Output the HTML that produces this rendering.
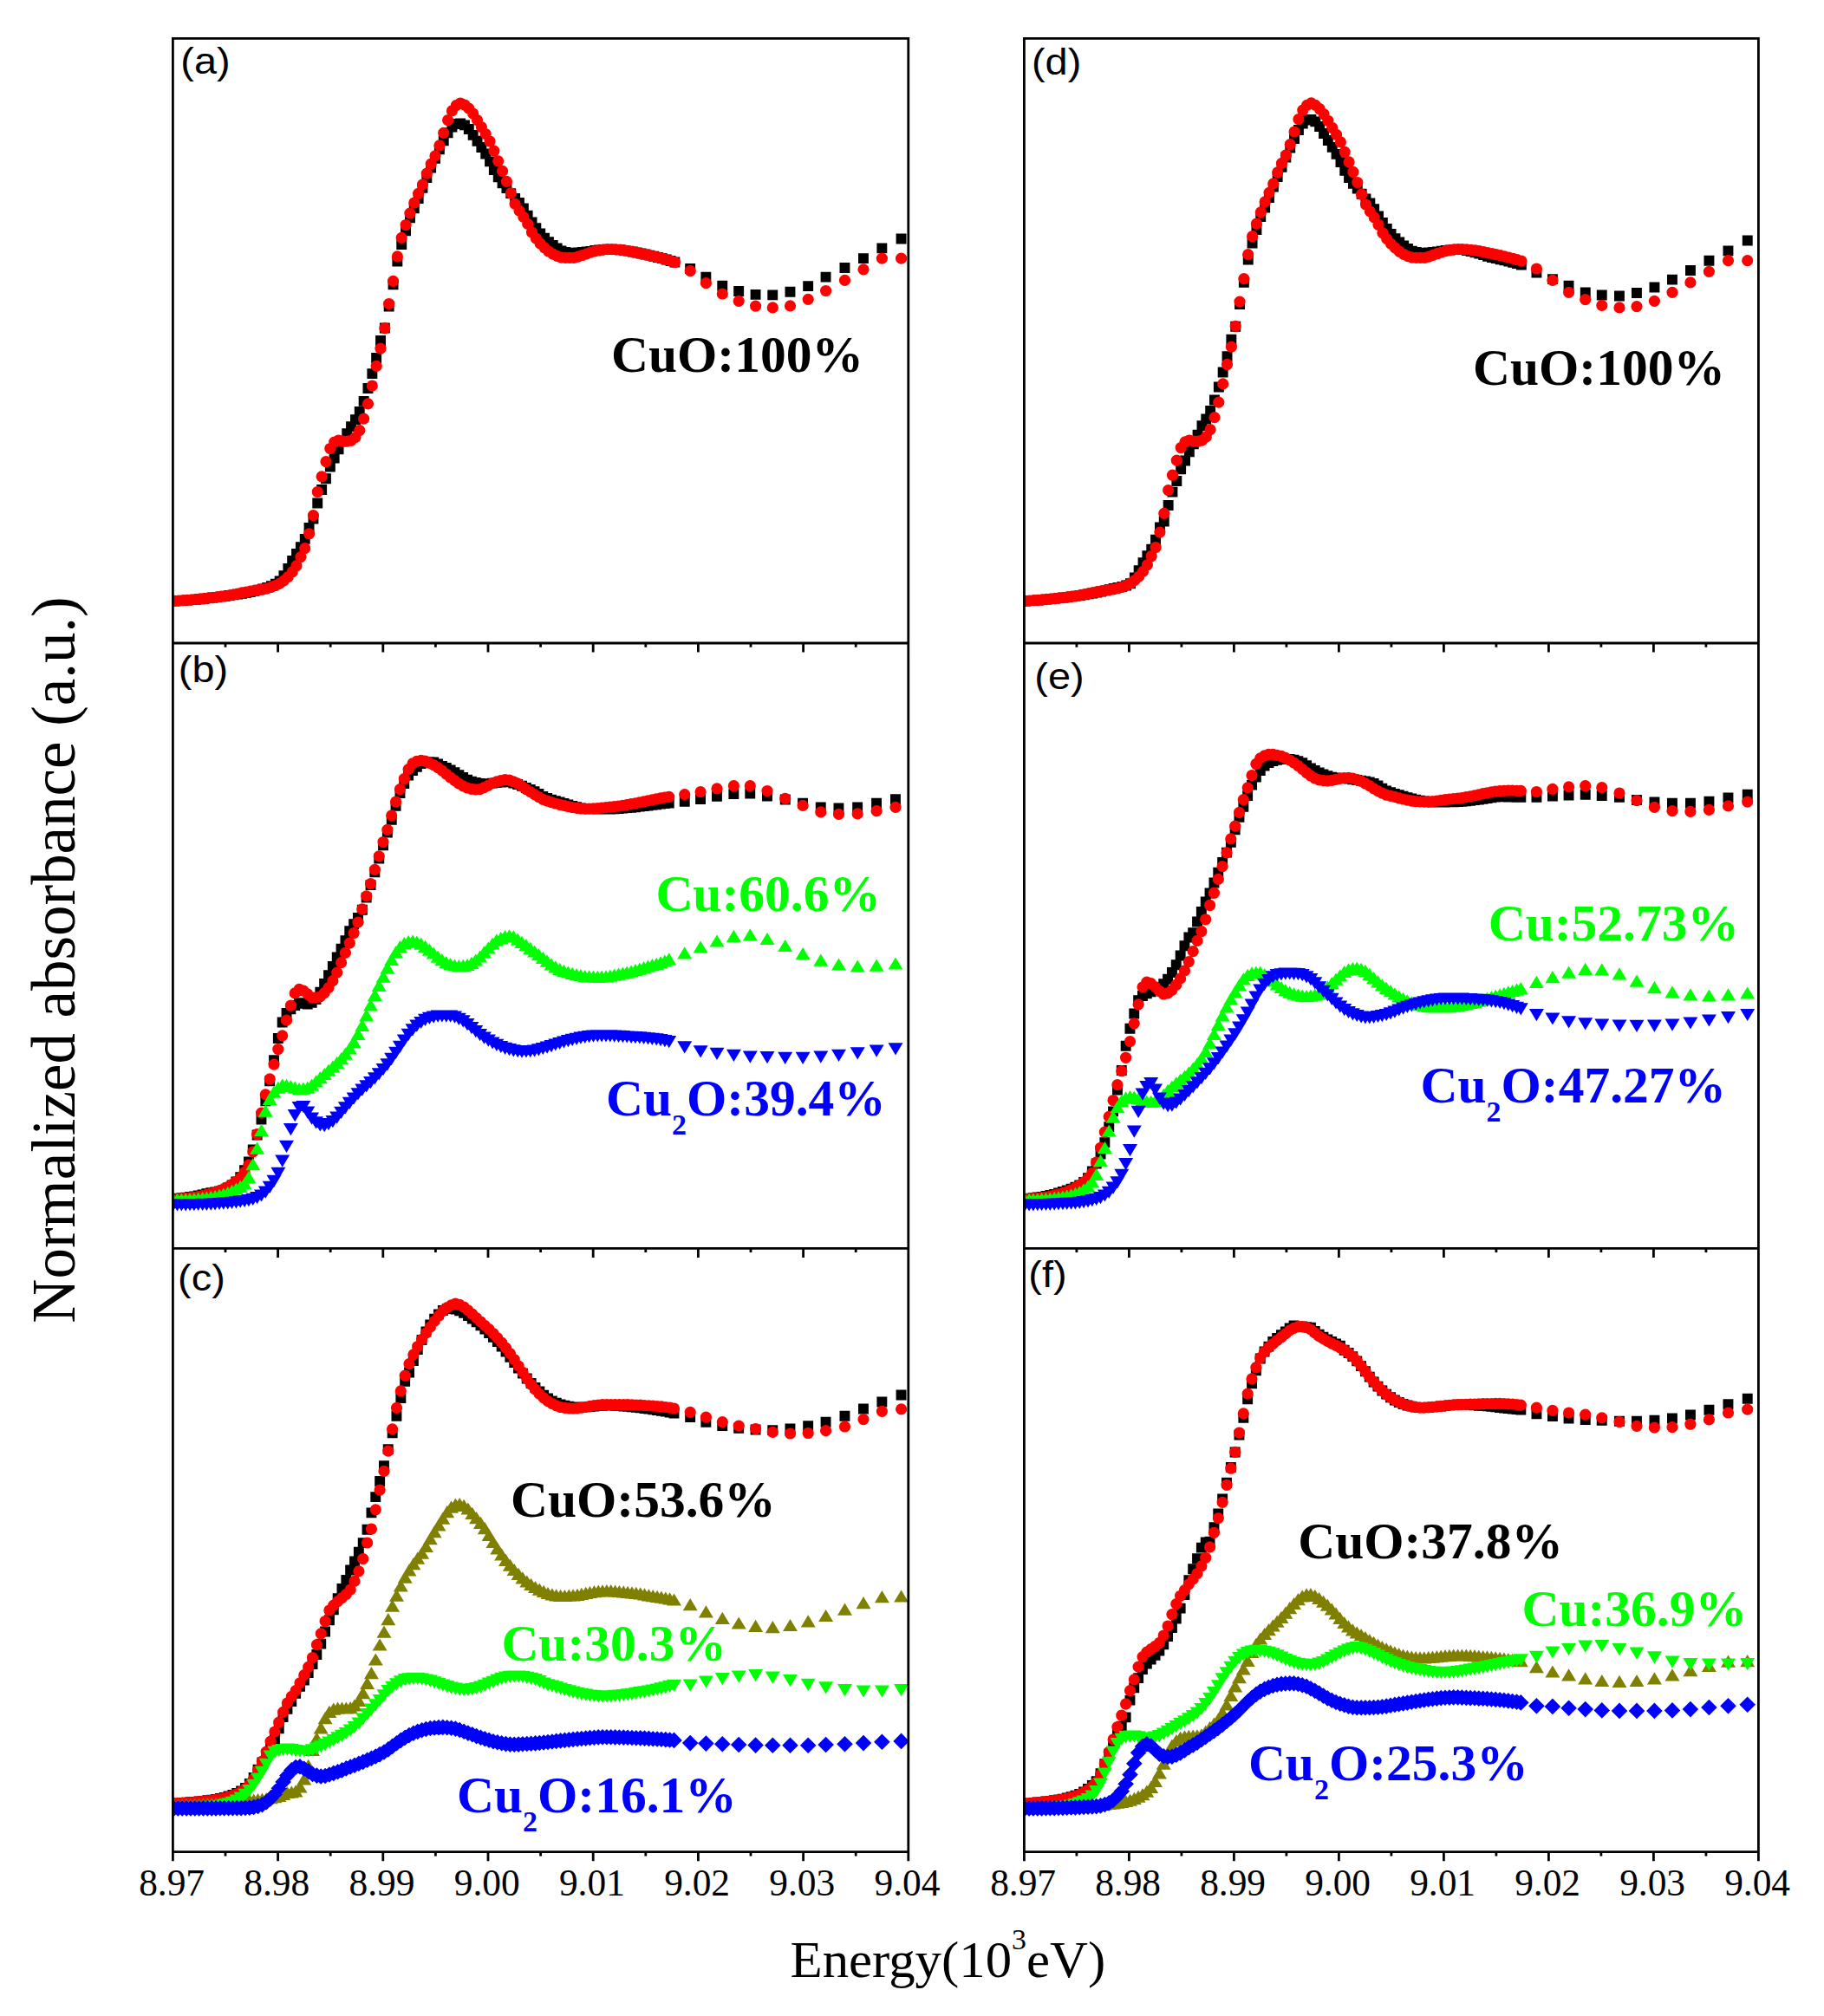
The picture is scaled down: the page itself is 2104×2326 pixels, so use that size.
<!DOCTYPE html>
<html><head><meta charset="utf-8"><title>XANES linear combination fitting</title>
<style>html,body{margin:0;padding:0;background:#fff}svg{display:block}</style></head>
<body>
<svg width="2104" height="2326" viewBox="0 0 2104 2326">
<defs><clipPath id="cl"><rect x="199.4" y="44.3" width="860.4" height="2092.4"/></clipPath><clipPath id="cr"><rect x="1181.4" y="44.3" width="859" height="2092.4"/></clipPath></defs>
<rect width="2104" height="2326" fill="#fff"/>
<g clip-path="url(#cl)">
<path fill="#000" d="M195.5 687.5h11.9v11.9h-11.9zM200.3 687.2h11.9v11.9h-11.9zM205.2 687h11.9v11.9h-11.9zM210 686.6h11.9v11.9h-11.9zM214.9 686.2h11.9v11.9h-11.9zM219.7 685.8h11.9v11.9h-11.9zM224.6 685.3h11.9v11.9h-11.9zM229.4 684.8h11.9v11.9h-11.9zM234.3 684.2h11.9v11.9h-11.9zM239.1 683.6h11.9v11.9h-11.9zM244 683h11.9v11.9h-11.9zM248.8 682.4h11.9v11.9h-11.9zM253.7 681.8h11.9v11.9h-11.9zM258.5 681.1h11.9v11.9h-11.9zM263.4 680.4h11.9v11.9h-11.9zM268.2 679.7h11.9v11.9h-11.9zM273.1 678.9h11.9v11.9h-11.9zM277.9 678h11.9v11.9h-11.9zM282.8 677h11.9v11.9h-11.9zM287.6 675.9h11.9v11.9h-11.9zM292.5 674.7h11.9v11.9h-11.9zM297.3 673.4h11.9v11.9h-11.9zM302.2 672h11.9v11.9h-11.9zM307 670.2h11.9v11.9h-11.9zM311.9 667.8h11.9v11.9h-11.9zM316.7 664.5h11.9v11.9h-11.9zM321.5 658.2h11.9v11.9h-11.9zM326.4 650h11.9v11.9h-11.9zM331.2 641h11.9v11.9h-11.9zM336.1 633h11.9v11.9h-11.9zM340.9 625.3h11.9v11.9h-11.9zM345.8 615.9h11.9v11.9h-11.9zM350.6 603h11.9v11.9h-11.9zM355.5 592.6h11.9v11.9h-11.9zM360.3 574.5h11.9v11.9h-11.9zM365.2 559h11.9v11.9h-11.9zM370 546.3h11.9v11.9h-11.9zM374.9 532.5h11.9v11.9h-11.9zM379.7 522.5h11.9v11.9h-11.9zM384.6 512.3h11.9v11.9h-11.9zM389.4 502.9h11.9v11.9h-11.9zM394.3 494.2h11.9v11.9h-11.9zM399.1 486.2h11.9v11.9h-11.9zM404 478.3h11.9v11.9h-11.9zM408.8 468.9h11.9v11.9h-11.9zM413.7 456.9h11.9v11.9h-11.9zM418.5 442.1h11.9v11.9h-11.9zM423.4 425.2h11.9v11.9h-11.9zM428.2 407.1h11.9v11.9h-11.9zM433.1 387.1h11.9v11.9h-11.9zM437.9 372.6h11.9v11.9h-11.9zM442.7 347.5h11.9v11.9h-11.9zM447.6 322.3h11.9v11.9h-11.9zM452.4 295.6h11.9v11.9h-11.9zM457.3 276.2h11.9v11.9h-11.9zM462.1 260.4h11.9v11.9h-11.9zM467 245.3h11.9v11.9h-11.9zM471.8 234.4h11.9v11.9h-11.9zM476.7 223.2h11.9v11.9h-11.9zM481.5 210.8h11.9v11.9h-11.9zM486.4 199h11.9v11.9h-11.9zM491.2 187.7h11.9v11.9h-11.9zM496.1 176.8h11.9v11.9h-11.9zM500.9 166.3h11.9v11.9h-11.9zM505.8 156.4h11.9v11.9h-11.9zM510.6 147.3h11.9v11.9h-11.9zM515.5 140.5h11.9v11.9h-11.9zM520.3 137h11.9v11.9h-11.9zM525.2 136.6h11.9v11.9h-11.9zM530 138.4h11.9v11.9h-11.9zM534.9 143.1h11.9v11.9h-11.9zM539.7 149.9h11.9v11.9h-11.9zM544.6 156.8h11.9v11.9h-11.9zM549.4 164h11.9v11.9h-11.9zM554.3 171.6h11.9v11.9h-11.9zM559.1 180.4h11.9v11.9h-11.9zM563.9 190.1h11.9v11.9h-11.9zM568.8 198.4h11.9v11.9h-11.9zM573.6 205.3h11.9v11.9h-11.9zM578.5 211.1h11.9v11.9h-11.9zM583.3 217.2h11.9v11.9h-11.9zM588.2 223.1h11.9v11.9h-11.9zM593 227.9h11.9v11.9h-11.9zM597.9 234.5h11.9v11.9h-11.9zM602.7 242.8h11.9v11.9h-11.9zM607.6 250.4h11.9v11.9h-11.9zM612.4 257.3h11.9v11.9h-11.9zM617.3 263.5h11.9v11.9h-11.9zM622.1 268.7h11.9v11.9h-11.9zM627 273.2h11.9v11.9h-11.9zM631.8 277h11.9v11.9h-11.9zM636.7 280.6h11.9v11.9h-11.9zM641.5 283.6h11.9v11.9h-11.9zM646.4 285h11.9v11.9h-11.9zM651.2 285.8h11.9v11.9h-11.9zM656.1 285.9h11.9v11.9h-11.9zM660.9 285.6h11.9v11.9h-11.9zM665.8 285.1h11.9v11.9h-11.9zM670.6 284.6h11.9v11.9h-11.9zM675.5 283.9h11.9v11.9h-11.9zM680.3 283.1h11.9v11.9h-11.9zM685.1 282.5h11.9v11.9h-11.9zM690 281.9h11.9v11.9h-11.9zM694.8 281.7h11.9v11.9h-11.9zM699.7 281.7h11.9v11.9h-11.9zM704.5 282h11.9v11.9h-11.9zM709.4 282.3h11.9v11.9h-11.9zM714.2 282.9h11.9v11.9h-11.9zM719.1 283.7h11.9v11.9h-11.9zM723.9 284.5h11.9v11.9h-11.9zM728.8 285.6h11.9v11.9h-11.9zM733.6 286.6h11.9v11.9h-11.9zM738.5 287.6h11.9v11.9h-11.9zM743.3 288.7h11.9v11.9h-11.9zM748.2 289.8h11.9v11.9h-11.9zM753 291h11.9v11.9h-11.9zM757.9 292.2h11.9v11.9h-11.9zM762.7 293.6h11.9v11.9h-11.9zM767.6 295h11.9v11.9h-11.9zM772.4 296.6h11.9v11.9h-11.9zM790.2 304.1h11.9v11.9h-11.9zM808.4 313.7h11.9v11.9h-11.9zM827.3 323.8h11.9v11.9h-11.9zM846.2 330.1h11.9v11.9h-11.9zM865.6 333.9h11.9v11.9h-11.9zM885.3 334.4h11.9v11.9h-11.9zM905.5 330.8h11.9v11.9h-11.9zM926.2 324.2h11.9v11.9h-11.9zM946.6 313.7h11.9v11.9h-11.9zM968.5 303.1h11.9v11.9h-11.9zM990 292.2h11.9v11.9h-11.9zM1011.4 280.4h11.9v11.9h-11.9zM1033.6 269.6h11.9v11.9h-11.9z"/>
<path fill="#f00" d="M194.9 693.4a6.6 6.6 0 1 0 13.2 0a6.6 6.6 0 1 0 -13.2 0zM199.7 693.1a6.6 6.6 0 1 0 13.2 0a6.6 6.6 0 1 0 -13.2 0zM204.5 692.7a6.6 6.6 0 1 0 13.2 0a6.6 6.6 0 1 0 -13.2 0zM209.4 692.4a6.6 6.6 0 1 0 13.2 0a6.6 6.6 0 1 0 -13.2 0zM214.2 692a6.6 6.6 0 1 0 13.2 0a6.6 6.6 0 1 0 -13.2 0zM219.1 691.6a6.6 6.6 0 1 0 13.2 0a6.6 6.6 0 1 0 -13.2 0zM223.9 691.1a6.6 6.6 0 1 0 13.2 0a6.6 6.6 0 1 0 -13.2 0zM228.8 690.7a6.6 6.6 0 1 0 13.2 0a6.6 6.6 0 1 0 -13.2 0zM233.6 690.2a6.6 6.6 0 1 0 13.2 0a6.6 6.6 0 1 0 -13.2 0zM238.5 689.6a6.6 6.6 0 1 0 13.2 0a6.6 6.6 0 1 0 -13.2 0zM243.3 689.1a6.6 6.6 0 1 0 13.2 0a6.6 6.6 0 1 0 -13.2 0zM248.2 688.4a6.6 6.6 0 1 0 13.2 0a6.6 6.6 0 1 0 -13.2 0zM253 687.8a6.6 6.6 0 1 0 13.2 0a6.6 6.6 0 1 0 -13.2 0zM257.9 687a6.6 6.6 0 1 0 13.2 0a6.6 6.6 0 1 0 -13.2 0zM262.7 686a6.6 6.6 0 1 0 13.2 0a6.6 6.6 0 1 0 -13.2 0zM267.6 685a6.6 6.6 0 1 0 13.2 0a6.6 6.6 0 1 0 -13.2 0zM272.4 683.9a6.6 6.6 0 1 0 13.2 0a6.6 6.6 0 1 0 -13.2 0zM277.3 683a6.6 6.6 0 1 0 13.2 0a6.6 6.6 0 1 0 -13.2 0zM282.1 682.2a6.6 6.6 0 1 0 13.2 0a6.6 6.6 0 1 0 -13.2 0zM287 681.4a6.6 6.6 0 1 0 13.2 0a6.6 6.6 0 1 0 -13.2 0zM291.8 680.7a6.6 6.6 0 1 0 13.2 0a6.6 6.6 0 1 0 -13.2 0zM296.7 679.9a6.6 6.6 0 1 0 13.2 0a6.6 6.6 0 1 0 -13.2 0zM301.5 678.8a6.6 6.6 0 1 0 13.2 0a6.6 6.6 0 1 0 -13.2 0zM306.4 677.4a6.6 6.6 0 1 0 13.2 0a6.6 6.6 0 1 0 -13.2 0zM311.2 675.5a6.6 6.6 0 1 0 13.2 0a6.6 6.6 0 1 0 -13.2 0zM316.1 673.1a6.6 6.6 0 1 0 13.2 0a6.6 6.6 0 1 0 -13.2 0zM320.9 669.8a6.6 6.6 0 1 0 13.2 0a6.6 6.6 0 1 0 -13.2 0zM325.7 665.5a6.6 6.6 0 1 0 13.2 0a6.6 6.6 0 1 0 -13.2 0zM330.6 659.9a6.6 6.6 0 1 0 13.2 0a6.6 6.6 0 1 0 -13.2 0zM335.4 652.7a6.6 6.6 0 1 0 13.2 0a6.6 6.6 0 1 0 -13.2 0zM340.3 642.6a6.6 6.6 0 1 0 13.2 0a6.6 6.6 0 1 0 -13.2 0zM345.1 632.7a6.6 6.6 0 1 0 13.2 0a6.6 6.6 0 1 0 -13.2 0zM350 615.8a6.6 6.6 0 1 0 13.2 0a6.6 6.6 0 1 0 -13.2 0zM354.8 594.6a6.6 6.6 0 1 0 13.2 0a6.6 6.6 0 1 0 -13.2 0zM359.7 567.5a6.6 6.6 0 1 0 13.2 0a6.6 6.6 0 1 0 -13.2 0zM364.5 549.8a6.6 6.6 0 1 0 13.2 0a6.6 6.6 0 1 0 -13.2 0zM369.4 532.6a6.6 6.6 0 1 0 13.2 0a6.6 6.6 0 1 0 -13.2 0zM374.2 517.5a6.6 6.6 0 1 0 13.2 0a6.6 6.6 0 1 0 -13.2 0zM379.1 510.1a6.6 6.6 0 1 0 13.2 0a6.6 6.6 0 1 0 -13.2 0zM383.9 508a6.6 6.6 0 1 0 13.2 0a6.6 6.6 0 1 0 -13.2 0zM388.8 509.1a6.6 6.6 0 1 0 13.2 0a6.6 6.6 0 1 0 -13.2 0zM393.6 509.2a6.6 6.6 0 1 0 13.2 0a6.6 6.6 0 1 0 -13.2 0zM398.5 508.3a6.6 6.6 0 1 0 13.2 0a6.6 6.6 0 1 0 -13.2 0zM403.3 504.7a6.6 6.6 0 1 0 13.2 0a6.6 6.6 0 1 0 -13.2 0zM408.2 496.7a6.6 6.6 0 1 0 13.2 0a6.6 6.6 0 1 0 -13.2 0zM413 483.2a6.6 6.6 0 1 0 13.2 0a6.6 6.6 0 1 0 -13.2 0zM417.9 465.8a6.6 6.6 0 1 0 13.2 0a6.6 6.6 0 1 0 -13.2 0zM422.7 445a6.6 6.6 0 1 0 13.2 0a6.6 6.6 0 1 0 -13.2 0zM427.6 422.4a6.6 6.6 0 1 0 13.2 0a6.6 6.6 0 1 0 -13.2 0zM432.4 402.1a6.6 6.6 0 1 0 13.2 0a6.6 6.6 0 1 0 -13.2 0zM437.2 378.7a6.6 6.6 0 1 0 13.2 0a6.6 6.6 0 1 0 -13.2 0zM442.1 350.5a6.6 6.6 0 1 0 13.2 0a6.6 6.6 0 1 0 -13.2 0zM446.9 324.3a6.6 6.6 0 1 0 13.2 0a6.6 6.6 0 1 0 -13.2 0zM451.8 295.9a6.6 6.6 0 1 0 13.2 0a6.6 6.6 0 1 0 -13.2 0zM456.6 274.3a6.6 6.6 0 1 0 13.2 0a6.6 6.6 0 1 0 -13.2 0zM461.5 259.5a6.6 6.6 0 1 0 13.2 0a6.6 6.6 0 1 0 -13.2 0zM466.3 246.1a6.6 6.6 0 1 0 13.2 0a6.6 6.6 0 1 0 -13.2 0zM471.2 234a6.6 6.6 0 1 0 13.2 0a6.6 6.6 0 1 0 -13.2 0zM476 223.3a6.6 6.6 0 1 0 13.2 0a6.6 6.6 0 1 0 -13.2 0zM480.9 212.9a6.6 6.6 0 1 0 13.2 0a6.6 6.6 0 1 0 -13.2 0zM485.7 200.2a6.6 6.6 0 1 0 13.2 0a6.6 6.6 0 1 0 -13.2 0zM490.6 189.2a6.6 6.6 0 1 0 13.2 0a6.6 6.6 0 1 0 -13.2 0zM495.4 179.8a6.6 6.6 0 1 0 13.2 0a6.6 6.6 0 1 0 -13.2 0zM500.3 167.8a6.6 6.6 0 1 0 13.2 0a6.6 6.6 0 1 0 -13.2 0zM505.1 153.3a6.6 6.6 0 1 0 13.2 0a6.6 6.6 0 1 0 -13.2 0zM510 138.7a6.6 6.6 0 1 0 13.2 0a6.6 6.6 0 1 0 -13.2 0zM514.8 127.9a6.6 6.6 0 1 0 13.2 0a6.6 6.6 0 1 0 -13.2 0zM519.7 121.7a6.6 6.6 0 1 0 13.2 0a6.6 6.6 0 1 0 -13.2 0zM524.5 119a6.6 6.6 0 1 0 13.2 0a6.6 6.6 0 1 0 -13.2 0zM529.4 121a6.6 6.6 0 1 0 13.2 0a6.6 6.6 0 1 0 -13.2 0zM534.2 125.2a6.6 6.6 0 1 0 13.2 0a6.6 6.6 0 1 0 -13.2 0zM539.1 131a6.6 6.6 0 1 0 13.2 0a6.6 6.6 0 1 0 -13.2 0zM543.9 138.6a6.6 6.6 0 1 0 13.2 0a6.6 6.6 0 1 0 -13.2 0zM548.8 146.7a6.6 6.6 0 1 0 13.2 0a6.6 6.6 0 1 0 -13.2 0zM553.6 154.7a6.6 6.6 0 1 0 13.2 0a6.6 6.6 0 1 0 -13.2 0zM558.4 163a6.6 6.6 0 1 0 13.2 0a6.6 6.6 0 1 0 -13.2 0zM563.3 174.1a6.6 6.6 0 1 0 13.2 0a6.6 6.6 0 1 0 -13.2 0zM568.1 185.8a6.6 6.6 0 1 0 13.2 0a6.6 6.6 0 1 0 -13.2 0zM573 197.4a6.6 6.6 0 1 0 13.2 0a6.6 6.6 0 1 0 -13.2 0zM577.8 209.3a6.6 6.6 0 1 0 13.2 0a6.6 6.6 0 1 0 -13.2 0zM582.7 222.8a6.6 6.6 0 1 0 13.2 0a6.6 6.6 0 1 0 -13.2 0zM587.5 235.3a6.6 6.6 0 1 0 13.2 0a6.6 6.6 0 1 0 -13.2 0zM592.4 243.1a6.6 6.6 0 1 0 13.2 0a6.6 6.6 0 1 0 -13.2 0zM597.2 250.3a6.6 6.6 0 1 0 13.2 0a6.6 6.6 0 1 0 -13.2 0zM602.1 258.3a6.6 6.6 0 1 0 13.2 0a6.6 6.6 0 1 0 -13.2 0zM606.9 268.1a6.6 6.6 0 1 0 13.2 0a6.6 6.6 0 1 0 -13.2 0zM611.8 275.2a6.6 6.6 0 1 0 13.2 0a6.6 6.6 0 1 0 -13.2 0zM616.6 281a6.6 6.6 0 1 0 13.2 0a6.6 6.6 0 1 0 -13.2 0zM621.5 285.8a6.6 6.6 0 1 0 13.2 0a6.6 6.6 0 1 0 -13.2 0zM626.3 290a6.6 6.6 0 1 0 13.2 0a6.6 6.6 0 1 0 -13.2 0zM631.2 293.1a6.6 6.6 0 1 0 13.2 0a6.6 6.6 0 1 0 -13.2 0zM636 295.4a6.6 6.6 0 1 0 13.2 0a6.6 6.6 0 1 0 -13.2 0zM640.9 297.1a6.6 6.6 0 1 0 13.2 0a6.6 6.6 0 1 0 -13.2 0zM645.7 297.4a6.6 6.6 0 1 0 13.2 0a6.6 6.6 0 1 0 -13.2 0zM650.6 297.4a6.6 6.6 0 1 0 13.2 0a6.6 6.6 0 1 0 -13.2 0zM655.4 297.3a6.6 6.6 0 1 0 13.2 0a6.6 6.6 0 1 0 -13.2 0zM660.3 296.2a6.6 6.6 0 1 0 13.2 0a6.6 6.6 0 1 0 -13.2 0zM665.1 294.5a6.6 6.6 0 1 0 13.2 0a6.6 6.6 0 1 0 -13.2 0zM670 292.8a6.6 6.6 0 1 0 13.2 0a6.6 6.6 0 1 0 -13.2 0zM674.8 291.2a6.6 6.6 0 1 0 13.2 0a6.6 6.6 0 1 0 -13.2 0zM679.6 289.8a6.6 6.6 0 1 0 13.2 0a6.6 6.6 0 1 0 -13.2 0zM684.5 288.8a6.6 6.6 0 1 0 13.2 0a6.6 6.6 0 1 0 -13.2 0zM689.3 288a6.6 6.6 0 1 0 13.2 0a6.6 6.6 0 1 0 -13.2 0zM694.2 287.6a6.6 6.6 0 1 0 13.2 0a6.6 6.6 0 1 0 -13.2 0zM699 287.7a6.6 6.6 0 1 0 13.2 0a6.6 6.6 0 1 0 -13.2 0zM703.9 287.9a6.6 6.6 0 1 0 13.2 0a6.6 6.6 0 1 0 -13.2 0zM708.7 288.2a6.6 6.6 0 1 0 13.2 0a6.6 6.6 0 1 0 -13.2 0zM713.6 288.8a6.6 6.6 0 1 0 13.2 0a6.6 6.6 0 1 0 -13.2 0zM718.4 289.6a6.6 6.6 0 1 0 13.2 0a6.6 6.6 0 1 0 -13.2 0zM723.3 290.5a6.6 6.6 0 1 0 13.2 0a6.6 6.6 0 1 0 -13.2 0zM728.1 291.5a6.6 6.6 0 1 0 13.2 0a6.6 6.6 0 1 0 -13.2 0zM733 292.6a6.6 6.6 0 1 0 13.2 0a6.6 6.6 0 1 0 -13.2 0zM737.8 293.6a6.6 6.6 0 1 0 13.2 0a6.6 6.6 0 1 0 -13.2 0zM742.7 294.6a6.6 6.6 0 1 0 13.2 0a6.6 6.6 0 1 0 -13.2 0zM747.5 295.8a6.6 6.6 0 1 0 13.2 0a6.6 6.6 0 1 0 -13.2 0zM752.4 296.9a6.6 6.6 0 1 0 13.2 0a6.6 6.6 0 1 0 -13.2 0zM757.2 298.2a6.6 6.6 0 1 0 13.2 0a6.6 6.6 0 1 0 -13.2 0zM762.1 299.5a6.6 6.6 0 1 0 13.2 0a6.6 6.6 0 1 0 -13.2 0zM766.9 300.9a6.6 6.6 0 1 0 13.2 0a6.6 6.6 0 1 0 -13.2 0zM771.8 302.5a6.6 6.6 0 1 0 13.2 0a6.6 6.6 0 1 0 -13.2 0zM789.6 312.5a6.6 6.6 0 1 0 13.2 0a6.6 6.6 0 1 0 -13.2 0zM807.8 326.7a6.6 6.6 0 1 0 13.2 0a6.6 6.6 0 1 0 -13.2 0zM826.7 339a6.6 6.6 0 1 0 13.2 0a6.6 6.6 0 1 0 -13.2 0zM845.6 347.3a6.6 6.6 0 1 0 13.2 0a6.6 6.6 0 1 0 -13.2 0zM865 353.1a6.6 6.6 0 1 0 13.2 0a6.6 6.6 0 1 0 -13.2 0zM884.7 354.9a6.6 6.6 0 1 0 13.2 0a6.6 6.6 0 1 0 -13.2 0zM904.9 352.9a6.6 6.6 0 1 0 13.2 0a6.6 6.6 0 1 0 -13.2 0zM925.6 345.3a6.6 6.6 0 1 0 13.2 0a6.6 6.6 0 1 0 -13.2 0zM946 335.5a6.6 6.6 0 1 0 13.2 0a6.6 6.6 0 1 0 -13.2 0zM967.9 323.4a6.6 6.6 0 1 0 13.2 0a6.6 6.6 0 1 0 -13.2 0zM989.4 310.8a6.6 6.6 0 1 0 13.2 0a6.6 6.6 0 1 0 -13.2 0zM1010.8 298.2a6.6 6.6 0 1 0 13.2 0a6.6 6.6 0 1 0 -13.2 0zM1033 298.2a6.6 6.6 0 1 0 13.2 0a6.6 6.6 0 1 0 -13.2 0z"/>
<path fill="#000" d="M193.7 1377h11.9v11.9h-11.9zM198.5 1376.7h11.9v11.9h-11.9zM203.4 1376.3h11.9v11.9h-11.9zM208.2 1375.7h11.9v11.9h-11.9zM213.1 1375.1h11.9v11.9h-11.9zM217.9 1374.4h11.9v11.9h-11.9zM222.8 1373.5h11.9v11.9h-11.9zM227.6 1372.4h11.9v11.9h-11.9zM232.5 1371.2h11.9v11.9h-11.9zM237.3 1370.3h11.9v11.9h-11.9zM242.2 1369.4h11.9v11.9h-11.9zM247 1368.5h11.9v11.9h-11.9zM251.9 1367.1h11.9v11.9h-11.9zM256.7 1364.5h11.9v11.9h-11.9zM261.6 1361.4h11.9v11.9h-11.9zM266.4 1357.4h11.9v11.9h-11.9zM271.3 1352.2h11.9v11.9h-11.9zM276.1 1344.3h11.9v11.9h-11.9zM281 1334.6h11.9v11.9h-11.9zM285.8 1320.4h11.9v11.9h-11.9zM290.7 1303.6h11.9v11.9h-11.9zM295.5 1285.7h11.9v11.9h-11.9zM300.4 1264.4h11.9v11.9h-11.9zM305.2 1241.4h11.9v11.9h-11.9zM310.1 1217.3h11.9v11.9h-11.9zM314.9 1192h11.9v11.9h-11.9zM319.7 1173.6h11.9v11.9h-11.9zM324.6 1162.9h11.9v11.9h-11.9zM329.4 1158.4h11.9v11.9h-11.9zM334.3 1154h11.9v11.9h-11.9zM339.1 1151.2h11.9v11.9h-11.9zM344 1151.8h11.9v11.9h-11.9zM348.8 1152.5h11.9v11.9h-11.9zM353.7 1150.9h11.9v11.9h-11.9zM358.5 1147.1h11.9v11.9h-11.9zM363.4 1138.7h11.9v11.9h-11.9zM368.2 1128.9h11.9v11.9h-11.9zM373.1 1119.2h11.9v11.9h-11.9zM377.9 1109.1h11.9v11.9h-11.9zM382.8 1098.5h11.9v11.9h-11.9zM387.6 1088.7h11.9v11.9h-11.9zM392.5 1079.2h11.9v11.9h-11.9zM397.3 1068.3h11.9v11.9h-11.9zM402.2 1060.3h11.9v11.9h-11.9zM407 1052.9h11.9v11.9h-11.9zM411.9 1043.8h11.9v11.9h-11.9zM416.7 1029.7h11.9v11.9h-11.9zM421.6 1015.2h11.9v11.9h-11.9zM426.4 1000.3h11.9v11.9h-11.9zM431.3 984.7h11.9v11.9h-11.9zM436.1 969.3h11.9v11.9h-11.9zM440.9 954.6h11.9v11.9h-11.9zM445.8 939.9h11.9v11.9h-11.9zM450.6 923.8h11.9v11.9h-11.9zM455.5 909.2h11.9v11.9h-11.9zM460.3 898.1h11.9v11.9h-11.9zM465.2 888.7h11.9v11.9h-11.9zM470 883h11.9v11.9h-11.9zM474.9 878.9h11.9v11.9h-11.9zM479.7 875.2h11.9v11.9h-11.9zM484.6 873.6h11.9v11.9h-11.9zM489.4 873.3h11.9v11.9h-11.9zM494.3 873.4h11.9v11.9h-11.9zM499.1 875.6h11.9v11.9h-11.9zM504 878h11.9v11.9h-11.9zM508.8 880.1h11.9v11.9h-11.9zM513.7 882.5h11.9v11.9h-11.9zM518.5 885.3h11.9v11.9h-11.9zM523.4 888.3h11.9v11.9h-11.9zM528.2 891.1h11.9v11.9h-11.9zM533.1 893.8h11.9v11.9h-11.9zM537.9 895.7h11.9v11.9h-11.9zM542.8 897.1h11.9v11.9h-11.9zM547.6 898.1h11.9v11.9h-11.9zM552.5 898.4h11.9v11.9h-11.9zM557.3 898.2h11.9v11.9h-11.9zM562.1 897.7h11.9v11.9h-11.9zM567 897.1h11.9v11.9h-11.9zM571.8 896.5h11.9v11.9h-11.9zM576.7 896.1h11.9v11.9h-11.9zM581.5 896.4h11.9v11.9h-11.9zM586.4 897.6h11.9v11.9h-11.9zM591.2 899h11.9v11.9h-11.9zM596.1 900.8h11.9v11.9h-11.9zM600.9 903h11.9v11.9h-11.9zM605.8 905h11.9v11.9h-11.9zM610.6 907.3h11.9v11.9h-11.9zM615.5 910h11.9v11.9h-11.9zM620.3 913.1h11.9v11.9h-11.9zM625.2 915.1h11.9v11.9h-11.9zM630 916.7h11.9v11.9h-11.9zM634.9 918.2h11.9v11.9h-11.9zM639.7 919.5h11.9v11.9h-11.9zM644.6 920.9h11.9v11.9h-11.9zM649.4 922.4h11.9v11.9h-11.9zM654.3 923.9h11.9v11.9h-11.9zM659.1 925.3h11.9v11.9h-11.9zM664 926.5h11.9v11.9h-11.9zM668.8 927.1h11.9v11.9h-11.9zM673.7 927.3h11.9v11.9h-11.9zM678.5 927.4h11.9v11.9h-11.9zM683.3 927.5h11.9v11.9h-11.9zM688.2 927.6h11.9v11.9h-11.9zM693 927.6h11.9v11.9h-11.9zM697.9 927.6h11.9v11.9h-11.9zM702.7 927.4h11.9v11.9h-11.9zM707.6 927.1h11.9v11.9h-11.9zM712.4 926.6h11.9v11.9h-11.9zM717.3 926.2h11.9v11.9h-11.9zM722.1 925.8h11.9v11.9h-11.9zM727 925.3h11.9v11.9h-11.9zM731.8 924.7h11.9v11.9h-11.9zM736.7 924.1h11.9v11.9h-11.9zM741.5 923.5h11.9v11.9h-11.9zM746.4 922.9h11.9v11.9h-11.9zM751.2 922.3h11.9v11.9h-11.9zM756.1 921.7h11.9v11.9h-11.9zM760.9 921.1h11.9v11.9h-11.9zM765.8 920.5h11.9v11.9h-11.9zM783.8 918.8h11.9v11.9h-11.9zM802.1 916.1h11.9v11.9h-11.9zM821 912.8h11.9v11.9h-11.9zM840.4 910.2h11.9v11.9h-11.9zM859.3 909.5h11.9v11.9h-11.9zM879 912.5h11.9v11.9h-11.9zM899.8 916.5h11.9v11.9h-11.9zM920.1 920.8h11.9v11.9h-11.9zM940.8 925.4h11.9v11.9h-11.9zM961.5 926.6h11.9v11.9h-11.9zM983.2 925.4h11.9v11.9h-11.9zM1005.1 920.8h11.9v11.9h-11.9zM1027 916.3h11.9v11.9h-11.9z"/>
<path fill="#f00" d="M193.1 1383.5a6.6 6.6 0 1 0 13.2 0a6.6 6.6 0 1 0 -13.2 0zM197.9 1383.3a6.6 6.6 0 1 0 13.2 0a6.6 6.6 0 1 0 -13.2 0zM202.7 1382.9a6.6 6.6 0 1 0 13.2 0a6.6 6.6 0 1 0 -13.2 0zM207.6 1382.4a6.6 6.6 0 1 0 13.2 0a6.6 6.6 0 1 0 -13.2 0zM212.4 1381.9a6.6 6.6 0 1 0 13.2 0a6.6 6.6 0 1 0 -13.2 0zM217.3 1381.3a6.6 6.6 0 1 0 13.2 0a6.6 6.6 0 1 0 -13.2 0zM222.1 1380.5a6.6 6.6 0 1 0 13.2 0a6.6 6.6 0 1 0 -13.2 0zM227 1379.5a6.6 6.6 0 1 0 13.2 0a6.6 6.6 0 1 0 -13.2 0zM231.8 1378.3a6.6 6.6 0 1 0 13.2 0a6.6 6.6 0 1 0 -13.2 0zM236.7 1377a6.6 6.6 0 1 0 13.2 0a6.6 6.6 0 1 0 -13.2 0zM241.5 1375.6a6.6 6.6 0 1 0 13.2 0a6.6 6.6 0 1 0 -13.2 0zM246.4 1373.9a6.6 6.6 0 1 0 13.2 0a6.6 6.6 0 1 0 -13.2 0zM251.2 1371.9a6.6 6.6 0 1 0 13.2 0a6.6 6.6 0 1 0 -13.2 0zM256.1 1369.5a6.6 6.6 0 1 0 13.2 0a6.6 6.6 0 1 0 -13.2 0zM260.9 1366.5a6.6 6.6 0 1 0 13.2 0a6.6 6.6 0 1 0 -13.2 0zM265.8 1363a6.6 6.6 0 1 0 13.2 0a6.6 6.6 0 1 0 -13.2 0zM270.6 1359.1a6.6 6.6 0 1 0 13.2 0a6.6 6.6 0 1 0 -13.2 0zM275.5 1352.4a6.6 6.6 0 1 0 13.2 0a6.6 6.6 0 1 0 -13.2 0zM280.3 1344.1a6.6 6.6 0 1 0 13.2 0a6.6 6.6 0 1 0 -13.2 0zM285.2 1328.8a6.6 6.6 0 1 0 13.2 0a6.6 6.6 0 1 0 -13.2 0zM290 1308.7a6.6 6.6 0 1 0 13.2 0a6.6 6.6 0 1 0 -13.2 0zM294.9 1284.1a6.6 6.6 0 1 0 13.2 0a6.6 6.6 0 1 0 -13.2 0zM299.7 1262.8a6.6 6.6 0 1 0 13.2 0a6.6 6.6 0 1 0 -13.2 0zM304.6 1244.8a6.6 6.6 0 1 0 13.2 0a6.6 6.6 0 1 0 -13.2 0zM309.4 1228.1a6.6 6.6 0 1 0 13.2 0a6.6 6.6 0 1 0 -13.2 0zM314.2 1210.5a6.6 6.6 0 1 0 13.2 0a6.6 6.6 0 1 0 -13.2 0zM319.1 1194.8a6.6 6.6 0 1 0 13.2 0a6.6 6.6 0 1 0 -13.2 0zM323.9 1177.2a6.6 6.6 0 1 0 13.2 0a6.6 6.6 0 1 0 -13.2 0zM328.8 1160.2a6.6 6.6 0 1 0 13.2 0a6.6 6.6 0 1 0 -13.2 0zM333.6 1145.9a6.6 6.6 0 1 0 13.2 0a6.6 6.6 0 1 0 -13.2 0zM338.5 1141.4a6.6 6.6 0 1 0 13.2 0a6.6 6.6 0 1 0 -13.2 0zM343.3 1143a6.6 6.6 0 1 0 13.2 0a6.6 6.6 0 1 0 -13.2 0zM348.2 1146.8a6.6 6.6 0 1 0 13.2 0a6.6 6.6 0 1 0 -13.2 0zM353 1150.8a6.6 6.6 0 1 0 13.2 0a6.6 6.6 0 1 0 -13.2 0zM357.9 1150.8a6.6 6.6 0 1 0 13.2 0a6.6 6.6 0 1 0 -13.2 0zM362.7 1149.9a6.6 6.6 0 1 0 13.2 0a6.6 6.6 0 1 0 -13.2 0zM367.6 1145.7a6.6 6.6 0 1 0 13.2 0a6.6 6.6 0 1 0 -13.2 0zM372.4 1139.6a6.6 6.6 0 1 0 13.2 0a6.6 6.6 0 1 0 -13.2 0zM377.3 1131.7a6.6 6.6 0 1 0 13.2 0a6.6 6.6 0 1 0 -13.2 0zM382.1 1122.1a6.6 6.6 0 1 0 13.2 0a6.6 6.6 0 1 0 -13.2 0zM387 1110.7a6.6 6.6 0 1 0 13.2 0a6.6 6.6 0 1 0 -13.2 0zM391.8 1099.4a6.6 6.6 0 1 0 13.2 0a6.6 6.6 0 1 0 -13.2 0zM396.7 1088.1a6.6 6.6 0 1 0 13.2 0a6.6 6.6 0 1 0 -13.2 0zM401.5 1076.5a6.6 6.6 0 1 0 13.2 0a6.6 6.6 0 1 0 -13.2 0zM406.4 1064.2a6.6 6.6 0 1 0 13.2 0a6.6 6.6 0 1 0 -13.2 0zM411.2 1048.9a6.6 6.6 0 1 0 13.2 0a6.6 6.6 0 1 0 -13.2 0zM416.1 1033.8a6.6 6.6 0 1 0 13.2 0a6.6 6.6 0 1 0 -13.2 0zM420.9 1019.6a6.6 6.6 0 1 0 13.2 0a6.6 6.6 0 1 0 -13.2 0zM425.8 1003.3a6.6 6.6 0 1 0 13.2 0a6.6 6.6 0 1 0 -13.2 0zM430.6 987.8a6.6 6.6 0 1 0 13.2 0a6.6 6.6 0 1 0 -13.2 0zM435.4 971.5a6.6 6.6 0 1 0 13.2 0a6.6 6.6 0 1 0 -13.2 0zM440.3 957.3a6.6 6.6 0 1 0 13.2 0a6.6 6.6 0 1 0 -13.2 0zM445.1 940.8a6.6 6.6 0 1 0 13.2 0a6.6 6.6 0 1 0 -13.2 0zM450 925a6.6 6.6 0 1 0 13.2 0a6.6 6.6 0 1 0 -13.2 0zM454.8 910.6a6.6 6.6 0 1 0 13.2 0a6.6 6.6 0 1 0 -13.2 0zM459.7 898.5a6.6 6.6 0 1 0 13.2 0a6.6 6.6 0 1 0 -13.2 0zM464.5 887.6a6.6 6.6 0 1 0 13.2 0a6.6 6.6 0 1 0 -13.2 0zM469.4 880.9a6.6 6.6 0 1 0 13.2 0a6.6 6.6 0 1 0 -13.2 0zM474.2 878.3a6.6 6.6 0 1 0 13.2 0a6.6 6.6 0 1 0 -13.2 0zM479.1 877.3a6.6 6.6 0 1 0 13.2 0a6.6 6.6 0 1 0 -13.2 0zM483.9 878.2a6.6 6.6 0 1 0 13.2 0a6.6 6.6 0 1 0 -13.2 0zM488.8 880.3a6.6 6.6 0 1 0 13.2 0a6.6 6.6 0 1 0 -13.2 0zM493.6 882.7a6.6 6.6 0 1 0 13.2 0a6.6 6.6 0 1 0 -13.2 0zM498.5 885.7a6.6 6.6 0 1 0 13.2 0a6.6 6.6 0 1 0 -13.2 0zM503.3 889.1a6.6 6.6 0 1 0 13.2 0a6.6 6.6 0 1 0 -13.2 0zM508.2 893a6.6 6.6 0 1 0 13.2 0a6.6 6.6 0 1 0 -13.2 0zM513 897a6.6 6.6 0 1 0 13.2 0a6.6 6.6 0 1 0 -13.2 0zM517.9 900.7a6.6 6.6 0 1 0 13.2 0a6.6 6.6 0 1 0 -13.2 0zM522.7 904.2a6.6 6.6 0 1 0 13.2 0a6.6 6.6 0 1 0 -13.2 0zM527.6 906.8a6.6 6.6 0 1 0 13.2 0a6.6 6.6 0 1 0 -13.2 0zM532.4 909a6.6 6.6 0 1 0 13.2 0a6.6 6.6 0 1 0 -13.2 0zM537.3 910.3a6.6 6.6 0 1 0 13.2 0a6.6 6.6 0 1 0 -13.2 0zM542.1 910.9a6.6 6.6 0 1 0 13.2 0a6.6 6.6 0 1 0 -13.2 0zM547 910.6a6.6 6.6 0 1 0 13.2 0a6.6 6.6 0 1 0 -13.2 0zM551.8 908.6a6.6 6.6 0 1 0 13.2 0a6.6 6.6 0 1 0 -13.2 0zM556.6 906.4a6.6 6.6 0 1 0 13.2 0a6.6 6.6 0 1 0 -13.2 0zM561.5 903.7a6.6 6.6 0 1 0 13.2 0a6.6 6.6 0 1 0 -13.2 0zM566.3 901.8a6.6 6.6 0 1 0 13.2 0a6.6 6.6 0 1 0 -13.2 0zM571.2 900.5a6.6 6.6 0 1 0 13.2 0a6.6 6.6 0 1 0 -13.2 0zM576 899.7a6.6 6.6 0 1 0 13.2 0a6.6 6.6 0 1 0 -13.2 0zM580.9 900.2a6.6 6.6 0 1 0 13.2 0a6.6 6.6 0 1 0 -13.2 0zM585.7 901.9a6.6 6.6 0 1 0 13.2 0a6.6 6.6 0 1 0 -13.2 0zM590.6 904a6.6 6.6 0 1 0 13.2 0a6.6 6.6 0 1 0 -13.2 0zM595.4 907.2a6.6 6.6 0 1 0 13.2 0a6.6 6.6 0 1 0 -13.2 0zM600.3 910.7a6.6 6.6 0 1 0 13.2 0a6.6 6.6 0 1 0 -13.2 0zM605.1 913.7a6.6 6.6 0 1 0 13.2 0a6.6 6.6 0 1 0 -13.2 0zM610 916.6a6.6 6.6 0 1 0 13.2 0a6.6 6.6 0 1 0 -13.2 0zM614.8 919.5a6.6 6.6 0 1 0 13.2 0a6.6 6.6 0 1 0 -13.2 0zM619.7 922.3a6.6 6.6 0 1 0 13.2 0a6.6 6.6 0 1 0 -13.2 0zM624.5 924.1a6.6 6.6 0 1 0 13.2 0a6.6 6.6 0 1 0 -13.2 0zM629.4 925.6a6.6 6.6 0 1 0 13.2 0a6.6 6.6 0 1 0 -13.2 0zM634.2 927a6.6 6.6 0 1 0 13.2 0a6.6 6.6 0 1 0 -13.2 0zM639.1 928.3a6.6 6.6 0 1 0 13.2 0a6.6 6.6 0 1 0 -13.2 0zM643.9 929.4a6.6 6.6 0 1 0 13.2 0a6.6 6.6 0 1 0 -13.2 0zM648.8 930.5a6.6 6.6 0 1 0 13.2 0a6.6 6.6 0 1 0 -13.2 0zM653.6 931.5a6.6 6.6 0 1 0 13.2 0a6.6 6.6 0 1 0 -13.2 0zM658.5 932.2a6.6 6.6 0 1 0 13.2 0a6.6 6.6 0 1 0 -13.2 0zM663.3 932.8a6.6 6.6 0 1 0 13.2 0a6.6 6.6 0 1 0 -13.2 0zM668.2 933.1a6.6 6.6 0 1 0 13.2 0a6.6 6.6 0 1 0 -13.2 0zM673 933a6.6 6.6 0 1 0 13.2 0a6.6 6.6 0 1 0 -13.2 0zM677.9 932.8a6.6 6.6 0 1 0 13.2 0a6.6 6.6 0 1 0 -13.2 0zM682.7 932.5a6.6 6.6 0 1 0 13.2 0a6.6 6.6 0 1 0 -13.2 0zM687.5 932.1a6.6 6.6 0 1 0 13.2 0a6.6 6.6 0 1 0 -13.2 0zM692.4 931.6a6.6 6.6 0 1 0 13.2 0a6.6 6.6 0 1 0 -13.2 0zM697.2 931.1a6.6 6.6 0 1 0 13.2 0a6.6 6.6 0 1 0 -13.2 0zM702.1 930.6a6.6 6.6 0 1 0 13.2 0a6.6 6.6 0 1 0 -13.2 0zM706.9 930.1a6.6 6.6 0 1 0 13.2 0a6.6 6.6 0 1 0 -13.2 0zM711.8 929.4a6.6 6.6 0 1 0 13.2 0a6.6 6.6 0 1 0 -13.2 0zM716.6 928.6a6.6 6.6 0 1 0 13.2 0a6.6 6.6 0 1 0 -13.2 0zM721.5 927.7a6.6 6.6 0 1 0 13.2 0a6.6 6.6 0 1 0 -13.2 0zM726.3 926.8a6.6 6.6 0 1 0 13.2 0a6.6 6.6 0 1 0 -13.2 0zM731.2 925.8a6.6 6.6 0 1 0 13.2 0a6.6 6.6 0 1 0 -13.2 0zM736 924.8a6.6 6.6 0 1 0 13.2 0a6.6 6.6 0 1 0 -13.2 0zM740.9 923.9a6.6 6.6 0 1 0 13.2 0a6.6 6.6 0 1 0 -13.2 0zM745.7 922.9a6.6 6.6 0 1 0 13.2 0a6.6 6.6 0 1 0 -13.2 0zM750.6 921.9a6.6 6.6 0 1 0 13.2 0a6.6 6.6 0 1 0 -13.2 0zM755.4 920.8a6.6 6.6 0 1 0 13.2 0a6.6 6.6 0 1 0 -13.2 0zM760.3 920a6.6 6.6 0 1 0 13.2 0a6.6 6.6 0 1 0 -13.2 0zM765.1 919.3a6.6 6.6 0 1 0 13.2 0a6.6 6.6 0 1 0 -13.2 0zM783.1 916.7a6.6 6.6 0 1 0 13.2 0a6.6 6.6 0 1 0 -13.2 0zM801.5 913.7a6.6 6.6 0 1 0 13.2 0a6.6 6.6 0 1 0 -13.2 0zM820.4 909.9a6.6 6.6 0 1 0 13.2 0a6.6 6.6 0 1 0 -13.2 0zM839.8 906.7a6.6 6.6 0 1 0 13.2 0a6.6 6.6 0 1 0 -13.2 0zM858.7 906.7a6.6 6.6 0 1 0 13.2 0a6.6 6.6 0 1 0 -13.2 0zM878.4 912.5a6.6 6.6 0 1 0 13.2 0a6.6 6.6 0 1 0 -13.2 0zM899.1 921.3a6.6 6.6 0 1 0 13.2 0a6.6 6.6 0 1 0 -13.2 0zM919.5 929.4a6.6 6.6 0 1 0 13.2 0a6.6 6.6 0 1 0 -13.2 0zM940.2 936.9a6.6 6.6 0 1 0 13.2 0a6.6 6.6 0 1 0 -13.2 0zM960.9 939.4a6.6 6.6 0 1 0 13.2 0a6.6 6.6 0 1 0 -13.2 0zM982.6 938.9a6.6 6.6 0 1 0 13.2 0a6.6 6.6 0 1 0 -13.2 0zM1004.5 935.7a6.6 6.6 0 1 0 13.2 0a6.6 6.6 0 1 0 -13.2 0zM1026.4 931.4a6.6 6.6 0 1 0 13.2 0a6.6 6.6 0 1 0 -13.2 0z"/>
<path fill="#0f0" d="M199.7 1376.8l8.5 14.2h-17zM204.5 1376.7l8.5 14.2h-17zM209.3 1376.6l8.5 14.2h-17zM214.2 1376.4l8.5 14.2h-17zM219 1376.2l8.5 14.2h-17zM223.9 1375.9l8.5 14.2h-17zM228.7 1375.6l8.5 14.2h-17zM233.6 1375.1l8.5 14.2h-17zM238.4 1374.5l8.5 14.2h-17zM243.3 1373.8l8.5 14.2h-17zM248.1 1372.9l8.5 14.2h-17zM253 1371.8l8.5 14.2h-17zM257.8 1370.5l8.5 14.2h-17zM262.7 1368.9l8.5 14.2h-17zM267.5 1366.8l8.5 14.2h-17zM272.4 1364.4l8.5 14.2h-17zM277.2 1361.7l8.5 14.2h-17zM282.1 1358.3l8.5 14.2h-17zM286.9 1351.1l8.5 14.2h-17zM291.8 1336.1l8.5 14.2h-17zM296.6 1317.5l8.5 14.2h-17zM301.5 1296.8l8.5 14.2h-17zM306.3 1274.5l8.5 14.2h-17zM311.2 1260.8l8.5 14.2h-17zM316 1252.6l8.5 14.2h-17zM320.9 1247.5l8.5 14.2h-17zM325.7 1244.4l8.5 14.2h-17zM330.5 1244.8l8.5 14.2h-17zM335.4 1246l8.5 14.2h-17zM340.2 1247.6l8.5 14.2h-17zM345.1 1249l8.5 14.2h-17zM349.9 1248.6l8.5 14.2h-17zM354.8 1247.5l8.5 14.2h-17zM359.6 1244.5l8.5 14.2h-17zM364.5 1240.2l8.5 14.2h-17zM369.3 1236.1l8.5 14.2h-17zM374.2 1231.9l8.5 14.2h-17zM379 1227.6l8.5 14.2h-17zM383.9 1223.2l8.5 14.2h-17zM388.7 1218.7l8.5 14.2h-17zM393.6 1214l8.5 14.2h-17zM398.4 1208.6l8.5 14.2h-17zM403.3 1202.2l8.5 14.2h-17zM408.1 1194.7l8.5 14.2h-17zM413 1185.8l8.5 14.2h-17zM417.8 1175.7l8.5 14.2h-17zM422.7 1164.3l8.5 14.2h-17zM427.5 1152.2l8.5 14.2h-17zM432.4 1140.7l8.5 14.2h-17zM437.2 1129.8l8.5 14.2h-17zM442.1 1119.5l8.5 14.2h-17zM446.9 1109.5l8.5 14.2h-17zM451.7 1099.9l8.5 14.2h-17zM456.6 1091.3l8.5 14.2h-17zM461.4 1085l8.5 14.2h-17zM466.3 1081l8.5 14.2h-17zM471.1 1079l8.5 14.2h-17zM476 1078.4l8.5 14.2h-17zM480.8 1079.6l8.5 14.2h-17zM485.7 1081.6l8.5 14.2h-17zM490.5 1084.7l8.5 14.2h-17zM495.4 1088.5l8.5 14.2h-17zM500.2 1092.4l8.5 14.2h-17zM505.1 1096.5l8.5 14.2h-17zM509.9 1100l8.5 14.2h-17zM514.8 1102.9l8.5 14.2h-17zM519.6 1105.1l8.5 14.2h-17zM524.5 1106.4l8.5 14.2h-17zM529.3 1107.1l8.5 14.2h-17zM534.2 1106.7l8.5 14.2h-17zM539 1105.9l8.5 14.2h-17zM543.9 1103.8l8.5 14.2h-17zM548.7 1100.4l8.5 14.2h-17zM553.6 1096.4l8.5 14.2h-17zM558.4 1091.3l8.5 14.2h-17zM563.2 1086.4l8.5 14.2h-17zM568.1 1081.4l8.5 14.2h-17zM572.9 1077.2l8.5 14.2h-17zM577.8 1074.9l8.5 14.2h-17zM582.6 1073.1l8.5 14.2h-17zM587.5 1072.2l8.5 14.2h-17zM592.3 1073.3l8.5 14.2h-17zM597.2 1076.5l8.5 14.2h-17zM602 1079.7l8.5 14.2h-17zM606.9 1083.1l8.5 14.2h-17zM611.7 1086.8l8.5 14.2h-17zM616.6 1090.4l8.5 14.2h-17zM621.4 1094l8.5 14.2h-17zM626.3 1097.7l8.5 14.2h-17zM631.1 1101.6l8.5 14.2h-17zM636 1105.2l8.5 14.2h-17zM640.8 1108.2l8.5 14.2h-17zM645.7 1110.7l8.5 14.2h-17zM650.5 1112.7l8.5 14.2h-17zM655.4 1114.4l8.5 14.2h-17zM660.2 1115.8l8.5 14.2h-17zM665.1 1117l8.5 14.2h-17zM669.9 1118.1l8.5 14.2h-17zM674.8 1118.9l8.5 14.2h-17zM679.6 1119.3l8.5 14.2h-17zM684.5 1119.6l8.5 14.2h-17zM689.3 1119.7l8.5 14.2h-17zM694.1 1119.5l8.5 14.2h-17zM699 1119.2l8.5 14.2h-17zM703.8 1118.6l8.5 14.2h-17zM708.7 1117.6l8.5 14.2h-17zM713.5 1116.5l8.5 14.2h-17zM718.4 1115.5l8.5 14.2h-17zM723.2 1114.6l8.5 14.2h-17zM728.1 1113.4l8.5 14.2h-17zM732.9 1112l8.5 14.2h-17zM737.8 1110.5l8.5 14.2h-17zM742.6 1109l8.5 14.2h-17zM747.5 1107.6l8.5 14.2h-17zM752.3 1106.1l8.5 14.2h-17zM757.2 1104.7l8.5 14.2h-17zM762 1103.2l8.5 14.2h-17zM766.9 1101.4l8.5 14.2h-17zM771.7 1099.2l8.5 14.2h-17zM789.7 1092.3l8.5 14.2h-17zM808.1 1085.4l8.5 14.2h-17zM827 1078.4l8.5 14.2h-17zM846.4 1072.8l8.5 14.2h-17zM865.3 1071.3l8.5 14.2h-17zM885 1075.9l8.5 14.2h-17zM905.7 1083.9l8.5 14.2h-17zM926.1 1093l8.5 14.2h-17zM946.8 1100.6l8.5 14.2h-17zM967.5 1105.4l8.5 14.2h-17zM989.2 1107.4l8.5 14.2h-17zM1011.1 1106.6l8.5 14.2h-17zM1033 1104.4l8.5 14.2h-17z"/>
<path fill="#00f" d="M191.2 1383.3h17l-8.5 14.2zM196 1383.3h17l-8.5 14.2zM200.8 1383.2h17l-8.5 14.2zM205.7 1383.2h17l-8.5 14.2zM210.5 1383.1h17l-8.5 14.2zM215.4 1383h17l-8.5 14.2zM220.2 1382.9h17l-8.5 14.2zM225.1 1382.8h17l-8.5 14.2zM229.9 1382.7h17l-8.5 14.2zM234.8 1382.5h17l-8.5 14.2zM239.6 1382.2h17l-8.5 14.2zM244.5 1381.9h17l-8.5 14.2zM249.3 1381.6h17l-8.5 14.2zM254.2 1381.2h17l-8.5 14.2zM259 1380.7h17l-8.5 14.2zM263.9 1380.2h17l-8.5 14.2zM268.7 1379.6h17l-8.5 14.2zM273.6 1378.9h17l-8.5 14.2zM278.4 1378h17l-8.5 14.2zM283.3 1376.8h17l-8.5 14.2zM288.1 1375h17l-8.5 14.2zM293 1372.4h17l-8.5 14.2zM297.8 1368.6h17l-8.5 14.2zM302.7 1362.7h17l-8.5 14.2zM307.5 1355.7h17l-8.5 14.2zM312.4 1346.7h17l-8.5 14.2zM317.2 1332.6h17l-8.5 14.2zM322 1315.7h17l-8.5 14.2zM326.9 1296h17l-8.5 14.2zM331.7 1280.1h17l-8.5 14.2zM336.6 1271h17l-8.5 14.2zM341.4 1269.9h17l-8.5 14.2zM346.3 1276.6h17l-8.5 14.2zM351.1 1283.6h17l-8.5 14.2zM356 1288.2h17l-8.5 14.2zM360.8 1291.4h17l-8.5 14.2zM365.7 1292.1h17l-8.5 14.2zM370.5 1290.1h17l-8.5 14.2zM375.4 1287.1h17l-8.5 14.2zM380.2 1282.6h17l-8.5 14.2zM385.1 1276.8h17l-8.5 14.2zM389.9 1271.2h17l-8.5 14.2zM394.8 1265.8h17l-8.5 14.2zM399.6 1260.4h17l-8.5 14.2zM404.5 1255.2h17l-8.5 14.2zM409.3 1250.6h17l-8.5 14.2zM414.2 1246.3h17l-8.5 14.2zM419 1242h17l-8.5 14.2zM423.9 1237.2h17l-8.5 14.2zM428.7 1232.2h17l-8.5 14.2zM433.6 1226.9h17l-8.5 14.2zM438.4 1221.2h17l-8.5 14.2zM443.2 1214.7h17l-8.5 14.2zM448.1 1207.7h17l-8.5 14.2zM452.9 1200.7h17l-8.5 14.2zM457.8 1193.4h17l-8.5 14.2zM462.6 1186.7h17l-8.5 14.2zM467.5 1181.2h17l-8.5 14.2zM472.3 1176.5h17l-8.5 14.2zM477.2 1172.9h17l-8.5 14.2zM482 1169.8h17l-8.5 14.2zM486.9 1167.7h17l-8.5 14.2zM491.7 1166.5h17l-8.5 14.2zM496.6 1165.6h17l-8.5 14.2zM501.4 1165.4h17l-8.5 14.2zM506.3 1165.5h17l-8.5 14.2zM511.1 1165.6h17l-8.5 14.2zM516 1166.5h17l-8.5 14.2zM520.8 1168.7h17l-8.5 14.2zM525.7 1171.3h17l-8.5 14.2zM530.5 1175.1h17l-8.5 14.2zM535.4 1179.1h17l-8.5 14.2zM540.2 1183.1h17l-8.5 14.2zM545.1 1187h17l-8.5 14.2zM549.9 1190.5h17l-8.5 14.2zM554.8 1193.6h17l-8.5 14.2zM559.6 1196.4h17l-8.5 14.2zM564.4 1198.8h17l-8.5 14.2zM569.3 1200.9h17l-8.5 14.2zM574.1 1202.7h17l-8.5 14.2zM579 1204.1h17l-8.5 14.2zM583.8 1205.2h17l-8.5 14.2zM588.7 1206.1h17l-8.5 14.2zM593.5 1206.5h17l-8.5 14.2zM598.4 1206.4h17l-8.5 14.2zM603.2 1206.1h17l-8.5 14.2zM608.1 1205.4h17l-8.5 14.2zM612.9 1204.2h17l-8.5 14.2zM617.8 1202.9h17l-8.5 14.2zM622.6 1201.5h17l-8.5 14.2zM627.5 1200h17l-8.5 14.2zM632.3 1198.4h17l-8.5 14.2zM637.2 1196.9h17l-8.5 14.2zM642 1195.4h17l-8.5 14.2zM646.9 1194h17l-8.5 14.2zM651.7 1192.8h17l-8.5 14.2zM656.6 1191.7h17l-8.5 14.2zM661.4 1190.6h17l-8.5 14.2zM666.3 1189.7h17l-8.5 14.2zM671.1 1189.1h17l-8.5 14.2zM676 1188.5h17l-8.5 14.2zM680.8 1188.3h17l-8.5 14.2zM685.6 1188.3h17l-8.5 14.2zM690.5 1188.3h17l-8.5 14.2zM695.3 1188.3h17l-8.5 14.2zM700.2 1188.5h17l-8.5 14.2zM705 1188.8h17l-8.5 14.2zM709.9 1189.1h17l-8.5 14.2zM714.7 1189.4h17l-8.5 14.2zM719.6 1189.7h17l-8.5 14.2zM724.4 1190h17l-8.5 14.2zM729.3 1190.3h17l-8.5 14.2zM734.1 1190.7h17l-8.5 14.2zM739 1191.2h17l-8.5 14.2zM743.8 1191.7h17l-8.5 14.2zM748.7 1192.3h17l-8.5 14.2zM753.5 1193.1h17l-8.5 14.2zM758.4 1194h17l-8.5 14.2zM763.2 1195.1h17l-8.5 14.2zM781.2 1201.2h17l-8.5 14.2zM799.6 1206.2h17l-8.5 14.2zM818.5 1208.8h17l-8.5 14.2zM837.9 1210.8h17l-8.5 14.2zM856.8 1212.5h17l-8.5 14.2zM876.5 1213h17l-8.5 14.2zM897.2 1213.8h17l-8.5 14.2zM917.6 1213.8h17l-8.5 14.2zM938.3 1212.5h17l-8.5 14.2zM959 1210.8h17l-8.5 14.2zM980.7 1208.2h17l-8.5 14.2zM1002.6 1205.5h17l-8.5 14.2zM1024.5 1203.2h17l-8.5 14.2z"/>
<path fill="#000" d="M194.6 2074.8h11.9v11.9h-11.9zM199.4 2074.5h11.9v11.9h-11.9zM204.3 2074.1h11.9v11.9h-11.9zM209.1 2073.7h11.9v11.9h-11.9zM214 2073.3h11.9v11.9h-11.9zM218.8 2072.9h11.9v11.9h-11.9zM223.7 2072.4h11.9v11.9h-11.9zM228.5 2071.9h11.9v11.9h-11.9zM233.4 2071.3h11.9v11.9h-11.9zM238.2 2070.7h11.9v11.9h-11.9zM243.1 2070h11.9v11.9h-11.9zM247.9 2069.1h11.9v11.9h-11.9zM252.8 2068h11.9v11.9h-11.9zM257.6 2066.5h11.9v11.9h-11.9zM262.5 2064.9h11.9v11.9h-11.9zM267.3 2063h11.9v11.9h-11.9zM272.2 2060.4h11.9v11.9h-11.9zM277 2056.9h11.9v11.9h-11.9zM281.9 2051.9h11.9v11.9h-11.9zM286.7 2045.1h11.9v11.9h-11.9zM291.6 2035.8h11.9v11.9h-11.9zM296.4 2027.4h11.9v11.9h-11.9zM301.3 2018h11.9v11.9h-11.9zM306.1 2008.9h11.9v11.9h-11.9zM311 2000.2h11.9v11.9h-11.9zM315.8 1988.3h11.9v11.9h-11.9zM320.6 1975.2h11.9v11.9h-11.9zM325.5 1965.9h11.9v11.9h-11.9zM330.3 1957h11.9v11.9h-11.9zM335.2 1947.9h11.9v11.9h-11.9zM340 1939.8h11.9v11.9h-11.9zM344.9 1932.6h11.9v11.9h-11.9zM349.7 1924h11.9v11.9h-11.9zM354.6 1914.2h11.9v11.9h-11.9zM359.4 1903h11.9v11.9h-11.9zM364.3 1890.7h11.9v11.9h-11.9zM369.1 1876.6h11.9v11.9h-11.9zM374 1863.3h11.9v11.9h-11.9zM378.8 1851.3h11.9v11.9h-11.9zM383.7 1838.3h11.9v11.9h-11.9zM388.5 1826.9h11.9v11.9h-11.9zM393.4 1817.1h11.9v11.9h-11.9zM398.2 1805.6h11.9v11.9h-11.9zM403.1 1795.5h11.9v11.9h-11.9zM407.9 1784.7h11.9v11.9h-11.9zM412.8 1774.2h11.9v11.9h-11.9zM417.6 1758.8h11.9v11.9h-11.9zM422.5 1739.4h11.9v11.9h-11.9zM427.3 1721.2h11.9v11.9h-11.9zM432.2 1703.1h11.9v11.9h-11.9zM437 1685.2h11.9v11.9h-11.9zM441.8 1666.2h11.9v11.9h-11.9zM446.7 1647.3h11.9v11.9h-11.9zM451.5 1627.8h11.9v11.9h-11.9zM456.4 1607.2h11.9v11.9h-11.9zM461.2 1587.9h11.9v11.9h-11.9zM466.1 1577.5h11.9v11.9h-11.9zM470.9 1564h11.9v11.9h-11.9zM475.8 1551.1h11.9v11.9h-11.9zM480.6 1540h11.9v11.9h-11.9zM485.5 1530.6h11.9v11.9h-11.9zM490.3 1522.6h11.9v11.9h-11.9zM495.2 1515.8h11.9v11.9h-11.9zM500 1510.4h11.9v11.9h-11.9zM504.9 1506.1h11.9v11.9h-11.9zM509.7 1504.2h11.9v11.9h-11.9zM514.6 1503.6h11.9v11.9h-11.9zM519.4 1504.6h11.9v11.9h-11.9zM524.3 1506.3h11.9v11.9h-11.9zM529.1 1508.8h11.9v11.9h-11.9zM534 1512.1h11.9v11.9h-11.9zM538.8 1515.5h11.9v11.9h-11.9zM543.7 1519.3h11.9v11.9h-11.9zM548.5 1523.3h11.9v11.9h-11.9zM553.4 1527.5h11.9v11.9h-11.9zM558.2 1532.1h11.9v11.9h-11.9zM563 1536.9h11.9v11.9h-11.9zM567.9 1542.1h11.9v11.9h-11.9zM572.7 1547.7h11.9v11.9h-11.9zM577.6 1553.6h11.9v11.9h-11.9zM582.4 1559.9h11.9v11.9h-11.9zM587.3 1566.2h11.9v11.9h-11.9zM592.1 1572.6h11.9v11.9h-11.9zM597 1578.7h11.9v11.9h-11.9zM601.8 1584.6h11.9v11.9h-11.9zM606.7 1590.1h11.9v11.9h-11.9zM611.5 1595h11.9v11.9h-11.9zM616.4 1599.6h11.9v11.9h-11.9zM621.2 1603.7h11.9v11.9h-11.9zM626.1 1607.5h11.9v11.9h-11.9zM630.9 1610.6h11.9v11.9h-11.9zM635.8 1612.8h11.9v11.9h-11.9zM640.6 1614.5h11.9v11.9h-11.9zM645.5 1615.8h11.9v11.9h-11.9zM650.3 1616.8h11.9v11.9h-11.9zM655.2 1617.5h11.9v11.9h-11.9zM660 1617.5h11.9v11.9h-11.9zM664.9 1617.5h11.9v11.9h-11.9zM669.7 1617.4h11.9v11.9h-11.9zM674.6 1617.1h11.9v11.9h-11.9zM679.4 1616.7h11.9v11.9h-11.9zM684.2 1616.2h11.9v11.9h-11.9zM689.1 1615.8h11.9v11.9h-11.9zM693.9 1615.6h11.9v11.9h-11.9zM698.8 1615.6h11.9v11.9h-11.9zM703.6 1615.8h11.9v11.9h-11.9zM708.5 1616.1h11.9v11.9h-11.9zM713.3 1616.5h11.9v11.9h-11.9zM718.2 1616.9h11.9v11.9h-11.9zM723 1617.3h11.9v11.9h-11.9zM727.9 1617.8h11.9v11.9h-11.9zM732.7 1618.4h11.9v11.9h-11.9zM737.6 1619h11.9v11.9h-11.9zM742.4 1619.6h11.9v11.9h-11.9zM747.3 1620.3h11.9v11.9h-11.9zM752.1 1621h11.9v11.9h-11.9zM757 1621.8h11.9v11.9h-11.9zM761.8 1622.6h11.9v11.9h-11.9zM766.7 1623.5h11.9v11.9h-11.9zM771.5 1624.5h11.9v11.9h-11.9zM790.2 1629.1h11.9v11.9h-11.9zM808.4 1634.8h11.9v11.9h-11.9zM827.3 1639.2h11.9v11.9h-11.9zM846.2 1641.8h11.9v11.9h-11.9zM865.6 1643.5h11.9v11.9h-11.9zM885.3 1644.2h11.9v11.9h-11.9zM905.5 1642.5h11.9v11.9h-11.9zM926.2 1639.2h11.9v11.9h-11.9zM946.6 1634.8h11.9v11.9h-11.9zM968.5 1627.8h11.9v11.9h-11.9zM990 1619.5h11.9v11.9h-11.9zM1011.4 1611.5h11.9v11.9h-11.9zM1033.6 1603.5h11.9v11.9h-11.9z"/>
<path fill="#f00" d="M194 2080.9a6.6 6.6 0 1 0 13.2 0a6.6 6.6 0 1 0 -13.2 0zM198.8 2080.6a6.6 6.6 0 1 0 13.2 0a6.6 6.6 0 1 0 -13.2 0zM203.6 2080.3a6.6 6.6 0 1 0 13.2 0a6.6 6.6 0 1 0 -13.2 0zM208.5 2079.9a6.6 6.6 0 1 0 13.2 0a6.6 6.6 0 1 0 -13.2 0zM213.3 2079.5a6.6 6.6 0 1 0 13.2 0a6.6 6.6 0 1 0 -13.2 0zM218.2 2079.1a6.6 6.6 0 1 0 13.2 0a6.6 6.6 0 1 0 -13.2 0zM223 2078.7a6.6 6.6 0 1 0 13.2 0a6.6 6.6 0 1 0 -13.2 0zM227.9 2078.2a6.6 6.6 0 1 0 13.2 0a6.6 6.6 0 1 0 -13.2 0zM232.7 2077.7a6.6 6.6 0 1 0 13.2 0a6.6 6.6 0 1 0 -13.2 0zM237.6 2077.1a6.6 6.6 0 1 0 13.2 0a6.6 6.6 0 1 0 -13.2 0zM242.4 2076.4a6.6 6.6 0 1 0 13.2 0a6.6 6.6 0 1 0 -13.2 0zM247.3 2075.6a6.6 6.6 0 1 0 13.2 0a6.6 6.6 0 1 0 -13.2 0zM252.1 2074.5a6.6 6.6 0 1 0 13.2 0a6.6 6.6 0 1 0 -13.2 0zM257 2073a6.6 6.6 0 1 0 13.2 0a6.6 6.6 0 1 0 -13.2 0zM261.8 2071.5a6.6 6.6 0 1 0 13.2 0a6.6 6.6 0 1 0 -13.2 0zM266.7 2069.6a6.6 6.6 0 1 0 13.2 0a6.6 6.6 0 1 0 -13.2 0zM271.5 2067.1a6.6 6.6 0 1 0 13.2 0a6.6 6.6 0 1 0 -13.2 0zM276.4 2063.7a6.6 6.6 0 1 0 13.2 0a6.6 6.6 0 1 0 -13.2 0zM281.2 2058.8a6.6 6.6 0 1 0 13.2 0a6.6 6.6 0 1 0 -13.2 0zM286.1 2052.1a6.6 6.6 0 1 0 13.2 0a6.6 6.6 0 1 0 -13.2 0zM290.9 2042.3a6.6 6.6 0 1 0 13.2 0a6.6 6.6 0 1 0 -13.2 0zM295.8 2032.1a6.6 6.6 0 1 0 13.2 0a6.6 6.6 0 1 0 -13.2 0zM300.6 2021.1a6.6 6.6 0 1 0 13.2 0a6.6 6.6 0 1 0 -13.2 0zM305.5 2009.2a6.6 6.6 0 1 0 13.2 0a6.6 6.6 0 1 0 -13.2 0zM310.3 1998a6.6 6.6 0 1 0 13.2 0a6.6 6.6 0 1 0 -13.2 0zM315.1 1987.2a6.6 6.6 0 1 0 13.2 0a6.6 6.6 0 1 0 -13.2 0zM320 1975.3a6.6 6.6 0 1 0 13.2 0a6.6 6.6 0 1 0 -13.2 0zM324.8 1964.8a6.6 6.6 0 1 0 13.2 0a6.6 6.6 0 1 0 -13.2 0zM329.7 1957.4a6.6 6.6 0 1 0 13.2 0a6.6 6.6 0 1 0 -13.2 0zM334.5 1950.7a6.6 6.6 0 1 0 13.2 0a6.6 6.6 0 1 0 -13.2 0zM339.4 1941.8a6.6 6.6 0 1 0 13.2 0a6.6 6.6 0 1 0 -13.2 0zM344.2 1932.7a6.6 6.6 0 1 0 13.2 0a6.6 6.6 0 1 0 -13.2 0zM349.1 1923.4a6.6 6.6 0 1 0 13.2 0a6.6 6.6 0 1 0 -13.2 0zM353.9 1912.5a6.6 6.6 0 1 0 13.2 0a6.6 6.6 0 1 0 -13.2 0zM358.8 1897.7a6.6 6.6 0 1 0 13.2 0a6.6 6.6 0 1 0 -13.2 0zM363.6 1884.8a6.6 6.6 0 1 0 13.2 0a6.6 6.6 0 1 0 -13.2 0zM368.5 1870.5a6.6 6.6 0 1 0 13.2 0a6.6 6.6 0 1 0 -13.2 0zM373.3 1858a6.6 6.6 0 1 0 13.2 0a6.6 6.6 0 1 0 -13.2 0zM378.2 1852.1a6.6 6.6 0 1 0 13.2 0a6.6 6.6 0 1 0 -13.2 0zM383 1847.6a6.6 6.6 0 1 0 13.2 0a6.6 6.6 0 1 0 -13.2 0zM387.9 1843.7a6.6 6.6 0 1 0 13.2 0a6.6 6.6 0 1 0 -13.2 0zM392.7 1839.5a6.6 6.6 0 1 0 13.2 0a6.6 6.6 0 1 0 -13.2 0zM397.6 1834a6.6 6.6 0 1 0 13.2 0a6.6 6.6 0 1 0 -13.2 0zM402.4 1824.4a6.6 6.6 0 1 0 13.2 0a6.6 6.6 0 1 0 -13.2 0zM407.3 1812.8a6.6 6.6 0 1 0 13.2 0a6.6 6.6 0 1 0 -13.2 0zM412.1 1798.5a6.6 6.6 0 1 0 13.2 0a6.6 6.6 0 1 0 -13.2 0zM417 1780a6.6 6.6 0 1 0 13.2 0a6.6 6.6 0 1 0 -13.2 0zM421.8 1764a6.6 6.6 0 1 0 13.2 0a6.6 6.6 0 1 0 -13.2 0zM426.7 1741.8a6.6 6.6 0 1 0 13.2 0a6.6 6.6 0 1 0 -13.2 0zM431.5 1719a6.6 6.6 0 1 0 13.2 0a6.6 6.6 0 1 0 -13.2 0zM436.4 1697.4a6.6 6.6 0 1 0 13.2 0a6.6 6.6 0 1 0 -13.2 0zM441.2 1674.2a6.6 6.6 0 1 0 13.2 0a6.6 6.6 0 1 0 -13.2 0zM446 1648.8a6.6 6.6 0 1 0 13.2 0a6.6 6.6 0 1 0 -13.2 0zM450.9 1624.4a6.6 6.6 0 1 0 13.2 0a6.6 6.6 0 1 0 -13.2 0zM455.7 1604.8a6.6 6.6 0 1 0 13.2 0a6.6 6.6 0 1 0 -13.2 0zM460.6 1587.2a6.6 6.6 0 1 0 13.2 0a6.6 6.6 0 1 0 -13.2 0zM465.4 1573.6a6.6 6.6 0 1 0 13.2 0a6.6 6.6 0 1 0 -13.2 0zM470.3 1562.8a6.6 6.6 0 1 0 13.2 0a6.6 6.6 0 1 0 -13.2 0zM475.1 1553.5a6.6 6.6 0 1 0 13.2 0a6.6 6.6 0 1 0 -13.2 0zM480 1545.4a6.6 6.6 0 1 0 13.2 0a6.6 6.6 0 1 0 -13.2 0zM484.8 1538.1a6.6 6.6 0 1 0 13.2 0a6.6 6.6 0 1 0 -13.2 0zM489.7 1531.2a6.6 6.6 0 1 0 13.2 0a6.6 6.6 0 1 0 -13.2 0zM494.5 1524.4a6.6 6.6 0 1 0 13.2 0a6.6 6.6 0 1 0 -13.2 0zM499.4 1518.2a6.6 6.6 0 1 0 13.2 0a6.6 6.6 0 1 0 -13.2 0zM504.2 1512.7a6.6 6.6 0 1 0 13.2 0a6.6 6.6 0 1 0 -13.2 0zM509.1 1508.6a6.6 6.6 0 1 0 13.2 0a6.6 6.6 0 1 0 -13.2 0zM513.9 1505.8a6.6 6.6 0 1 0 13.2 0a6.6 6.6 0 1 0 -13.2 0zM518.8 1504.1a6.6 6.6 0 1 0 13.2 0a6.6 6.6 0 1 0 -13.2 0zM523.6 1505.3a6.6 6.6 0 1 0 13.2 0a6.6 6.6 0 1 0 -13.2 0zM528.5 1508a6.6 6.6 0 1 0 13.2 0a6.6 6.6 0 1 0 -13.2 0zM533.3 1511.9a6.6 6.6 0 1 0 13.2 0a6.6 6.6 0 1 0 -13.2 0zM538.2 1516.1a6.6 6.6 0 1 0 13.2 0a6.6 6.6 0 1 0 -13.2 0zM543 1520.6a6.6 6.6 0 1 0 13.2 0a6.6 6.6 0 1 0 -13.2 0zM547.9 1525a6.6 6.6 0 1 0 13.2 0a6.6 6.6 0 1 0 -13.2 0zM552.7 1529.3a6.6 6.6 0 1 0 13.2 0a6.6 6.6 0 1 0 -13.2 0zM557.5 1533.7a6.6 6.6 0 1 0 13.2 0a6.6 6.6 0 1 0 -13.2 0zM562.4 1538.5a6.6 6.6 0 1 0 13.2 0a6.6 6.6 0 1 0 -13.2 0zM567.2 1543.7a6.6 6.6 0 1 0 13.2 0a6.6 6.6 0 1 0 -13.2 0zM572.1 1549.2a6.6 6.6 0 1 0 13.2 0a6.6 6.6 0 1 0 -13.2 0zM576.9 1555.2a6.6 6.6 0 1 0 13.2 0a6.6 6.6 0 1 0 -13.2 0zM581.8 1561.6a6.6 6.6 0 1 0 13.2 0a6.6 6.6 0 1 0 -13.2 0zM586.6 1568.5a6.6 6.6 0 1 0 13.2 0a6.6 6.6 0 1 0 -13.2 0zM591.5 1576.1a6.6 6.6 0 1 0 13.2 0a6.6 6.6 0 1 0 -13.2 0zM596.3 1583.4a6.6 6.6 0 1 0 13.2 0a6.6 6.6 0 1 0 -13.2 0zM601.2 1590.7a6.6 6.6 0 1 0 13.2 0a6.6 6.6 0 1 0 -13.2 0zM606 1597.3a6.6 6.6 0 1 0 13.2 0a6.6 6.6 0 1 0 -13.2 0zM610.9 1603.2a6.6 6.6 0 1 0 13.2 0a6.6 6.6 0 1 0 -13.2 0zM615.7 1608.4a6.6 6.6 0 1 0 13.2 0a6.6 6.6 0 1 0 -13.2 0zM620.6 1612.8a6.6 6.6 0 1 0 13.2 0a6.6 6.6 0 1 0 -13.2 0zM625.4 1616.6a6.6 6.6 0 1 0 13.2 0a6.6 6.6 0 1 0 -13.2 0zM630.3 1619.5a6.6 6.6 0 1 0 13.2 0a6.6 6.6 0 1 0 -13.2 0zM635.1 1621.8a6.6 6.6 0 1 0 13.2 0a6.6 6.6 0 1 0 -13.2 0zM640 1623.5a6.6 6.6 0 1 0 13.2 0a6.6 6.6 0 1 0 -13.2 0zM644.8 1624.4a6.6 6.6 0 1 0 13.2 0a6.6 6.6 0 1 0 -13.2 0zM649.7 1624.8a6.6 6.6 0 1 0 13.2 0a6.6 6.6 0 1 0 -13.2 0zM654.5 1625a6.6 6.6 0 1 0 13.2 0a6.6 6.6 0 1 0 -13.2 0zM659.4 1624.9a6.6 6.6 0 1 0 13.2 0a6.6 6.6 0 1 0 -13.2 0zM664.2 1624.1a6.6 6.6 0 1 0 13.2 0a6.6 6.6 0 1 0 -13.2 0zM669.1 1623.3a6.6 6.6 0 1 0 13.2 0a6.6 6.6 0 1 0 -13.2 0zM673.9 1622.4a6.6 6.6 0 1 0 13.2 0a6.6 6.6 0 1 0 -13.2 0zM678.8 1621.6a6.6 6.6 0 1 0 13.2 0a6.6 6.6 0 1 0 -13.2 0zM683.6 1621a6.6 6.6 0 1 0 13.2 0a6.6 6.6 0 1 0 -13.2 0zM688.4 1620.7a6.6 6.6 0 1 0 13.2 0a6.6 6.6 0 1 0 -13.2 0zM693.3 1620.5a6.6 6.6 0 1 0 13.2 0a6.6 6.6 0 1 0 -13.2 0zM698.1 1620.5a6.6 6.6 0 1 0 13.2 0a6.6 6.6 0 1 0 -13.2 0zM703 1620.5a6.6 6.6 0 1 0 13.2 0a6.6 6.6 0 1 0 -13.2 0zM707.8 1620.5a6.6 6.6 0 1 0 13.2 0a6.6 6.6 0 1 0 -13.2 0zM712.7 1620.6a6.6 6.6 0 1 0 13.2 0a6.6 6.6 0 1 0 -13.2 0zM717.5 1620.7a6.6 6.6 0 1 0 13.2 0a6.6 6.6 0 1 0 -13.2 0zM722.4 1620.8a6.6 6.6 0 1 0 13.2 0a6.6 6.6 0 1 0 -13.2 0zM727.2 1621a6.6 6.6 0 1 0 13.2 0a6.6 6.6 0 1 0 -13.2 0zM732.1 1621.2a6.6 6.6 0 1 0 13.2 0a6.6 6.6 0 1 0 -13.2 0zM736.9 1621.5a6.6 6.6 0 1 0 13.2 0a6.6 6.6 0 1 0 -13.2 0zM741.8 1621.8a6.6 6.6 0 1 0 13.2 0a6.6 6.6 0 1 0 -13.2 0zM746.6 1622.1a6.6 6.6 0 1 0 13.2 0a6.6 6.6 0 1 0 -13.2 0zM751.5 1622.5a6.6 6.6 0 1 0 13.2 0a6.6 6.6 0 1 0 -13.2 0zM756.3 1622.9a6.6 6.6 0 1 0 13.2 0a6.6 6.6 0 1 0 -13.2 0zM761.2 1623.5a6.6 6.6 0 1 0 13.2 0a6.6 6.6 0 1 0 -13.2 0zM766 1624.2a6.6 6.6 0 1 0 13.2 0a6.6 6.6 0 1 0 -13.2 0zM770.9 1625a6.6 6.6 0 1 0 13.2 0a6.6 6.6 0 1 0 -13.2 0zM789.6 1629.3a6.6 6.6 0 1 0 13.2 0a6.6 6.6 0 1 0 -13.2 0zM807.8 1635.1a6.6 6.6 0 1 0 13.2 0a6.6 6.6 0 1 0 -13.2 0zM826.7 1640.7a6.6 6.6 0 1 0 13.2 0a6.6 6.6 0 1 0 -13.2 0zM845.6 1645.2a6.6 6.6 0 1 0 13.2 0a6.6 6.6 0 1 0 -13.2 0zM865 1648.5a6.6 6.6 0 1 0 13.2 0a6.6 6.6 0 1 0 -13.2 0zM884.7 1652.3a6.6 6.6 0 1 0 13.2 0a6.6 6.6 0 1 0 -13.2 0zM904.9 1654a6.6 6.6 0 1 0 13.2 0a6.6 6.6 0 1 0 -13.2 0zM925.6 1653.5a6.6 6.6 0 1 0 13.2 0a6.6 6.6 0 1 0 -13.2 0zM946 1650.7a6.6 6.6 0 1 0 13.2 0a6.6 6.6 0 1 0 -13.2 0zM967.9 1646a6.6 6.6 0 1 0 13.2 0a6.6 6.6 0 1 0 -13.2 0zM989.4 1637.6a6.6 6.6 0 1 0 13.2 0a6.6 6.6 0 1 0 -13.2 0zM1010.8 1628.3a6.6 6.6 0 1 0 13.2 0a6.6 6.6 0 1 0 -13.2 0zM1033 1625.8a6.6 6.6 0 1 0 13.2 0a6.6 6.6 0 1 0 -13.2 0z"/>
<path fill="#808000" d="M200.6 2075.6l8.5 14.2h-17zM205.4 2075.5l8.5 14.2h-17zM210.2 2075.4l8.5 14.2h-17zM215.1 2075.2l8.5 14.2h-17zM219.9 2075.1l8.5 14.2h-17zM224.8 2074.8l8.5 14.2h-17zM229.6 2074.6l8.5 14.2h-17zM234.5 2074.3l8.5 14.2h-17zM239.3 2074.1l8.5 14.2h-17zM244.2 2073.8l8.5 14.2h-17zM249 2073.5l8.5 14.2h-17zM253.9 2073.1l8.5 14.2h-17zM258.7 2072.7l8.5 14.2h-17zM263.6 2072.2l8.5 14.2h-17zM268.4 2071.6l8.5 14.2h-17zM273.3 2071.1l8.5 14.2h-17zM278.1 2070.6l8.5 14.2h-17zM283 2070.1l8.5 14.2h-17zM287.8 2069.8l8.5 14.2h-17zM292.7 2069.4l8.5 14.2h-17zM297.5 2069l8.5 14.2h-17zM302.4 2068.5l8.5 14.2h-17zM307.2 2067.9l8.5 14.2h-17zM312.1 2067.1l8.5 14.2h-17zM316.9 2066.1l8.5 14.2h-17zM321.8 2064.9l8.5 14.2h-17zM326.6 2062.7l8.5 14.2h-17zM331.4 2060.9l8.5 14.2h-17zM336.3 2060.2l8.5 14.2h-17zM341.1 2059.2l8.5 14.2h-17zM346 2054.2l8.5 14.2h-17zM350.8 2045.2l8.5 14.2h-17zM355.7 2029.7l8.5 14.2h-17zM360.5 2011.9l8.5 14.2h-17zM365.4 1998.5l8.5 14.2h-17zM370.2 1986.3l8.5 14.2h-17zM375.1 1975l8.5 14.2h-17zM379.9 1967.7l8.5 14.2h-17zM384.8 1964.6l8.5 14.2h-17zM389.6 1963.6l8.5 14.2h-17zM394.5 1963.4l8.5 14.2h-17zM399.3 1963.4l8.5 14.2h-17zM404.2 1963.1l8.5 14.2h-17zM409 1960.2l8.5 14.2h-17zM413.9 1954.9l8.5 14.2h-17zM418.7 1946.1l8.5 14.2h-17zM423.6 1934.8l8.5 14.2h-17zM428.4 1923l8.5 14.2h-17zM433.3 1907.4l8.5 14.2h-17zM438.1 1890.4l8.5 14.2h-17zM443 1875.6l8.5 14.2h-17zM447.8 1861l8.5 14.2h-17zM452.6 1845.5l8.5 14.2h-17zM457.5 1833.5l8.5 14.2h-17zM462.3 1822.4l8.5 14.2h-17zM467.2 1812.6l8.5 14.2h-17zM472 1804.2l8.5 14.2h-17zM476.9 1797.1l8.5 14.2h-17zM481.7 1790.6l8.5 14.2h-17zM486.6 1784.6l8.5 14.2h-17zM491.4 1776.9l8.5 14.2h-17zM496.3 1768.1l8.5 14.2h-17zM501.1 1760.1l8.5 14.2h-17zM506 1752.3l8.5 14.2h-17zM510.8 1744.5l8.5 14.2h-17zM515.7 1737.1l8.5 14.2h-17zM520.5 1731.6l8.5 14.2h-17zM525.4 1728.6l8.5 14.2h-17zM530.2 1727.9l8.5 14.2h-17zM535.1 1729.8l8.5 14.2h-17zM539.9 1733.4l8.5 14.2h-17zM544.8 1738.7l8.5 14.2h-17zM549.6 1744l8.5 14.2h-17zM554.5 1749.7l8.5 14.2h-17zM559.3 1756.1l8.5 14.2h-17zM564.1 1763.7l8.5 14.2h-17zM569 1771.8l8.5 14.2h-17zM573.8 1779.2l8.5 14.2h-17zM578.7 1786.2l8.5 14.2h-17zM583.5 1792.7l8.5 14.2h-17zM588.4 1798.5l8.5 14.2h-17zM593.2 1803.9l8.5 14.2h-17zM598.1 1808.8l8.5 14.2h-17zM602.9 1813.3l8.5 14.2h-17zM607.8 1817.4l8.5 14.2h-17zM612.6 1820.8l8.5 14.2h-17zM617.5 1823.9l8.5 14.2h-17zM622.3 1826.5l8.5 14.2h-17zM627.2 1828.8l8.5 14.2h-17zM632 1830.9l8.5 14.2h-17zM636.9 1832.3l8.5 14.2h-17zM641.7 1833.2l8.5 14.2h-17zM646.6 1833.8l8.5 14.2h-17zM651.4 1833.9l8.5 14.2h-17zM656.3 1833.6l8.5 14.2h-17zM661.1 1833.3l8.5 14.2h-17zM666 1832.7l8.5 14.2h-17zM670.8 1831.7l8.5 14.2h-17zM675.7 1830.8l8.5 14.2h-17zM680.5 1829.9l8.5 14.2h-17zM685.4 1829.1l8.5 14.2h-17zM690.2 1828.6l8.5 14.2h-17zM695 1828.2l8.5 14.2h-17zM699.9 1828l8.5 14.2h-17zM704.7 1828.1l8.5 14.2h-17zM709.6 1828.5l8.5 14.2h-17zM714.4 1828.9l8.5 14.2h-17zM719.3 1829.3l8.5 14.2h-17zM724.1 1829.7l8.5 14.2h-17zM729 1830.2l8.5 14.2h-17zM733.8 1830.7l8.5 14.2h-17zM738.7 1831.3l8.5 14.2h-17zM743.5 1832.2l8.5 14.2h-17zM748.4 1833.2l8.5 14.2h-17zM753.2 1834.1l8.5 14.2h-17zM758.1 1834.8l8.5 14.2h-17zM762.9 1835.6l8.5 14.2h-17zM767.8 1836.4l8.5 14.2h-17zM772.6 1837.3l8.5 14.2h-17zM777.5 1838.4l8.5 14.2h-17zM796.2 1844l8.5 14.2h-17zM814.4 1852.3l8.5 14.2h-17zM833.3 1859.7l8.5 14.2h-17zM852.2 1865.4l8.5 14.2h-17zM871.6 1868.7l8.5 14.2h-17zM891.3 1870.1l8.5 14.2h-17zM911.5 1867.9l8.5 14.2h-17zM932.2 1863.2l8.5 14.2h-17zM952.6 1856.9l8.5 14.2h-17zM974.5 1849.5l8.5 14.2h-17zM996 1842.1l8.5 14.2h-17zM1017.4 1835l8.5 14.2h-17zM1039.6 1834.4l8.5 14.2h-17z"/>
<path fill="#0f0" d="M192.1 2079.4h17l-8.5 14.2zM196.9 2079.4h17l-8.5 14.2zM201.7 2079.4h17l-8.5 14.2zM206.6 2079.3h17l-8.5 14.2zM211.4 2079.2h17l-8.5 14.2zM216.3 2079.1h17l-8.5 14.2zM221.1 2079h17l-8.5 14.2zM226 2078.9h17l-8.5 14.2zM230.8 2078.7h17l-8.5 14.2zM235.7 2078.3h17l-8.5 14.2zM240.5 2077.7h17l-8.5 14.2zM245.4 2077h17l-8.5 14.2zM250.2 2075.8h17l-8.5 14.2zM255.1 2074.4h17l-8.5 14.2zM259.9 2072.7h17l-8.5 14.2zM264.8 2070.6h17l-8.5 14.2zM269.6 2067.6h17l-8.5 14.2zM274.5 2063.8h17l-8.5 14.2zM279.3 2058.9h17l-8.5 14.2zM284.2 2052.7h17l-8.5 14.2zM289 2045.5h17l-8.5 14.2zM293.9 2037.7h17l-8.5 14.2zM298.7 2028.7h17l-8.5 14.2zM303.6 2019.6h17l-8.5 14.2zM308.4 2014.8h17l-8.5 14.2zM313.2 2012.9h17l-8.5 14.2zM318.1 2011.9h17l-8.5 14.2zM322.9 2011.5h17l-8.5 14.2zM327.8 2012h17l-8.5 14.2zM332.6 2013h17l-8.5 14.2zM337.5 2013.4h17l-8.5 14.2zM342.3 2013.4h17l-8.5 14.2zM347.2 2013.4h17l-8.5 14.2zM352 2012.3h17l-8.5 14.2zM356.9 2010.3h17l-8.5 14.2zM361.7 2008.2h17l-8.5 14.2zM366.6 2006h17l-8.5 14.2zM371.4 2003.5h17l-8.5 14.2zM376.3 2000.9h17l-8.5 14.2zM381.1 1998.3h17l-8.5 14.2zM386 1995.7h17l-8.5 14.2zM390.8 1992.9h17l-8.5 14.2zM395.7 1989.6h17l-8.5 14.2zM400.5 1985.9h17l-8.5 14.2zM405.4 1981.6h17l-8.5 14.2zM410.2 1976.6h17l-8.5 14.2zM415.1 1971h17l-8.5 14.2zM419.9 1965.6h17l-8.5 14.2zM424.8 1960.3h17l-8.5 14.2zM429.6 1954.9h17l-8.5 14.2zM434.5 1949.3h17l-8.5 14.2zM439.3 1944h17l-8.5 14.2zM444.1 1939.8h17l-8.5 14.2zM449 1936.3h17l-8.5 14.2zM453.8 1933.3h17l-8.5 14.2zM458.7 1931h17l-8.5 14.2zM463.5 1930.2h17l-8.5 14.2zM468.4 1929.8h17l-8.5 14.2zM473.2 1929.8h17l-8.5 14.2zM478.1 1930.4h17l-8.5 14.2zM482.9 1931.4h17l-8.5 14.2zM487.8 1932.6h17l-8.5 14.2zM492.6 1934.2h17l-8.5 14.2zM497.5 1935.9h17l-8.5 14.2zM502.3 1937.5h17l-8.5 14.2zM507.2 1939.1h17l-8.5 14.2zM512 1940.5h17l-8.5 14.2zM516.9 1941.6h17l-8.5 14.2zM521.7 1942.5h17l-8.5 14.2zM526.6 1943.1h17l-8.5 14.2zM531.4 1942.9h17l-8.5 14.2zM536.3 1942.1h17l-8.5 14.2zM541.1 1941h17l-8.5 14.2zM546 1939.6h17l-8.5 14.2zM550.8 1937.7h17l-8.5 14.2zM555.6 1935.6h17l-8.5 14.2zM560.5 1933.7h17l-8.5 14.2zM565.3 1931.5h17l-8.5 14.2zM570.2 1929.7h17l-8.5 14.2zM575 1928.6h17l-8.5 14.2zM579.9 1927.8h17l-8.5 14.2zM584.7 1927.4h17l-8.5 14.2zM589.6 1927.4h17l-8.5 14.2zM594.4 1927.9h17l-8.5 14.2zM599.3 1928.7h17l-8.5 14.2zM604.1 1929.7h17l-8.5 14.2zM609 1931.1h17l-8.5 14.2zM613.8 1933h17l-8.5 14.2zM618.7 1935.4h17l-8.5 14.2zM623.5 1937.2h17l-8.5 14.2zM628.4 1938.6h17l-8.5 14.2zM633.2 1940h17l-8.5 14.2zM638.1 1941.4h17l-8.5 14.2zM642.9 1942.9h17l-8.5 14.2zM647.8 1944.3h17l-8.5 14.2zM652.6 1945.6h17l-8.5 14.2zM657.5 1946.7h17l-8.5 14.2zM662.3 1947.7h17l-8.5 14.2zM667.2 1948.6h17l-8.5 14.2zM672 1949.4h17l-8.5 14.2zM676.9 1949.9h17l-8.5 14.2zM681.7 1950.2h17l-8.5 14.2zM686.5 1950.5h17l-8.5 14.2zM691.4 1950.4h17l-8.5 14.2zM696.2 1950.2h17l-8.5 14.2zM701.1 1949.8h17l-8.5 14.2zM705.9 1949.4h17l-8.5 14.2zM710.8 1948.9h17l-8.5 14.2zM715.6 1948.3h17l-8.5 14.2zM720.5 1947.7h17l-8.5 14.2zM725.3 1946.8h17l-8.5 14.2zM730.2 1946h17l-8.5 14.2zM735 1945.2h17l-8.5 14.2zM739.9 1944.4h17l-8.5 14.2zM744.7 1943.4h17l-8.5 14.2zM749.6 1942.4h17l-8.5 14.2zM754.4 1941.3h17l-8.5 14.2zM759.3 1940.2h17l-8.5 14.2zM764.1 1938.8h17l-8.5 14.2zM769 1937.7h17l-8.5 14.2zM787.7 1937.5h17l-8.5 14.2zM805.9 1933.4h17l-8.5 14.2zM824.8 1930.1h17l-8.5 14.2zM843.7 1927.4h17l-8.5 14.2zM863.1 1926h17l-8.5 14.2zM882.8 1928.5h17l-8.5 14.2zM903 1932h17l-8.5 14.2zM923.7 1936.7h17l-8.5 14.2zM944.1 1940.2h17l-8.5 14.2zM966 1943h17l-8.5 14.2zM987.5 1944.4h17l-8.5 14.2zM1008.9 1944.4h17l-8.5 14.2zM1031.1 1943h17l-8.5 14.2z"/>
<path fill="#00f" d="M200.6 2077.2l9.3 9.3l-9.3 9.3l-9.3 -9.3zM205.4 2077.2l9.3 9.3l-9.3 9.3l-9.3 -9.3zM210.2 2077.2l9.3 9.3l-9.3 9.3l-9.3 -9.3zM215.1 2077.2l9.3 9.3l-9.3 9.3l-9.3 -9.3zM219.9 2077.2l9.3 9.3l-9.3 9.3l-9.3 -9.3zM224.8 2077.2l9.3 9.3l-9.3 9.3l-9.3 -9.3zM229.6 2077.2l9.3 9.3l-9.3 9.3l-9.3 -9.3zM234.5 2077.1l9.3 9.3l-9.3 9.3l-9.3 -9.3zM239.3 2077.1l9.3 9.3l-9.3 9.3l-9.3 -9.3zM244.2 2077.1l9.3 9.3l-9.3 9.3l-9.3 -9.3zM249 2077.1l9.3 9.3l-9.3 9.3l-9.3 -9.3zM253.9 2077l9.3 9.3l-9.3 9.3l-9.3 -9.3zM258.7 2077l9.3 9.3l-9.3 9.3l-9.3 -9.3zM263.6 2076.9l9.3 9.3l-9.3 9.3l-9.3 -9.3zM268.4 2076.9l9.3 9.3l-9.3 9.3l-9.3 -9.3zM273.3 2076.8l9.3 9.3l-9.3 9.3l-9.3 -9.3zM278.1 2076.8l9.3 9.3l-9.3 9.3l-9.3 -9.3zM283 2076.7l9.3 9.3l-9.3 9.3l-9.3 -9.3zM287.8 2076.5l9.3 9.3l-9.3 9.3l-9.3 -9.3zM292.7 2075.7l9.3 9.3l-9.3 9.3l-9.3 -9.3zM297.5 2074.6l9.3 9.3l-9.3 9.3l-9.3 -9.3zM302.4 2073l9.3 9.3l-9.3 9.3l-9.3 -9.3zM307.2 2070l9.3 9.3l-9.3 9.3l-9.3 -9.3zM312.1 2065.9l9.3 9.3l-9.3 9.3l-9.3 -9.3zM316.9 2060.6l9.3 9.3l-9.3 9.3l-9.3 -9.3zM321.8 2053.9l9.3 9.3l-9.3 9.3l-9.3 -9.3zM326.6 2046.6l9.3 9.3l-9.3 9.3l-9.3 -9.3zM331.4 2039.3l9.3 9.3l-9.3 9.3l-9.3 -9.3zM336.3 2033.1l9.3 9.3l-9.3 9.3l-9.3 -9.3zM341.1 2029.7l9.3 9.3l-9.3 9.3l-9.3 -9.3zM346 2029l9.3 9.3l-9.3 9.3l-9.3 -9.3zM350.8 2031.4l9.3 9.3l-9.3 9.3l-9.3 -9.3zM355.7 2034.3l9.3 9.3l-9.3 9.3l-9.3 -9.3zM360.5 2037.6l9.3 9.3l-9.3 9.3l-9.3 -9.3zM365.4 2039.3l9.3 9.3l-9.3 9.3l-9.3 -9.3zM370.2 2040.2l9.3 9.3l-9.3 9.3l-9.3 -9.3zM375.1 2039.7l9.3 9.3l-9.3 9.3l-9.3 -9.3zM379.9 2038.2l9.3 9.3l-9.3 9.3l-9.3 -9.3zM384.8 2036.6l9.3 9.3l-9.3 9.3l-9.3 -9.3zM389.6 2034.9l9.3 9.3l-9.3 9.3l-9.3 -9.3zM394.5 2033.1l9.3 9.3l-9.3 9.3l-9.3 -9.3zM399.3 2031.1l9.3 9.3l-9.3 9.3l-9.3 -9.3zM404.2 2029.2l9.3 9.3l-9.3 9.3l-9.3 -9.3zM409 2027.4l9.3 9.3l-9.3 9.3l-9.3 -9.3zM413.9 2025.5l9.3 9.3l-9.3 9.3l-9.3 -9.3zM418.7 2023.6l9.3 9.3l-9.3 9.3l-9.3 -9.3zM423.6 2021.5l9.3 9.3l-9.3 9.3l-9.3 -9.3zM428.4 2019.4l9.3 9.3l-9.3 9.3l-9.3 -9.3zM433.3 2017.2l9.3 9.3l-9.3 9.3l-9.3 -9.3zM438.1 2014.8l9.3 9.3l-9.3 9.3l-9.3 -9.3zM443 2012.2l9.3 9.3l-9.3 9.3l-9.3 -9.3zM447.8 2009.1l9.3 9.3l-9.3 9.3l-9.3 -9.3zM452.6 2005.6l9.3 9.3l-9.3 9.3l-9.3 -9.3zM457.5 2001.9l9.3 9.3l-9.3 9.3l-9.3 -9.3zM462.3 1998.6l9.3 9.3l-9.3 9.3l-9.3 -9.3zM467.2 1995.5l9.3 9.3l-9.3 9.3l-9.3 -9.3zM472 1992.7l9.3 9.3l-9.3 9.3l-9.3 -9.3zM476.9 1990.5l9.3 9.3l-9.3 9.3l-9.3 -9.3zM481.7 1988.6l9.3 9.3l-9.3 9.3l-9.3 -9.3zM486.6 1987l9.3 9.3l-9.3 9.3l-9.3 -9.3zM491.4 1985.7l9.3 9.3l-9.3 9.3l-9.3 -9.3zM496.3 1984.7l9.3 9.3l-9.3 9.3l-9.3 -9.3zM501.1 1984.2l9.3 9.3l-9.3 9.3l-9.3 -9.3zM506 1983.8l9.3 9.3l-9.3 9.3l-9.3 -9.3zM510.8 1983.6l9.3 9.3l-9.3 9.3l-9.3 -9.3zM515.7 1983.9l9.3 9.3l-9.3 9.3l-9.3 -9.3zM520.5 1984.5l9.3 9.3l-9.3 9.3l-9.3 -9.3zM525.4 1985.3l9.3 9.3l-9.3 9.3l-9.3 -9.3zM530.2 1986.7l9.3 9.3l-9.3 9.3l-9.3 -9.3zM535.1 1988.5l9.3 9.3l-9.3 9.3l-9.3 -9.3zM539.9 1990.3l9.3 9.3l-9.3 9.3l-9.3 -9.3zM544.8 1992l9.3 9.3l-9.3 9.3l-9.3 -9.3zM549.6 1993.8l9.3 9.3l-9.3 9.3l-9.3 -9.3zM554.5 1995.5l9.3 9.3l-9.3 9.3l-9.3 -9.3zM559.3 1997l9.3 9.3l-9.3 9.3l-9.3 -9.3zM564.1 1998.5l9.3 9.3l-9.3 9.3l-9.3 -9.3zM569 1999.9l9.3 9.3l-9.3 9.3l-9.3 -9.3zM573.8 2000.9l9.3 9.3l-9.3 9.3l-9.3 -9.3zM578.7 2001.9l9.3 9.3l-9.3 9.3l-9.3 -9.3zM583.5 2002.8l9.3 9.3l-9.3 9.3l-9.3 -9.3zM588.4 2003.3l9.3 9.3l-9.3 9.3l-9.3 -9.3zM593.2 2003.4l9.3 9.3l-9.3 9.3l-9.3 -9.3zM598.1 2003.3l9.3 9.3l-9.3 9.3l-9.3 -9.3zM602.9 2003l9.3 9.3l-9.3 9.3l-9.3 -9.3zM607.8 2002.7l9.3 9.3l-9.3 9.3l-9.3 -9.3zM612.6 2002.4l9.3 9.3l-9.3 9.3l-9.3 -9.3zM617.5 2002.1l9.3 9.3l-9.3 9.3l-9.3 -9.3zM622.3 2001.7l9.3 9.3l-9.3 9.3l-9.3 -9.3zM627.2 2001.2l9.3 9.3l-9.3 9.3l-9.3 -9.3zM632 2000.7l9.3 9.3l-9.3 9.3l-9.3 -9.3zM636.9 2000.2l9.3 9.3l-9.3 9.3l-9.3 -9.3zM641.7 1999.6l9.3 9.3l-9.3 9.3l-9.3 -9.3zM646.6 1999.1l9.3 9.3l-9.3 9.3l-9.3 -9.3zM651.4 1998.6l9.3 9.3l-9.3 9.3l-9.3 -9.3zM656.3 1998.1l9.3 9.3l-9.3 9.3l-9.3 -9.3zM661.1 1997.6l9.3 9.3l-9.3 9.3l-9.3 -9.3zM666 1997.1l9.3 9.3l-9.3 9.3l-9.3 -9.3zM670.8 1996.7l9.3 9.3l-9.3 9.3l-9.3 -9.3zM675.7 1996.3l9.3 9.3l-9.3 9.3l-9.3 -9.3zM680.5 1995.8l9.3 9.3l-9.3 9.3l-9.3 -9.3zM685.4 1995.4l9.3 9.3l-9.3 9.3l-9.3 -9.3zM690.2 1995.1l9.3 9.3l-9.3 9.3l-9.3 -9.3zM695 1994.9l9.3 9.3l-9.3 9.3l-9.3 -9.3zM699.9 1994.9l9.3 9.3l-9.3 9.3l-9.3 -9.3zM704.7 1995l9.3 9.3l-9.3 9.3l-9.3 -9.3zM709.6 1995.1l9.3 9.3l-9.3 9.3l-9.3 -9.3zM714.4 1995.2l9.3 9.3l-9.3 9.3l-9.3 -9.3zM719.3 1995.3l9.3 9.3l-9.3 9.3l-9.3 -9.3zM724.1 1995.5l9.3 9.3l-9.3 9.3l-9.3 -9.3zM729 1995.7l9.3 9.3l-9.3 9.3l-9.3 -9.3zM733.8 1995.9l9.3 9.3l-9.3 9.3l-9.3 -9.3zM738.7 1996.1l9.3 9.3l-9.3 9.3l-9.3 -9.3zM743.5 1996.3l9.3 9.3l-9.3 9.3l-9.3 -9.3zM748.4 1996.6l9.3 9.3l-9.3 9.3l-9.3 -9.3zM753.2 1996.9l9.3 9.3l-9.3 9.3l-9.3 -9.3zM758.1 1997.2l9.3 9.3l-9.3 9.3l-9.3 -9.3zM762.9 1997.4l9.3 9.3l-9.3 9.3l-9.3 -9.3zM767.8 1997.8l9.3 9.3l-9.3 9.3l-9.3 -9.3zM772.6 1998.2l9.3 9.3l-9.3 9.3l-9.3 -9.3zM777.5 1998.6l9.3 9.3l-9.3 9.3l-9.3 -9.3zM796.2 2001.8l9.3 9.3l-9.3 9.3l-9.3 -9.3zM814.4 2002.3l9.3 9.3l-9.3 9.3l-9.3 -9.3zM833.3 2002.9l9.3 9.3l-9.3 9.3l-9.3 -9.3zM852.2 2003.7l9.3 9.3l-9.3 9.3l-9.3 -9.3zM871.6 2004.3l9.3 9.3l-9.3 9.3l-9.3 -9.3zM891.3 2004.5l9.3 9.3l-9.3 9.3l-9.3 -9.3zM911.5 2004.5l9.3 9.3l-9.3 9.3l-9.3 -9.3zM932.2 2004.5l9.3 9.3l-9.3 9.3l-9.3 -9.3zM952.6 2003.7l9.3 9.3l-9.3 9.3l-9.3 -9.3zM974.5 2002.9l9.3 9.3l-9.3 9.3l-9.3 -9.3zM996 2001.8l9.3 9.3l-9.3 9.3l-9.3 -9.3zM1017.4 2000.4l9.3 9.3l-9.3 9.3l-9.3 -9.3zM1039.6 1999.6l9.3 9.3l-9.3 9.3l-9.3 -9.3z"/>
</g>
<g clip-path="url(#cr)">
<path fill="#000" d="M1176.9 687.5h11.9v11.9h-11.9zM1181.7 687.2h11.9v11.9h-11.9zM1186.5 686.9h11.9v11.9h-11.9zM1191.4 686.6h11.9v11.9h-11.9zM1196.2 686.2h11.9v11.9h-11.9zM1201.1 685.7h11.9v11.9h-11.9zM1205.9 685.2h11.9v11.9h-11.9zM1210.8 684.7h11.9v11.9h-11.9zM1215.6 684.2h11.9v11.9h-11.9zM1220.5 683.6h11.9v11.9h-11.9zM1225.3 683h11.9v11.9h-11.9zM1230.2 682.4h11.9v11.9h-11.9zM1235 681.7h11.9v11.9h-11.9zM1239.9 681.1h11.9v11.9h-11.9zM1244.7 680.3h11.9v11.9h-11.9zM1249.6 679.4h11.9v11.9h-11.9zM1254.4 678.5h11.9v11.9h-11.9zM1259.3 677.5h11.9v11.9h-11.9zM1264.1 676.5h11.9v11.9h-11.9zM1269 675.4h11.9v11.9h-11.9zM1273.8 674.2h11.9v11.9h-11.9zM1278.7 673.1h11.9v11.9h-11.9zM1283.5 671.9h11.9v11.9h-11.9zM1288.4 670.9h11.9v11.9h-11.9zM1293.2 669.6h11.9v11.9h-11.9zM1298.1 667.3h11.9v11.9h-11.9zM1302.9 660.6h11.9v11.9h-11.9zM1307.7 652.2h11.9v11.9h-11.9zM1312.6 643.3h11.9v11.9h-11.9zM1317.4 635.2h11.9v11.9h-11.9zM1322.3 627.7h11.9v11.9h-11.9zM1327.1 616.7h11.9v11.9h-11.9zM1332 602.4h11.9v11.9h-11.9zM1336.8 595.5h11.9v11.9h-11.9zM1341.7 577h11.9v11.9h-11.9zM1346.5 561.7h11.9v11.9h-11.9zM1351.4 549.1h11.9v11.9h-11.9zM1356.2 535.3h11.9v11.9h-11.9zM1361.1 525.6h11.9v11.9h-11.9zM1365.9 515.3h11.9v11.9h-11.9zM1370.8 506.4h11.9v11.9h-11.9zM1375.6 495.7h11.9v11.9h-11.9zM1380.5 485.3h11.9v11.9h-11.9zM1385.3 477.5h11.9v11.9h-11.9zM1390.2 467.9h11.9v11.9h-11.9zM1395 455.6h11.9v11.9h-11.9zM1399.9 440.6h11.9v11.9h-11.9zM1404.7 423.6h11.9v11.9h-11.9zM1409.6 405.2h11.9v11.9h-11.9zM1414.4 385.7h11.9v11.9h-11.9zM1419.3 370.8h11.9v11.9h-11.9zM1424.1 345.2h11.9v11.9h-11.9zM1428.9 319.9h11.9v11.9h-11.9zM1433.8 293.6h11.9v11.9h-11.9zM1438.6 274.6h11.9v11.9h-11.9zM1443.5 259h11.9v11.9h-11.9zM1448.3 244.1h11.9v11.9h-11.9zM1453.2 233.5h11.9v11.9h-11.9zM1458 222.1h11.9v11.9h-11.9zM1462.9 209.7h11.9v11.9h-11.9zM1467.7 198h11.9v11.9h-11.9zM1472.6 186.8h11.9v11.9h-11.9zM1477.4 175.6h11.9v11.9h-11.9zM1482.3 164.6h11.9v11.9h-11.9zM1487.1 154h11.9v11.9h-11.9zM1492 144.1h11.9v11.9h-11.9zM1496.8 136.5h11.9v11.9h-11.9zM1501.7 132.6h11.9v11.9h-11.9zM1506.5 131.9h11.9v11.9h-11.9zM1511.4 134.4h11.9v11.9h-11.9zM1516.2 140.1h11.9v11.9h-11.9zM1521.1 148.1h11.9v11.9h-11.9zM1525.9 156h11.9v11.9h-11.9zM1530.8 163.9h11.9v11.9h-11.9zM1535.6 171.9h11.9v11.9h-11.9zM1540.5 181.2h11.9v11.9h-11.9zM1545.3 190.9h11.9v11.9h-11.9zM1550.1 199.1h11.9v11.9h-11.9zM1555 205.8h11.9v11.9h-11.9zM1559.8 211.7h11.9v11.9h-11.9zM1564.7 217.8h11.9v11.9h-11.9zM1569.5 223.6h11.9v11.9h-11.9zM1574.4 228.4h11.9v11.9h-11.9zM1579.2 235.2h11.9v11.9h-11.9zM1584.1 243.5h11.9v11.9h-11.9zM1588.9 251h11.9v11.9h-11.9zM1593.8 257.9h11.9v11.9h-11.9zM1598.6 264.1h11.9v11.9h-11.9zM1603.5 269.2h11.9v11.9h-11.9zM1608.3 273.6h11.9v11.9h-11.9zM1613.2 277.4h11.9v11.9h-11.9zM1618 280.9h11.9v11.9h-11.9zM1622.9 283.8h11.9v11.9h-11.9zM1627.7 285.1h11.9v11.9h-11.9zM1632.6 285.8h11.9v11.9h-11.9zM1637.4 285.9h11.9v11.9h-11.9zM1642.3 285.6h11.9v11.9h-11.9zM1647.1 285.1h11.9v11.9h-11.9zM1652 284.5h11.9v11.9h-11.9zM1656.8 283.8h11.9v11.9h-11.9zM1661.7 283h11.9v11.9h-11.9zM1666.5 282.5h11.9v11.9h-11.9zM1671.3 282h11.9v11.9h-11.9zM1676.2 281.8h11.9v11.9h-11.9zM1681 282.2h11.9v11.9h-11.9zM1685.9 283.2h11.9v11.9h-11.9zM1690.7 284.1h11.9v11.9h-11.9zM1695.6 285.3h11.9v11.9h-11.9zM1700.4 286.6h11.9v11.9h-11.9zM1705.3 288.1h11.9v11.9h-11.9zM1710.1 289.8h11.9v11.9h-11.9zM1715 291.1h11.9v11.9h-11.9zM1719.8 292.2h11.9v11.9h-11.9zM1724.7 293.3h11.9v11.9h-11.9zM1729.5 294.4h11.9v11.9h-11.9zM1734.4 295.6h11.9v11.9h-11.9zM1739.2 296.8h11.9v11.9h-11.9zM1744.1 298.1h11.9v11.9h-11.9zM1748.9 299.5h11.9v11.9h-11.9zM1766.5 308.7h11.9v11.9h-11.9zM1785 316.2h11.9v11.9h-11.9zM1803.6 323.8h11.9v11.9h-11.9zM1822.8 331.4h11.9v11.9h-11.9zM1841.8 334.6h11.9v11.9h-11.9zM1862 335.6h11.9v11.9h-11.9zM1882 332.1h11.9v11.9h-11.9zM1902.5 325.6h11.9v11.9h-11.9zM1923 316.7h11.9v11.9h-11.9zM1944 306.1h11.9v11.9h-11.9zM1965.5 294.8h11.9v11.9h-11.9zM1987.5 283.4h11.9v11.9h-11.9zM2009.8 271.6h11.9v11.9h-11.9z"/>
<path fill="#f00" d="M1176.2 693.4a6.6 6.6 0 1 0 13.2 0a6.6 6.6 0 1 0 -13.2 0zM1181 693a6.6 6.6 0 1 0 13.2 0a6.6 6.6 0 1 0 -13.2 0zM1185.9 692.7a6.6 6.6 0 1 0 13.2 0a6.6 6.6 0 1 0 -13.2 0zM1190.7 692.3a6.6 6.6 0 1 0 13.2 0a6.6 6.6 0 1 0 -13.2 0zM1195.6 692a6.6 6.6 0 1 0 13.2 0a6.6 6.6 0 1 0 -13.2 0zM1200.4 691.5a6.6 6.6 0 1 0 13.2 0a6.6 6.6 0 1 0 -13.2 0zM1205.3 691.1a6.6 6.6 0 1 0 13.2 0a6.6 6.6 0 1 0 -13.2 0zM1210.1 690.6a6.6 6.6 0 1 0 13.2 0a6.6 6.6 0 1 0 -13.2 0zM1215 690.1a6.6 6.6 0 1 0 13.2 0a6.6 6.6 0 1 0 -13.2 0zM1219.8 689.6a6.6 6.6 0 1 0 13.2 0a6.6 6.6 0 1 0 -13.2 0zM1224.7 689a6.6 6.6 0 1 0 13.2 0a6.6 6.6 0 1 0 -13.2 0zM1229.5 688.4a6.6 6.6 0 1 0 13.2 0a6.6 6.6 0 1 0 -13.2 0zM1234.4 687.7a6.6 6.6 0 1 0 13.2 0a6.6 6.6 0 1 0 -13.2 0zM1239.2 686.9a6.6 6.6 0 1 0 13.2 0a6.6 6.6 0 1 0 -13.2 0zM1244.1 685.9a6.6 6.6 0 1 0 13.2 0a6.6 6.6 0 1 0 -13.2 0zM1248.9 684.9a6.6 6.6 0 1 0 13.2 0a6.6 6.6 0 1 0 -13.2 0zM1253.8 683.9a6.6 6.6 0 1 0 13.2 0a6.6 6.6 0 1 0 -13.2 0zM1258.6 682.9a6.6 6.6 0 1 0 13.2 0a6.6 6.6 0 1 0 -13.2 0zM1263.5 682.1a6.6 6.6 0 1 0 13.2 0a6.6 6.6 0 1 0 -13.2 0zM1268.3 681.4a6.6 6.6 0 1 0 13.2 0a6.6 6.6 0 1 0 -13.2 0zM1273.2 680.7a6.6 6.6 0 1 0 13.2 0a6.6 6.6 0 1 0 -13.2 0zM1278 679.8a6.6 6.6 0 1 0 13.2 0a6.6 6.6 0 1 0 -13.2 0zM1282.9 678.7a6.6 6.6 0 1 0 13.2 0a6.6 6.6 0 1 0 -13.2 0zM1287.7 677.3a6.6 6.6 0 1 0 13.2 0a6.6 6.6 0 1 0 -13.2 0zM1292.6 675.3a6.6 6.6 0 1 0 13.2 0a6.6 6.6 0 1 0 -13.2 0zM1297.4 672.9a6.6 6.6 0 1 0 13.2 0a6.6 6.6 0 1 0 -13.2 0zM1302.2 669.5a6.6 6.6 0 1 0 13.2 0a6.6 6.6 0 1 0 -13.2 0zM1307.1 665a6.6 6.6 0 1 0 13.2 0a6.6 6.6 0 1 0 -13.2 0zM1311.9 659.3a6.6 6.6 0 1 0 13.2 0a6.6 6.6 0 1 0 -13.2 0zM1316.8 651.8a6.6 6.6 0 1 0 13.2 0a6.6 6.6 0 1 0 -13.2 0zM1321.6 641.7a6.6 6.6 0 1 0 13.2 0a6.6 6.6 0 1 0 -13.2 0zM1326.5 631.5a6.6 6.6 0 1 0 13.2 0a6.6 6.6 0 1 0 -13.2 0zM1331.3 614.1a6.6 6.6 0 1 0 13.2 0a6.6 6.6 0 1 0 -13.2 0zM1336.2 592.3a6.6 6.6 0 1 0 13.2 0a6.6 6.6 0 1 0 -13.2 0zM1341 565.6a6.6 6.6 0 1 0 13.2 0a6.6 6.6 0 1 0 -13.2 0zM1345.9 548.2a6.6 6.6 0 1 0 13.2 0a6.6 6.6 0 1 0 -13.2 0zM1350.7 531.1a6.6 6.6 0 1 0 13.2 0a6.6 6.6 0 1 0 -13.2 0zM1355.6 516.5a6.6 6.6 0 1 0 13.2 0a6.6 6.6 0 1 0 -13.2 0zM1360.4 509.8a6.6 6.6 0 1 0 13.2 0a6.6 6.6 0 1 0 -13.2 0zM1365.3 508a6.6 6.6 0 1 0 13.2 0a6.6 6.6 0 1 0 -13.2 0zM1370.1 509.2a6.6 6.6 0 1 0 13.2 0a6.6 6.6 0 1 0 -13.2 0zM1375 509.2a6.6 6.6 0 1 0 13.2 0a6.6 6.6 0 1 0 -13.2 0zM1379.8 508.1a6.6 6.6 0 1 0 13.2 0a6.6 6.6 0 1 0 -13.2 0zM1384.7 504.2a6.6 6.6 0 1 0 13.2 0a6.6 6.6 0 1 0 -13.2 0zM1389.5 495.7a6.6 6.6 0 1 0 13.2 0a6.6 6.6 0 1 0 -13.2 0zM1394.4 481.7a6.6 6.6 0 1 0 13.2 0a6.6 6.6 0 1 0 -13.2 0zM1399.2 464.1a6.6 6.6 0 1 0 13.2 0a6.6 6.6 0 1 0 -13.2 0zM1404.1 442.9a6.6 6.6 0 1 0 13.2 0a6.6 6.6 0 1 0 -13.2 0zM1408.9 420.5a6.6 6.6 0 1 0 13.2 0a6.6 6.6 0 1 0 -13.2 0zM1413.8 400.1a6.6 6.6 0 1 0 13.2 0a6.6 6.6 0 1 0 -13.2 0zM1418.6 376.3a6.6 6.6 0 1 0 13.2 0a6.6 6.6 0 1 0 -13.2 0zM1423.4 348.1a6.6 6.6 0 1 0 13.2 0a6.6 6.6 0 1 0 -13.2 0zM1428.3 321.7a6.6 6.6 0 1 0 13.2 0a6.6 6.6 0 1 0 -13.2 0zM1433.1 293.6a6.6 6.6 0 1 0 13.2 0a6.6 6.6 0 1 0 -13.2 0zM1438 272.7a6.6 6.6 0 1 0 13.2 0a6.6 6.6 0 1 0 -13.2 0zM1442.8 258.2a6.6 6.6 0 1 0 13.2 0a6.6 6.6 0 1 0 -13.2 0zM1447.7 244.9a6.6 6.6 0 1 0 13.2 0a6.6 6.6 0 1 0 -13.2 0zM1452.5 232.9a6.6 6.6 0 1 0 13.2 0a6.6 6.6 0 1 0 -13.2 0zM1457.4 222.3a6.6 6.6 0 1 0 13.2 0a6.6 6.6 0 1 0 -13.2 0zM1462.2 211.9a6.6 6.6 0 1 0 13.2 0a6.6 6.6 0 1 0 -13.2 0zM1467.1 198.9a6.6 6.6 0 1 0 13.2 0a6.6 6.6 0 1 0 -13.2 0zM1471.9 188.4a6.6 6.6 0 1 0 13.2 0a6.6 6.6 0 1 0 -13.2 0zM1476.8 178.9a6.6 6.6 0 1 0 13.2 0a6.6 6.6 0 1 0 -13.2 0zM1481.6 166.6a6.6 6.6 0 1 0 13.2 0a6.6 6.6 0 1 0 -13.2 0zM1486.5 152a6.6 6.6 0 1 0 13.2 0a6.6 6.6 0 1 0 -13.2 0zM1491.3 137.6a6.6 6.6 0 1 0 13.2 0a6.6 6.6 0 1 0 -13.2 0zM1496.2 127.2a6.6 6.6 0 1 0 13.2 0a6.6 6.6 0 1 0 -13.2 0zM1501 121.4a6.6 6.6 0 1 0 13.2 0a6.6 6.6 0 1 0 -13.2 0zM1505.9 118.9a6.6 6.6 0 1 0 13.2 0a6.6 6.6 0 1 0 -13.2 0zM1510.7 121.4a6.6 6.6 0 1 0 13.2 0a6.6 6.6 0 1 0 -13.2 0zM1515.6 125.7a6.6 6.6 0 1 0 13.2 0a6.6 6.6 0 1 0 -13.2 0zM1520.4 131.7a6.6 6.6 0 1 0 13.2 0a6.6 6.6 0 1 0 -13.2 0zM1525.3 139.3a6.6 6.6 0 1 0 13.2 0a6.6 6.6 0 1 0 -13.2 0zM1530.1 147.5a6.6 6.6 0 1 0 13.2 0a6.6 6.6 0 1 0 -13.2 0zM1535 155.4a6.6 6.6 0 1 0 13.2 0a6.6 6.6 0 1 0 -13.2 0zM1539.8 163.9a6.6 6.6 0 1 0 13.2 0a6.6 6.6 0 1 0 -13.2 0zM1544.6 175.3a6.6 6.6 0 1 0 13.2 0a6.6 6.6 0 1 0 -13.2 0zM1549.5 186.9a6.6 6.6 0 1 0 13.2 0a6.6 6.6 0 1 0 -13.2 0zM1554.3 198.5a6.6 6.6 0 1 0 13.2 0a6.6 6.6 0 1 0 -13.2 0zM1559.2 210.5a6.6 6.6 0 1 0 13.2 0a6.6 6.6 0 1 0 -13.2 0zM1564 224.2a6.6 6.6 0 1 0 13.2 0a6.6 6.6 0 1 0 -13.2 0zM1568.9 236.1a6.6 6.6 0 1 0 13.2 0a6.6 6.6 0 1 0 -13.2 0zM1573.7 243.8a6.6 6.6 0 1 0 13.2 0a6.6 6.6 0 1 0 -13.2 0zM1578.6 250.9a6.6 6.6 0 1 0 13.2 0a6.6 6.6 0 1 0 -13.2 0zM1583.4 259.3a6.6 6.6 0 1 0 13.2 0a6.6 6.6 0 1 0 -13.2 0zM1588.3 268.8a6.6 6.6 0 1 0 13.2 0a6.6 6.6 0 1 0 -13.2 0zM1593.1 275.7a6.6 6.6 0 1 0 13.2 0a6.6 6.6 0 1 0 -13.2 0zM1598 281.4a6.6 6.6 0 1 0 13.2 0a6.6 6.6 0 1 0 -13.2 0zM1602.8 286.2a6.6 6.6 0 1 0 13.2 0a6.6 6.6 0 1 0 -13.2 0zM1607.7 290.3a6.6 6.6 0 1 0 13.2 0a6.6 6.6 0 1 0 -13.2 0zM1612.5 293.3a6.6 6.6 0 1 0 13.2 0a6.6 6.6 0 1 0 -13.2 0zM1617.4 295.6a6.6 6.6 0 1 0 13.2 0a6.6 6.6 0 1 0 -13.2 0zM1622.2 297.2a6.6 6.6 0 1 0 13.2 0a6.6 6.6 0 1 0 -13.2 0zM1627.1 297.4a6.6 6.6 0 1 0 13.2 0a6.6 6.6 0 1 0 -13.2 0zM1631.9 297.4a6.6 6.6 0 1 0 13.2 0a6.6 6.6 0 1 0 -13.2 0zM1636.8 297.3a6.6 6.6 0 1 0 13.2 0a6.6 6.6 0 1 0 -13.2 0zM1641.6 296.1a6.6 6.6 0 1 0 13.2 0a6.6 6.6 0 1 0 -13.2 0zM1646.5 294.3a6.6 6.6 0 1 0 13.2 0a6.6 6.6 0 1 0 -13.2 0zM1651.3 292.7a6.6 6.6 0 1 0 13.2 0a6.6 6.6 0 1 0 -13.2 0zM1656.2 291.1a6.6 6.6 0 1 0 13.2 0a6.6 6.6 0 1 0 -13.2 0zM1661 289.6a6.6 6.6 0 1 0 13.2 0a6.6 6.6 0 1 0 -13.2 0zM1665.8 288.7a6.6 6.6 0 1 0 13.2 0a6.6 6.6 0 1 0 -13.2 0zM1670.7 287.9a6.6 6.6 0 1 0 13.2 0a6.6 6.6 0 1 0 -13.2 0zM1675.5 287.6a6.6 6.6 0 1 0 13.2 0a6.6 6.6 0 1 0 -13.2 0zM1680.4 287.7a6.6 6.6 0 1 0 13.2 0a6.6 6.6 0 1 0 -13.2 0zM1685.2 287.9a6.6 6.6 0 1 0 13.2 0a6.6 6.6 0 1 0 -13.2 0zM1690.1 288.3a6.6 6.6 0 1 0 13.2 0a6.6 6.6 0 1 0 -13.2 0zM1694.9 288.9a6.6 6.6 0 1 0 13.2 0a6.6 6.6 0 1 0 -13.2 0zM1699.8 289.7a6.6 6.6 0 1 0 13.2 0a6.6 6.6 0 1 0 -13.2 0zM1704.6 290.6a6.6 6.6 0 1 0 13.2 0a6.6 6.6 0 1 0 -13.2 0zM1709.5 291.6a6.6 6.6 0 1 0 13.2 0a6.6 6.6 0 1 0 -13.2 0zM1714.3 292.7a6.6 6.6 0 1 0 13.2 0a6.6 6.6 0 1 0 -13.2 0zM1719.2 293.7a6.6 6.6 0 1 0 13.2 0a6.6 6.6 0 1 0 -13.2 0zM1724 294.7a6.6 6.6 0 1 0 13.2 0a6.6 6.6 0 1 0 -13.2 0zM1728.9 295.9a6.6 6.6 0 1 0 13.2 0a6.6 6.6 0 1 0 -13.2 0zM1733.7 297a6.6 6.6 0 1 0 13.2 0a6.6 6.6 0 1 0 -13.2 0zM1738.6 298.3a6.6 6.6 0 1 0 13.2 0a6.6 6.6 0 1 0 -13.2 0zM1743.4 299.6a6.6 6.6 0 1 0 13.2 0a6.6 6.6 0 1 0 -13.2 0zM1748.3 301a6.6 6.6 0 1 0 13.2 0a6.6 6.6 0 1 0 -13.2 0zM1765.8 310a6.6 6.6 0 1 0 13.2 0a6.6 6.6 0 1 0 -13.2 0zM1784.3 323.4a6.6 6.6 0 1 0 13.2 0a6.6 6.6 0 1 0 -13.2 0zM1803 337.3a6.6 6.6 0 1 0 13.2 0a6.6 6.6 0 1 0 -13.2 0zM1822.1 345.6a6.6 6.6 0 1 0 13.2 0a6.6 6.6 0 1 0 -13.2 0zM1841.2 352.4a6.6 6.6 0 1 0 13.2 0a6.6 6.6 0 1 0 -13.2 0zM1861.4 354.9a6.6 6.6 0 1 0 13.2 0a6.6 6.6 0 1 0 -13.2 0zM1881.4 353.6a6.6 6.6 0 1 0 13.2 0a6.6 6.6 0 1 0 -13.2 0zM1901.8 347.3a6.6 6.6 0 1 0 13.2 0a6.6 6.6 0 1 0 -13.2 0zM1922.4 337.3a6.6 6.6 0 1 0 13.2 0a6.6 6.6 0 1 0 -13.2 0zM1943.3 325.9a6.6 6.6 0 1 0 13.2 0a6.6 6.6 0 1 0 -13.2 0zM1964.8 313.3a6.6 6.6 0 1 0 13.2 0a6.6 6.6 0 1 0 -13.2 0zM1986.9 300.7a6.6 6.6 0 1 0 13.2 0a6.6 6.6 0 1 0 -13.2 0zM2009.1 300.7a6.6 6.6 0 1 0 13.2 0a6.6 6.6 0 1 0 -13.2 0z"/>
<path fill="#000" d="M1176.3 1377h11.9v11.9h-11.9zM1181.1 1376.7h11.9v11.9h-11.9zM1186 1376.2h11.9v11.9h-11.9zM1190.8 1375.6h11.9v11.9h-11.9zM1195.7 1374.9h11.9v11.9h-11.9zM1200.5 1374.1h11.9v11.9h-11.9zM1205.4 1373.1h11.9v11.9h-11.9zM1210.2 1371.9h11.9v11.9h-11.9zM1215.1 1370.5h11.9v11.9h-11.9zM1219.9 1369.1h11.9v11.9h-11.9zM1224.8 1367.5h11.9v11.9h-11.9zM1229.6 1365.8h11.9v11.9h-11.9zM1234.5 1363.8h11.9v11.9h-11.9zM1239.3 1361.4h11.9v11.9h-11.9zM1244.2 1358.1h11.9v11.9h-11.9zM1249 1353.2h11.9v11.9h-11.9zM1253.9 1345.5h11.9v11.9h-11.9zM1258.7 1336.5h11.9v11.9h-11.9zM1263.6 1325.5h11.9v11.9h-11.9zM1268.4 1312.2h11.9v11.9h-11.9zM1273.3 1294.2h11.9v11.9h-11.9zM1278.1 1276.4h11.9v11.9h-11.9zM1283 1251.6h11.9v11.9h-11.9zM1287.8 1229h11.9v11.9h-11.9zM1292.7 1200.8h11.9v11.9h-11.9zM1297.5 1180.8h11.9v11.9h-11.9zM1302.3 1163.5h11.9v11.9h-11.9zM1307.2 1148.2h11.9v11.9h-11.9zM1312 1143.1h11.9v11.9h-11.9zM1316.9 1140.3h11.9v11.9h-11.9zM1321.7 1138.4h11.9v11.9h-11.9zM1326.6 1136h11.9v11.9h-11.9zM1331.4 1133.1h11.9v11.9h-11.9zM1336.3 1129.3h11.9v11.9h-11.9zM1341.1 1123.8h11.9v11.9h-11.9zM1346 1116.1h11.9v11.9h-11.9zM1350.8 1107.3h11.9v11.9h-11.9zM1355.7 1096.6h11.9v11.9h-11.9zM1360.5 1085.3h11.9v11.9h-11.9zM1365.4 1075.6h11.9v11.9h-11.9zM1370.2 1070.2h11.9v11.9h-11.9zM1375.1 1057.6h11.9v11.9h-11.9zM1379.9 1045.9h11.9v11.9h-11.9zM1384.8 1034.5h11.9v11.9h-11.9zM1389.6 1024.6h11.9v11.9h-11.9zM1394.5 1012.5h11.9v11.9h-11.9zM1399.3 1000.8h11.9v11.9h-11.9zM1404.2 989.1h11.9v11.9h-11.9zM1409 977.7h11.9v11.9h-11.9zM1413.9 965.9h11.9v11.9h-11.9zM1418.7 951.4h11.9v11.9h-11.9zM1423.5 936.8h11.9v11.9h-11.9zM1428.4 924.8h11.9v11.9h-11.9zM1433.2 912h11.9v11.9h-11.9zM1438.1 899.7h11.9v11.9h-11.9zM1442.9 890.5h11.9v11.9h-11.9zM1447.8 883h11.9v11.9h-11.9zM1452.6 877.6h11.9v11.9h-11.9zM1457.5 874.2h11.9v11.9h-11.9zM1462.3 872.2h11.9v11.9h-11.9zM1467.2 870.8h11.9v11.9h-11.9zM1472 870.2h11.9v11.9h-11.9zM1476.9 870.1h11.9v11.9h-11.9zM1481.7 870.1h11.9v11.9h-11.9zM1486.6 870.7h11.9v11.9h-11.9zM1491.4 872.3h11.9v11.9h-11.9zM1496.3 874.3h11.9v11.9h-11.9zM1501.1 877.3h11.9v11.9h-11.9zM1506 880.4h11.9v11.9h-11.9zM1510.8 883h11.9v11.9h-11.9zM1515.7 885.4h11.9v11.9h-11.9zM1520.5 887.4h11.9v11.9h-11.9zM1525.4 889.3h11.9v11.9h-11.9zM1530.2 890.7h11.9v11.9h-11.9zM1535.1 891.4h11.9v11.9h-11.9zM1539.9 891.8h11.9v11.9h-11.9zM1544.7 892.2h11.9v11.9h-11.9zM1549.6 892.7h11.9v11.9h-11.9zM1554.4 893.3h11.9v11.9h-11.9zM1559.3 894h11.9v11.9h-11.9zM1564.1 894.8h11.9v11.9h-11.9zM1569 895.6h11.9v11.9h-11.9zM1573.8 896.6h11.9v11.9h-11.9zM1578.7 898h11.9v11.9h-11.9zM1583.5 900.6h11.9v11.9h-11.9zM1588.4 903.7h11.9v11.9h-11.9zM1593.2 906.4h11.9v11.9h-11.9zM1598.1 908.3h11.9v11.9h-11.9zM1602.9 909.9h11.9v11.9h-11.9zM1607.8 911.3h11.9v11.9h-11.9zM1612.6 912.8h11.9v11.9h-11.9zM1617.5 914.2h11.9v11.9h-11.9zM1622.3 915.5h11.9v11.9h-11.9zM1627.2 916.7h11.9v11.9h-11.9zM1632 917.7h11.9v11.9h-11.9zM1636.9 918.5h11.9v11.9h-11.9zM1641.7 919.1h11.9v11.9h-11.9zM1646.6 919.5h11.9v11.9h-11.9zM1651.4 919.5h11.9v11.9h-11.9zM1656.3 919.5h11.9v11.9h-11.9zM1661.1 919.5h11.9v11.9h-11.9zM1665.9 919.4h11.9v11.9h-11.9zM1670.8 919.3h11.9v11.9h-11.9zM1675.6 919.1h11.9v11.9h-11.9zM1680.5 918.8h11.9v11.9h-11.9zM1685.3 918.4h11.9v11.9h-11.9zM1690.2 917.8h11.9v11.9h-11.9zM1695 917.2h11.9v11.9h-11.9zM1699.9 916.6h11.9v11.9h-11.9zM1704.7 915.9h11.9v11.9h-11.9zM1709.6 915.1h11.9v11.9h-11.9zM1714.4 914.3h11.9v11.9h-11.9zM1719.3 913.7h11.9v11.9h-11.9zM1724.1 913.4h11.9v11.9h-11.9zM1729 913.4h11.9v11.9h-11.9zM1733.8 913.5h11.9v11.9h-11.9zM1738.7 913.6h11.9v11.9h-11.9zM1743.5 913.8h11.9v11.9h-11.9zM1748.4 913.8h11.9v11.9h-11.9zM1766.5 913.8h11.9v11.9h-11.9zM1785 912.5h11.9v11.9h-11.9zM1803.6 911.5h11.9v11.9h-11.9zM1822.8 910.8h11.9v11.9h-11.9zM1841.8 912h11.9v11.9h-11.9zM1862 913.8h11.9v11.9h-11.9zM1882 917.1h11.9v11.9h-11.9zM1902.5 919.6h11.9v11.9h-11.9zM1923 920.8h11.9v11.9h-11.9zM1944 920.8h11.9v11.9h-11.9zM1965.5 918.8h11.9v11.9h-11.9zM1987.5 914.5h11.9v11.9h-11.9zM2009.8 910.8h11.9v11.9h-11.9z"/>
<path fill="#f00" d="M1175.7 1383.5a6.6 6.6 0 1 0 13.2 0a6.6 6.6 0 1 0 -13.2 0zM1180.5 1383.2a6.6 6.6 0 1 0 13.2 0a6.6 6.6 0 1 0 -13.2 0zM1185.3 1382.8a6.6 6.6 0 1 0 13.2 0a6.6 6.6 0 1 0 -13.2 0zM1190.2 1382.3a6.6 6.6 0 1 0 13.2 0a6.6 6.6 0 1 0 -13.2 0zM1195 1381.7a6.6 6.6 0 1 0 13.2 0a6.6 6.6 0 1 0 -13.2 0zM1199.9 1381a6.6 6.6 0 1 0 13.2 0a6.6 6.6 0 1 0 -13.2 0zM1204.7 1380.1a6.6 6.6 0 1 0 13.2 0a6.6 6.6 0 1 0 -13.2 0zM1209.6 1379a6.6 6.6 0 1 0 13.2 0a6.6 6.6 0 1 0 -13.2 0zM1214.4 1377.8a6.6 6.6 0 1 0 13.2 0a6.6 6.6 0 1 0 -13.2 0zM1219.3 1376.4a6.6 6.6 0 1 0 13.2 0a6.6 6.6 0 1 0 -13.2 0zM1224.1 1374.8a6.6 6.6 0 1 0 13.2 0a6.6 6.6 0 1 0 -13.2 0zM1229 1372.8a6.6 6.6 0 1 0 13.2 0a6.6 6.6 0 1 0 -13.2 0zM1233.8 1370.5a6.6 6.6 0 1 0 13.2 0a6.6 6.6 0 1 0 -13.2 0zM1238.7 1367.5a6.6 6.6 0 1 0 13.2 0a6.6 6.6 0 1 0 -13.2 0zM1243.5 1364a6.6 6.6 0 1 0 13.2 0a6.6 6.6 0 1 0 -13.2 0zM1248.4 1359.5a6.6 6.6 0 1 0 13.2 0a6.6 6.6 0 1 0 -13.2 0zM1253.2 1353.3a6.6 6.6 0 1 0 13.2 0a6.6 6.6 0 1 0 -13.2 0zM1258.1 1341.1a6.6 6.6 0 1 0 13.2 0a6.6 6.6 0 1 0 -13.2 0zM1262.9 1324.3a6.6 6.6 0 1 0 13.2 0a6.6 6.6 0 1 0 -13.2 0zM1267.8 1306.1a6.6 6.6 0 1 0 13.2 0a6.6 6.6 0 1 0 -13.2 0zM1272.6 1288.4a6.6 6.6 0 1 0 13.2 0a6.6 6.6 0 1 0 -13.2 0zM1277.5 1269.5a6.6 6.6 0 1 0 13.2 0a6.6 6.6 0 1 0 -13.2 0zM1282.3 1251.7a6.6 6.6 0 1 0 13.2 0a6.6 6.6 0 1 0 -13.2 0zM1287.2 1235.7a6.6 6.6 0 1 0 13.2 0a6.6 6.6 0 1 0 -13.2 0zM1292 1220.3a6.6 6.6 0 1 0 13.2 0a6.6 6.6 0 1 0 -13.2 0zM1296.9 1201.6a6.6 6.6 0 1 0 13.2 0a6.6 6.6 0 1 0 -13.2 0zM1301.7 1180.8a6.6 6.6 0 1 0 13.2 0a6.6 6.6 0 1 0 -13.2 0zM1306.5 1158.8a6.6 6.6 0 1 0 13.2 0a6.6 6.6 0 1 0 -13.2 0zM1311.4 1138.8a6.6 6.6 0 1 0 13.2 0a6.6 6.6 0 1 0 -13.2 0zM1316.2 1133.1a6.6 6.6 0 1 0 13.2 0a6.6 6.6 0 1 0 -13.2 0zM1321.1 1134.7a6.6 6.6 0 1 0 13.2 0a6.6 6.6 0 1 0 -13.2 0zM1325.9 1138.6a6.6 6.6 0 1 0 13.2 0a6.6 6.6 0 1 0 -13.2 0zM1330.8 1143.5a6.6 6.6 0 1 0 13.2 0a6.6 6.6 0 1 0 -13.2 0zM1335.6 1147a6.6 6.6 0 1 0 13.2 0a6.6 6.6 0 1 0 -13.2 0zM1340.5 1145.9a6.6 6.6 0 1 0 13.2 0a6.6 6.6 0 1 0 -13.2 0zM1345.3 1142.3a6.6 6.6 0 1 0 13.2 0a6.6 6.6 0 1 0 -13.2 0zM1350.2 1136.2a6.6 6.6 0 1 0 13.2 0a6.6 6.6 0 1 0 -13.2 0zM1355 1128.9a6.6 6.6 0 1 0 13.2 0a6.6 6.6 0 1 0 -13.2 0zM1359.9 1119.9a6.6 6.6 0 1 0 13.2 0a6.6 6.6 0 1 0 -13.2 0zM1364.7 1109.6a6.6 6.6 0 1 0 13.2 0a6.6 6.6 0 1 0 -13.2 0zM1369.6 1097.7a6.6 6.6 0 1 0 13.2 0a6.6 6.6 0 1 0 -13.2 0zM1374.4 1085.4a6.6 6.6 0 1 0 13.2 0a6.6 6.6 0 1 0 -13.2 0zM1379.3 1074.6a6.6 6.6 0 1 0 13.2 0a6.6 6.6 0 1 0 -13.2 0zM1384.1 1060.8a6.6 6.6 0 1 0 13.2 0a6.6 6.6 0 1 0 -13.2 0zM1389 1044.5a6.6 6.6 0 1 0 13.2 0a6.6 6.6 0 1 0 -13.2 0zM1393.8 1030.2a6.6 6.6 0 1 0 13.2 0a6.6 6.6 0 1 0 -13.2 0zM1398.7 1014.4a6.6 6.6 0 1 0 13.2 0a6.6 6.6 0 1 0 -13.2 0zM1403.5 999.6a6.6 6.6 0 1 0 13.2 0a6.6 6.6 0 1 0 -13.2 0zM1408.4 983.8a6.6 6.6 0 1 0 13.2 0a6.6 6.6 0 1 0 -13.2 0zM1413.2 967.9a6.6 6.6 0 1 0 13.2 0a6.6 6.6 0 1 0 -13.2 0zM1418.1 953.2a6.6 6.6 0 1 0 13.2 0a6.6 6.6 0 1 0 -13.2 0zM1422.9 937.3a6.6 6.6 0 1 0 13.2 0a6.6 6.6 0 1 0 -13.2 0zM1427.7 922.6a6.6 6.6 0 1 0 13.2 0a6.6 6.6 0 1 0 -13.2 0zM1432.6 908.8a6.6 6.6 0 1 0 13.2 0a6.6 6.6 0 1 0 -13.2 0zM1437.4 894.7a6.6 6.6 0 1 0 13.2 0a6.6 6.6 0 1 0 -13.2 0zM1442.3 881.5a6.6 6.6 0 1 0 13.2 0a6.6 6.6 0 1 0 -13.2 0zM1447.1 874.9a6.6 6.6 0 1 0 13.2 0a6.6 6.6 0 1 0 -13.2 0zM1452 871.9a6.6 6.6 0 1 0 13.2 0a6.6 6.6 0 1 0 -13.2 0zM1456.8 870.3a6.6 6.6 0 1 0 13.2 0a6.6 6.6 0 1 0 -13.2 0zM1461.7 870.4a6.6 6.6 0 1 0 13.2 0a6.6 6.6 0 1 0 -13.2 0zM1466.5 871.3a6.6 6.6 0 1 0 13.2 0a6.6 6.6 0 1 0 -13.2 0zM1471.4 872.5a6.6 6.6 0 1 0 13.2 0a6.6 6.6 0 1 0 -13.2 0zM1476.2 874.5a6.6 6.6 0 1 0 13.2 0a6.6 6.6 0 1 0 -13.2 0zM1481.1 877a6.6 6.6 0 1 0 13.2 0a6.6 6.6 0 1 0 -13.2 0zM1485.9 880a6.6 6.6 0 1 0 13.2 0a6.6 6.6 0 1 0 -13.2 0zM1490.8 883.5a6.6 6.6 0 1 0 13.2 0a6.6 6.6 0 1 0 -13.2 0zM1495.6 887.3a6.6 6.6 0 1 0 13.2 0a6.6 6.6 0 1 0 -13.2 0zM1500.5 891.5a6.6 6.6 0 1 0 13.2 0a6.6 6.6 0 1 0 -13.2 0zM1505.3 895.1a6.6 6.6 0 1 0 13.2 0a6.6 6.6 0 1 0 -13.2 0zM1510.2 898a6.6 6.6 0 1 0 13.2 0a6.6 6.6 0 1 0 -13.2 0zM1515 899.8a6.6 6.6 0 1 0 13.2 0a6.6 6.6 0 1 0 -13.2 0zM1519.9 900.6a6.6 6.6 0 1 0 13.2 0a6.6 6.6 0 1 0 -13.2 0zM1524.7 900.9a6.6 6.6 0 1 0 13.2 0a6.6 6.6 0 1 0 -13.2 0zM1529.6 900.3a6.6 6.6 0 1 0 13.2 0a6.6 6.6 0 1 0 -13.2 0zM1534.4 899.3a6.6 6.6 0 1 0 13.2 0a6.6 6.6 0 1 0 -13.2 0zM1539.2 898.4a6.6 6.6 0 1 0 13.2 0a6.6 6.6 0 1 0 -13.2 0zM1544.1 897.6a6.6 6.6 0 1 0 13.2 0a6.6 6.6 0 1 0 -13.2 0zM1548.9 897.3a6.6 6.6 0 1 0 13.2 0a6.6 6.6 0 1 0 -13.2 0zM1553.8 898.1a6.6 6.6 0 1 0 13.2 0a6.6 6.6 0 1 0 -13.2 0zM1558.6 899.5a6.6 6.6 0 1 0 13.2 0a6.6 6.6 0 1 0 -13.2 0zM1563.5 901.3a6.6 6.6 0 1 0 13.2 0a6.6 6.6 0 1 0 -13.2 0zM1568.3 904a6.6 6.6 0 1 0 13.2 0a6.6 6.6 0 1 0 -13.2 0zM1573.2 906.7a6.6 6.6 0 1 0 13.2 0a6.6 6.6 0 1 0 -13.2 0zM1578 909.8a6.6 6.6 0 1 0 13.2 0a6.6 6.6 0 1 0 -13.2 0zM1582.9 912.6a6.6 6.6 0 1 0 13.2 0a6.6 6.6 0 1 0 -13.2 0zM1587.7 915.1a6.6 6.6 0 1 0 13.2 0a6.6 6.6 0 1 0 -13.2 0zM1592.6 917.2a6.6 6.6 0 1 0 13.2 0a6.6 6.6 0 1 0 -13.2 0zM1597.4 918.3a6.6 6.6 0 1 0 13.2 0a6.6 6.6 0 1 0 -13.2 0zM1602.3 919.4a6.6 6.6 0 1 0 13.2 0a6.6 6.6 0 1 0 -13.2 0zM1607.1 920.8a6.6 6.6 0 1 0 13.2 0a6.6 6.6 0 1 0 -13.2 0zM1612 922a6.6 6.6 0 1 0 13.2 0a6.6 6.6 0 1 0 -13.2 0zM1616.8 923.1a6.6 6.6 0 1 0 13.2 0a6.6 6.6 0 1 0 -13.2 0zM1621.7 924a6.6 6.6 0 1 0 13.2 0a6.6 6.6 0 1 0 -13.2 0zM1626.5 924.6a6.6 6.6 0 1 0 13.2 0a6.6 6.6 0 1 0 -13.2 0zM1631.4 924.9a6.6 6.6 0 1 0 13.2 0a6.6 6.6 0 1 0 -13.2 0zM1636.2 925.1a6.6 6.6 0 1 0 13.2 0a6.6 6.6 0 1 0 -13.2 0zM1641.1 925a6.6 6.6 0 1 0 13.2 0a6.6 6.6 0 1 0 -13.2 0zM1645.9 924.6a6.6 6.6 0 1 0 13.2 0a6.6 6.6 0 1 0 -13.2 0zM1650.8 924.1a6.6 6.6 0 1 0 13.2 0a6.6 6.6 0 1 0 -13.2 0zM1655.6 923.4a6.6 6.6 0 1 0 13.2 0a6.6 6.6 0 1 0 -13.2 0zM1660.5 922.7a6.6 6.6 0 1 0 13.2 0a6.6 6.6 0 1 0 -13.2 0zM1665.3 922.1a6.6 6.6 0 1 0 13.2 0a6.6 6.6 0 1 0 -13.2 0zM1670.1 921.7a6.6 6.6 0 1 0 13.2 0a6.6 6.6 0 1 0 -13.2 0zM1675 921.2a6.6 6.6 0 1 0 13.2 0a6.6 6.6 0 1 0 -13.2 0zM1679.8 920.5a6.6 6.6 0 1 0 13.2 0a6.6 6.6 0 1 0 -13.2 0zM1684.7 919.7a6.6 6.6 0 1 0 13.2 0a6.6 6.6 0 1 0 -13.2 0zM1689.5 918.8a6.6 6.6 0 1 0 13.2 0a6.6 6.6 0 1 0 -13.2 0zM1694.4 917.8a6.6 6.6 0 1 0 13.2 0a6.6 6.6 0 1 0 -13.2 0zM1699.2 916.8a6.6 6.6 0 1 0 13.2 0a6.6 6.6 0 1 0 -13.2 0zM1704.1 915.7a6.6 6.6 0 1 0 13.2 0a6.6 6.6 0 1 0 -13.2 0zM1708.9 914.8a6.6 6.6 0 1 0 13.2 0a6.6 6.6 0 1 0 -13.2 0zM1713.8 913.9a6.6 6.6 0 1 0 13.2 0a6.6 6.6 0 1 0 -13.2 0zM1718.6 913.1a6.6 6.6 0 1 0 13.2 0a6.6 6.6 0 1 0 -13.2 0zM1723.5 912.6a6.6 6.6 0 1 0 13.2 0a6.6 6.6 0 1 0 -13.2 0zM1728.3 912.4a6.6 6.6 0 1 0 13.2 0a6.6 6.6 0 1 0 -13.2 0zM1733.2 912.2a6.6 6.6 0 1 0 13.2 0a6.6 6.6 0 1 0 -13.2 0zM1738 912.2a6.6 6.6 0 1 0 13.2 0a6.6 6.6 0 1 0 -13.2 0zM1742.9 912.3a6.6 6.6 0 1 0 13.2 0a6.6 6.6 0 1 0 -13.2 0zM1747.7 912.4a6.6 6.6 0 1 0 13.2 0a6.6 6.6 0 1 0 -13.2 0zM1765.8 913.5a6.6 6.6 0 1 0 13.2 0a6.6 6.6 0 1 0 -13.2 0zM1784.3 910.4a6.6 6.6 0 1 0 13.2 0a6.6 6.6 0 1 0 -13.2 0zM1803 907.9a6.6 6.6 0 1 0 13.2 0a6.6 6.6 0 1 0 -13.2 0zM1822.1 906.7a6.6 6.6 0 1 0 13.2 0a6.6 6.6 0 1 0 -13.2 0zM1841.2 908.7a6.6 6.6 0 1 0 13.2 0a6.6 6.6 0 1 0 -13.2 0zM1861.4 915a6.6 6.6 0 1 0 13.2 0a6.6 6.6 0 1 0 -13.2 0zM1881.4 923.6a6.6 6.6 0 1 0 13.2 0a6.6 6.6 0 1 0 -13.2 0zM1901.8 931.4a6.6 6.6 0 1 0 13.2 0a6.6 6.6 0 1 0 -13.2 0zM1922.4 935.7a6.6 6.6 0 1 0 13.2 0a6.6 6.6 0 1 0 -13.2 0zM1943.3 936.4a6.6 6.6 0 1 0 13.2 0a6.6 6.6 0 1 0 -13.2 0zM1964.8 934.4a6.6 6.6 0 1 0 13.2 0a6.6 6.6 0 1 0 -13.2 0zM1986.9 929.9a6.6 6.6 0 1 0 13.2 0a6.6 6.6 0 1 0 -13.2 0zM2009.1 925.1a6.6 6.6 0 1 0 13.2 0a6.6 6.6 0 1 0 -13.2 0z"/>
<path fill="#0f0" d="M1182.2 1376.8l8.5 14.2h-17zM1187.1 1376.7l8.5 14.2h-17zM1191.9 1376.6l8.5 14.2h-17zM1196.8 1376.4l8.5 14.2h-17zM1201.6 1376.1l8.5 14.2h-17zM1206.5 1375.8l8.5 14.2h-17zM1211.3 1375.4l8.5 14.2h-17zM1216.2 1374.8l8.5 14.2h-17zM1221 1374.2l8.5 14.2h-17zM1225.9 1373.4l8.5 14.2h-17zM1230.7 1372.4l8.5 14.2h-17zM1235.6 1371.2l8.5 14.2h-17zM1240.4 1369.8l8.5 14.2h-17zM1245.3 1367.9l8.5 14.2h-17zM1250.1 1365.3l8.5 14.2h-17zM1255 1361.6l8.5 14.2h-17zM1259.8 1356.2l8.5 14.2h-17zM1264.7 1347.8l8.5 14.2h-17zM1269.5 1332l8.5 14.2h-17zM1274.4 1316.9l8.5 14.2h-17zM1279.2 1297.4l8.5 14.2h-17zM1284.1 1281.5l8.5 14.2h-17zM1288.9 1270l8.5 14.2h-17zM1293.8 1262.7l8.5 14.2h-17zM1298.6 1259.2l8.5 14.2h-17zM1303.5 1258.1l8.5 14.2h-17zM1308.3 1258.4l8.5 14.2h-17zM1313.1 1260.4l8.5 14.2h-17zM1318 1262.1l8.5 14.2h-17zM1322.8 1263.6l8.5 14.2h-17zM1327.7 1263.8l8.5 14.2h-17zM1332.5 1263.2l8.5 14.2h-17zM1337.4 1261.3l8.5 14.2h-17zM1342.2 1255.7l8.5 14.2h-17zM1347.1 1250.8l8.5 14.2h-17zM1351.9 1246.4l8.5 14.2h-17zM1356.8 1242.2l8.5 14.2h-17zM1361.6 1238.4l8.5 14.2h-17zM1366.5 1234.5l8.5 14.2h-17zM1371.3 1230.2l8.5 14.2h-17zM1376.2 1225.5l8.5 14.2h-17zM1381 1220.1l8.5 14.2h-17zM1385.9 1213.6l8.5 14.2h-17zM1390.7 1205.9l8.5 14.2h-17zM1395.6 1196.3l8.5 14.2h-17zM1400.4 1185.9l8.5 14.2h-17zM1405.3 1174.7l8.5 14.2h-17zM1410.1 1164.2l8.5 14.2h-17zM1415 1154.4l8.5 14.2h-17zM1419.8 1145.4l8.5 14.2h-17zM1424.7 1136.9l8.5 14.2h-17zM1429.5 1129.2l8.5 14.2h-17zM1434.3 1122.3l8.5 14.2h-17zM1439.2 1117.7l8.5 14.2h-17zM1444 1115.3l8.5 14.2h-17zM1448.9 1114.4l8.5 14.2h-17zM1453.7 1114.5l8.5 14.2h-17zM1458.6 1116.9l8.5 14.2h-17zM1463.4 1120.1l8.5 14.2h-17zM1468.3 1124.3l8.5 14.2h-17zM1473.1 1128.3l8.5 14.2h-17zM1478 1131.9l8.5 14.2h-17zM1482.8 1135l8.5 14.2h-17zM1487.7 1137.4l8.5 14.2h-17zM1492.5 1139.3l8.5 14.2h-17zM1497.4 1140.6l8.5 14.2h-17zM1502.2 1141.6l8.5 14.2h-17zM1507.1 1142l8.5 14.2h-17zM1511.9 1141.6l8.5 14.2h-17zM1516.8 1140.6l8.5 14.2h-17zM1521.6 1139l8.5 14.2h-17zM1526.5 1135.4l8.5 14.2h-17zM1531.3 1131.4l8.5 14.2h-17zM1536.2 1127.1l8.5 14.2h-17zM1541 1122.6l8.5 14.2h-17zM1545.8 1118.2l8.5 14.2h-17zM1550.7 1113.9l8.5 14.2h-17zM1555.5 1111.3l8.5 14.2h-17zM1560.4 1109.9l8.5 14.2h-17zM1565.2 1109.6l8.5 14.2h-17zM1570.1 1110.7l8.5 14.2h-17zM1574.9 1112.8l8.5 14.2h-17zM1579.8 1116.7l8.5 14.2h-17zM1584.6 1120.9l8.5 14.2h-17zM1589.5 1125.3l8.5 14.2h-17zM1594.3 1129.2l8.5 14.2h-17zM1599.2 1132.8l8.5 14.2h-17zM1604 1136.1l8.5 14.2h-17zM1608.9 1139.3l8.5 14.2h-17zM1613.7 1142.2l8.5 14.2h-17zM1618.6 1144.8l8.5 14.2h-17zM1623.4 1147.2l8.5 14.2h-17zM1628.3 1149.3l8.5 14.2h-17zM1633.1 1150.8l8.5 14.2h-17zM1638 1152l8.5 14.2h-17zM1642.8 1153l8.5 14.2h-17zM1647.7 1153.7l8.5 14.2h-17zM1652.5 1154.2l8.5 14.2h-17zM1657.4 1154.3l8.5 14.2h-17zM1662.2 1154.3l8.5 14.2h-17zM1667 1154.3l8.5 14.2h-17zM1671.9 1154.1l8.5 14.2h-17zM1676.7 1153.6l8.5 14.2h-17zM1681.6 1152.9l8.5 14.2h-17zM1686.4 1152l8.5 14.2h-17zM1691.3 1151l8.5 14.2h-17zM1696.1 1149.9l8.5 14.2h-17zM1701 1148.8l8.5 14.2h-17zM1705.8 1147.6l8.5 14.2h-17zM1710.7 1146.1l8.5 14.2h-17zM1715.5 1144.4l8.5 14.2h-17zM1720.4 1142.9l8.5 14.2h-17zM1725.2 1141.6l8.5 14.2h-17zM1730.1 1140.2l8.5 14.2h-17zM1734.9 1138.8l8.5 14.2h-17zM1739.8 1137.3l8.5 14.2h-17zM1744.6 1135.9l8.5 14.2h-17zM1749.5 1134.5l8.5 14.2h-17zM1754.3 1133.1l8.5 14.2h-17zM1772.4 1125.8l8.5 14.2h-17zM1790.9 1120l8.5 14.2h-17zM1809.6 1114.5l8.5 14.2h-17zM1828.7 1110.7l8.5 14.2h-17zM1847.8 1111.2l8.5 14.2h-17zM1868 1116.2l8.5 14.2h-17zM1888 1124.5l8.5 14.2h-17zM1908.4 1132.1l8.5 14.2h-17zM1929 1137.2l8.5 14.2h-17zM1949.9 1140.2l8.5 14.2h-17zM1971.4 1141.4l8.5 14.2h-17zM1993.5 1140.2l8.5 14.2h-17zM2015.7 1138.4l8.5 14.2h-17z"/>
<path fill="#00f" d="M1173.8 1383.3h17l-8.5 14.2zM1178.6 1383.3h17l-8.5 14.2zM1183.4 1383.2h17l-8.5 14.2zM1188.3 1383.1h17l-8.5 14.2zM1193.1 1383h17l-8.5 14.2zM1198 1382.9h17l-8.5 14.2zM1202.8 1382.7h17l-8.5 14.2zM1207.7 1382.5h17l-8.5 14.2zM1212.5 1382.3h17l-8.5 14.2zM1217.4 1382.1h17l-8.5 14.2zM1222.2 1381.8h17l-8.5 14.2zM1227.1 1381.5h17l-8.5 14.2zM1231.9 1381.2h17l-8.5 14.2zM1236.8 1380.8h17l-8.5 14.2zM1241.6 1380.1h17l-8.5 14.2zM1246.5 1379.2h17l-8.5 14.2zM1251.3 1378.1h17l-8.5 14.2zM1256.2 1376.8h17l-8.5 14.2zM1261 1375h17l-8.5 14.2zM1265.9 1372.4h17l-8.5 14.2zM1270.7 1368.8h17l-8.5 14.2zM1275.6 1363.6h17l-8.5 14.2zM1280.4 1357.3h17l-8.5 14.2zM1285.3 1348.8h17l-8.5 14.2zM1290.1 1336h17l-8.5 14.2zM1295 1320h17l-8.5 14.2zM1299.8 1298.5h17l-8.5 14.2zM1304.6 1275.7h17l-8.5 14.2zM1309.5 1255.5h17l-8.5 14.2zM1314.3 1247h17l-8.5 14.2zM1319.2 1243h17l-8.5 14.2zM1324 1250.4h17l-8.5 14.2zM1328.9 1260.4h17l-8.5 14.2zM1333.7 1266.6h17l-8.5 14.2zM1338.6 1269.1h17l-8.5 14.2zM1343.4 1268.6h17l-8.5 14.2zM1348.3 1265.3h17l-8.5 14.2zM1353.1 1261.5h17l-8.5 14.2zM1358 1256.8h17l-8.5 14.2zM1362.8 1252h17l-8.5 14.2zM1367.7 1247.2h17l-8.5 14.2zM1372.5 1242.2h17l-8.5 14.2zM1377.4 1237.1h17l-8.5 14.2zM1382.2 1231.8h17l-8.5 14.2zM1387.1 1226.2h17l-8.5 14.2zM1391.9 1220.2h17l-8.5 14.2zM1396.8 1214h17l-8.5 14.2zM1401.6 1207.4h17l-8.5 14.2zM1406.5 1200.6h17l-8.5 14.2zM1411.3 1193.6h17l-8.5 14.2zM1416.2 1186.2h17l-8.5 14.2zM1421 1178.5h17l-8.5 14.2zM1425.8 1170.2h17l-8.5 14.2zM1430.7 1161.5h17l-8.5 14.2zM1435.5 1152.6h17l-8.5 14.2zM1440.4 1143.4h17l-8.5 14.2zM1445.2 1135.6h17l-8.5 14.2zM1450.1 1128.7h17l-8.5 14.2zM1454.9 1123.9h17l-8.5 14.2zM1459.8 1120.2h17l-8.5 14.2zM1464.6 1118.1h17l-8.5 14.2zM1469.5 1117.2h17l-8.5 14.2zM1474.3 1116.5h17l-8.5 14.2zM1479.2 1116.4h17l-8.5 14.2zM1484 1116.7h17l-8.5 14.2zM1488.9 1117.1h17l-8.5 14.2zM1493.7 1118.1h17l-8.5 14.2zM1498.6 1120.2h17l-8.5 14.2zM1503.4 1123.1h17l-8.5 14.2zM1508.3 1127.3h17l-8.5 14.2zM1513.1 1132.2h17l-8.5 14.2zM1518 1136.7h17l-8.5 14.2zM1522.8 1141.3h17l-8.5 14.2zM1527.7 1145.8h17l-8.5 14.2zM1532.5 1150.4h17l-8.5 14.2zM1537.3 1154.6h17l-8.5 14.2zM1542.2 1158h17l-8.5 14.2zM1547 1160.9h17l-8.5 14.2zM1551.9 1163.2h17l-8.5 14.2zM1556.7 1164.9h17l-8.5 14.2zM1561.6 1166.4h17l-8.5 14.2zM1566.4 1167.3h17l-8.5 14.2zM1571.3 1167.3h17l-8.5 14.2zM1576.1 1166.7h17l-8.5 14.2zM1581 1165.9h17l-8.5 14.2zM1585.8 1165.1h17l-8.5 14.2zM1590.7 1163.9h17l-8.5 14.2zM1595.5 1162.3h17l-8.5 14.2zM1600.4 1160.5h17l-8.5 14.2zM1605.2 1158.4h17l-8.5 14.2zM1610.1 1156.5h17l-8.5 14.2zM1614.9 1154.8h17l-8.5 14.2zM1619.8 1153.2h17l-8.5 14.2zM1624.6 1151.7h17l-8.5 14.2zM1629.5 1150.4h17l-8.5 14.2zM1634.3 1149.3h17l-8.5 14.2zM1639.2 1148.2h17l-8.5 14.2zM1644 1147.2h17l-8.5 14.2zM1648.9 1146.5h17l-8.5 14.2zM1653.7 1145.9h17l-8.5 14.2zM1658.5 1145.5h17l-8.5 14.2zM1663.4 1145.5h17l-8.5 14.2zM1668.2 1145.5h17l-8.5 14.2zM1673.1 1145.5h17l-8.5 14.2zM1677.9 1145.6h17l-8.5 14.2zM1682.8 1145.9h17l-8.5 14.2zM1687.6 1146.1h17l-8.5 14.2zM1692.5 1146.4h17l-8.5 14.2zM1697.3 1146.7h17l-8.5 14.2zM1702.2 1147.1h17l-8.5 14.2zM1707 1147.6h17l-8.5 14.2zM1711.9 1148.2h17l-8.5 14.2zM1716.7 1149h17l-8.5 14.2zM1721.6 1149.9h17l-8.5 14.2zM1726.4 1151.1h17l-8.5 14.2zM1731.3 1152.6h17l-8.5 14.2zM1736.1 1154.1h17l-8.5 14.2zM1741 1155.7h17l-8.5 14.2zM1745.8 1157.2h17l-8.5 14.2zM1763.9 1164.1h17l-8.5 14.2zM1782.4 1168.4h17l-8.5 14.2zM1801.1 1172.2h17l-8.5 14.2zM1820.2 1174.2h17l-8.5 14.2zM1839.3 1175.5h17l-8.5 14.2zM1859.5 1176.5h17l-8.5 14.2zM1879.5 1176.7h17l-8.5 14.2zM1899.9 1176.5h17l-8.5 14.2zM1920.5 1175.5h17l-8.5 14.2zM1941.4 1173.4h17l-8.5 14.2zM1962.9 1170.4h17l-8.5 14.2zM1985 1167.1h17l-8.5 14.2zM2007.2 1163.9h17l-8.5 14.2z"/>
<path fill="#000" d="M1176.3 2074.8h11.9v11.9h-11.9zM1181.1 2074.4h11.9v11.9h-11.9zM1186 2074h11.9v11.9h-11.9zM1190.8 2073.5h11.9v11.9h-11.9zM1195.7 2073h11.9v11.9h-11.9zM1200.5 2072.5h11.9v11.9h-11.9zM1205.4 2071.9h11.9v11.9h-11.9zM1210.2 2071.3h11.9v11.9h-11.9zM1215.1 2070.6h11.9v11.9h-11.9zM1219.9 2069.7h11.9v11.9h-11.9zM1224.8 2068.6h11.9v11.9h-11.9zM1229.6 2067.3h11.9v11.9h-11.9zM1234.5 2065.8h11.9v11.9h-11.9zM1239.3 2063.9h11.9v11.9h-11.9zM1244.2 2061.5h11.9v11.9h-11.9zM1249 2058.1h11.9v11.9h-11.9zM1253.9 2054.1h11.9v11.9h-11.9zM1258.7 2049.2h11.9v11.9h-11.9zM1263.6 2040.3h11.9v11.9h-11.9zM1268.4 2029.3h11.9v11.9h-11.9zM1273.3 2017.7h11.9v11.9h-11.9zM1278.1 2005.9h11.9v11.9h-11.9zM1283 1993.9h11.9v11.9h-11.9zM1287.8 1985.7h11.9v11.9h-11.9zM1292.7 1975.4h11.9v11.9h-11.9zM1297.5 1955.7h11.9v11.9h-11.9zM1302.3 1941.3h11.9v11.9h-11.9zM1307.2 1930.2h11.9v11.9h-11.9zM1312 1920.2h11.9v11.9h-11.9zM1316.9 1913.6h11.9v11.9h-11.9zM1321.7 1908.6h11.9v11.9h-11.9zM1326.6 1903.8h11.9v11.9h-11.9zM1331.4 1898.5h11.9v11.9h-11.9zM1336.3 1891.3h11.9v11.9h-11.9zM1341.1 1882h11.9v11.9h-11.9zM1346 1872.1h11.9v11.9h-11.9zM1350.8 1861.5h11.9v11.9h-11.9zM1355.7 1849.7h11.9v11.9h-11.9zM1360.5 1834.1h11.9v11.9h-11.9zM1365.4 1817.3h11.9v11.9h-11.9zM1370.2 1804.3h11.9v11.9h-11.9zM1375.1 1792.2h11.9v11.9h-11.9zM1379.9 1779.7h11.9v11.9h-11.9zM1384.8 1773.5h11.9v11.9h-11.9zM1389.6 1772.7h11.9v11.9h-11.9zM1394.5 1756.3h11.9v11.9h-11.9zM1399.3 1740.5h11.9v11.9h-11.9zM1404.2 1723.6h11.9v11.9h-11.9zM1409 1704.8h11.9v11.9h-11.9zM1413.9 1686.9h11.9v11.9h-11.9zM1418.7 1669.5h11.9v11.9h-11.9zM1423.5 1649.7h11.9v11.9h-11.9zM1428.4 1629.8h11.9v11.9h-11.9zM1433.2 1608.4h11.9v11.9h-11.9zM1438.1 1590.4h11.9v11.9h-11.9zM1442.9 1575.3h11.9v11.9h-11.9zM1447.8 1561.5h11.9v11.9h-11.9zM1452.6 1553.6h11.9v11.9h-11.9zM1457.5 1547.7h11.9v11.9h-11.9zM1462.3 1542h11.9v11.9h-11.9zM1467.2 1538.1h11.9v11.9h-11.9zM1472 1534.3h11.9v11.9h-11.9zM1476.9 1530.4h11.9v11.9h-11.9zM1481.7 1526.4h11.9v11.9h-11.9zM1486.6 1523.6h11.9v11.9h-11.9zM1491.4 1524.4h11.9v11.9h-11.9zM1496.3 1524.5h11.9v11.9h-11.9zM1501.1 1525.3h11.9v11.9h-11.9zM1506 1525.7h11.9v11.9h-11.9zM1510.8 1529.9h11.9v11.9h-11.9zM1515.7 1533.7h11.9v11.9h-11.9zM1520.5 1536.7h11.9v11.9h-11.9zM1525.4 1539.4h11.9v11.9h-11.9zM1530.2 1542h11.9v11.9h-11.9zM1535.1 1544.4h11.9v11.9h-11.9zM1539.9 1546.8h11.9v11.9h-11.9zM1544.7 1551.8h11.9v11.9h-11.9zM1549.6 1555.1h11.9v11.9h-11.9zM1554.4 1559.2h11.9v11.9h-11.9zM1559.3 1564.4h11.9v11.9h-11.9zM1564.1 1570.2h11.9v11.9h-11.9zM1569 1576.3h11.9v11.9h-11.9zM1573.8 1582.7h11.9v11.9h-11.9zM1578.7 1588.5h11.9v11.9h-11.9zM1583.5 1593.7h11.9v11.9h-11.9zM1588.4 1598.5h11.9v11.9h-11.9zM1593.2 1602.7h11.9v11.9h-11.9zM1598.1 1606.3h11.9v11.9h-11.9zM1602.9 1609.5h11.9v11.9h-11.9zM1607.8 1612h11.9v11.9h-11.9zM1612.6 1614h11.9v11.9h-11.9zM1617.5 1615.5h11.9v11.9h-11.9zM1622.3 1616.7h11.9v11.9h-11.9zM1627.2 1617.7h11.9v11.9h-11.9zM1632 1618.2h11.9v11.9h-11.9zM1636.9 1618.2h11.9v11.9h-11.9zM1641.7 1617.8h11.9v11.9h-11.9zM1646.6 1617.4h11.9v11.9h-11.9zM1651.4 1617h11.9v11.9h-11.9zM1656.3 1616.5h11.9v11.9h-11.9zM1661.1 1616h11.9v11.9h-11.9zM1665.9 1615.4h11.9v11.9h-11.9zM1670.8 1615h11.9v11.9h-11.9zM1675.6 1614.7h11.9v11.9h-11.9zM1680.5 1614.5h11.9v11.9h-11.9zM1685.3 1614.5h11.9v11.9h-11.9zM1690.2 1614.9h11.9v11.9h-11.9zM1695 1615.4h11.9v11.9h-11.9zM1699.9 1615.8h11.9v11.9h-11.9zM1704.7 1616.1h11.9v11.9h-11.9zM1709.6 1616.4h11.9v11.9h-11.9zM1714.4 1616.9h11.9v11.9h-11.9zM1719.3 1617.4h11.9v11.9h-11.9zM1724.1 1618h11.9v11.9h-11.9zM1729 1618.6h11.9v11.9h-11.9zM1733.8 1619.2h11.9v11.9h-11.9zM1738.7 1619.6h11.9v11.9h-11.9zM1743.5 1620h11.9v11.9h-11.9zM1748.4 1620.6h11.9v11.9h-11.9zM1766.5 1625.3h11.9v11.9h-11.9zM1785 1628h11.9v11.9h-11.9zM1803.6 1630.6h11.9v11.9h-11.9zM1822.8 1632h11.9v11.9h-11.9zM1841.8 1632.8h11.9v11.9h-11.9zM1862 1633.8h11.9v11.9h-11.9zM1882 1633.8h11.9v11.9h-11.9zM1902.5 1632.8h11.9v11.9h-11.9zM1923 1630.6h11.9v11.9h-11.9zM1944 1626.6h11.9v11.9h-11.9zM1965.5 1620.8h11.9v11.9h-11.9zM1987.5 1614.3h11.9v11.9h-11.9zM2009.8 1607.8h11.9v11.9h-11.9z"/>
<path fill="#f00" d="M1175.7 2080.9a6.6 6.6 0 1 0 13.2 0a6.6 6.6 0 1 0 -13.2 0zM1180.5 2080.6a6.6 6.6 0 1 0 13.2 0a6.6 6.6 0 1 0 -13.2 0zM1185.3 2080.2a6.6 6.6 0 1 0 13.2 0a6.6 6.6 0 1 0 -13.2 0zM1190.2 2079.7a6.6 6.6 0 1 0 13.2 0a6.6 6.6 0 1 0 -13.2 0zM1195 2079.2a6.6 6.6 0 1 0 13.2 0a6.6 6.6 0 1 0 -13.2 0zM1199.9 2078.7a6.6 6.6 0 1 0 13.2 0a6.6 6.6 0 1 0 -13.2 0zM1204.7 2078.2a6.6 6.6 0 1 0 13.2 0a6.6 6.6 0 1 0 -13.2 0zM1209.6 2077.6a6.6 6.6 0 1 0 13.2 0a6.6 6.6 0 1 0 -13.2 0zM1214.4 2076.9a6.6 6.6 0 1 0 13.2 0a6.6 6.6 0 1 0 -13.2 0zM1219.3 2076.1a6.6 6.6 0 1 0 13.2 0a6.6 6.6 0 1 0 -13.2 0zM1224.1 2075a6.6 6.6 0 1 0 13.2 0a6.6 6.6 0 1 0 -13.2 0zM1229 2073.7a6.6 6.6 0 1 0 13.2 0a6.6 6.6 0 1 0 -13.2 0zM1233.8 2072.3a6.6 6.6 0 1 0 13.2 0a6.6 6.6 0 1 0 -13.2 0zM1238.7 2070.5a6.6 6.6 0 1 0 13.2 0a6.6 6.6 0 1 0 -13.2 0zM1243.5 2068.2a6.6 6.6 0 1 0 13.2 0a6.6 6.6 0 1 0 -13.2 0zM1248.4 2064.9a6.6 6.6 0 1 0 13.2 0a6.6 6.6 0 1 0 -13.2 0zM1253.2 2061.1a6.6 6.6 0 1 0 13.2 0a6.6 6.6 0 1 0 -13.2 0zM1258.1 2056.3a6.6 6.6 0 1 0 13.2 0a6.6 6.6 0 1 0 -13.2 0zM1262.9 2047.1a6.6 6.6 0 1 0 13.2 0a6.6 6.6 0 1 0 -13.2 0zM1267.8 2034.9a6.6 6.6 0 1 0 13.2 0a6.6 6.6 0 1 0 -13.2 0zM1272.6 2021.4a6.6 6.6 0 1 0 13.2 0a6.6 6.6 0 1 0 -13.2 0zM1277.5 2006.9a6.6 6.6 0 1 0 13.2 0a6.6 6.6 0 1 0 -13.2 0zM1282.3 1992.5a6.6 6.6 0 1 0 13.2 0a6.6 6.6 0 1 0 -13.2 0zM1287.2 1979.2a6.6 6.6 0 1 0 13.2 0a6.6 6.6 0 1 0 -13.2 0zM1292 1966a6.6 6.6 0 1 0 13.2 0a6.6 6.6 0 1 0 -13.2 0zM1296.9 1950.6a6.6 6.6 0 1 0 13.2 0a6.6 6.6 0 1 0 -13.2 0zM1301.7 1937.8a6.6 6.6 0 1 0 13.2 0a6.6 6.6 0 1 0 -13.2 0zM1306.5 1923.2a6.6 6.6 0 1 0 13.2 0a6.6 6.6 0 1 0 -13.2 0zM1311.4 1911.6a6.6 6.6 0 1 0 13.2 0a6.6 6.6 0 1 0 -13.2 0zM1316.2 1906.2a6.6 6.6 0 1 0 13.2 0a6.6 6.6 0 1 0 -13.2 0zM1321.1 1902.6a6.6 6.6 0 1 0 13.2 0a6.6 6.6 0 1 0 -13.2 0zM1325.9 1899.5a6.6 6.6 0 1 0 13.2 0a6.6 6.6 0 1 0 -13.2 0zM1330.8 1895.5a6.6 6.6 0 1 0 13.2 0a6.6 6.6 0 1 0 -13.2 0zM1335.6 1887a6.6 6.6 0 1 0 13.2 0a6.6 6.6 0 1 0 -13.2 0zM1340.5 1876a6.6 6.6 0 1 0 13.2 0a6.6 6.6 0 1 0 -13.2 0zM1345.3 1862.6a6.6 6.6 0 1 0 13.2 0a6.6 6.6 0 1 0 -13.2 0zM1350.2 1850.6a6.6 6.6 0 1 0 13.2 0a6.6 6.6 0 1 0 -13.2 0zM1355 1841.3a6.6 6.6 0 1 0 13.2 0a6.6 6.6 0 1 0 -13.2 0zM1359.9 1834.7a6.6 6.6 0 1 0 13.2 0a6.6 6.6 0 1 0 -13.2 0zM1364.7 1827.8a6.6 6.6 0 1 0 13.2 0a6.6 6.6 0 1 0 -13.2 0zM1369.6 1821.9a6.6 6.6 0 1 0 13.2 0a6.6 6.6 0 1 0 -13.2 0zM1374.4 1815.5a6.6 6.6 0 1 0 13.2 0a6.6 6.6 0 1 0 -13.2 0zM1379.3 1806.9a6.6 6.6 0 1 0 13.2 0a6.6 6.6 0 1 0 -13.2 0zM1384.1 1797.3a6.6 6.6 0 1 0 13.2 0a6.6 6.6 0 1 0 -13.2 0zM1389 1784.9a6.6 6.6 0 1 0 13.2 0a6.6 6.6 0 1 0 -13.2 0zM1393.8 1768.4a6.6 6.6 0 1 0 13.2 0a6.6 6.6 0 1 0 -13.2 0zM1398.7 1751.6a6.6 6.6 0 1 0 13.2 0a6.6 6.6 0 1 0 -13.2 0zM1403.5 1733.4a6.6 6.6 0 1 0 13.2 0a6.6 6.6 0 1 0 -13.2 0zM1408.4 1713.3a6.6 6.6 0 1 0 13.2 0a6.6 6.6 0 1 0 -13.2 0zM1413.2 1694.2a6.6 6.6 0 1 0 13.2 0a6.6 6.6 0 1 0 -13.2 0zM1418.1 1675.4a6.6 6.6 0 1 0 13.2 0a6.6 6.6 0 1 0 -13.2 0zM1422.9 1653a6.6 6.6 0 1 0 13.2 0a6.6 6.6 0 1 0 -13.2 0zM1427.7 1630.8a6.6 6.6 0 1 0 13.2 0a6.6 6.6 0 1 0 -13.2 0zM1432.6 1608.2a6.6 6.6 0 1 0 13.2 0a6.6 6.6 0 1 0 -13.2 0zM1437.4 1590.9a6.6 6.6 0 1 0 13.2 0a6.6 6.6 0 1 0 -13.2 0zM1442.3 1577.7a6.6 6.6 0 1 0 13.2 0a6.6 6.6 0 1 0 -13.2 0zM1447.1 1566.7a6.6 6.6 0 1 0 13.2 0a6.6 6.6 0 1 0 -13.2 0zM1452 1559.5a6.6 6.6 0 1 0 13.2 0a6.6 6.6 0 1 0 -13.2 0zM1456.8 1554.5a6.6 6.6 0 1 0 13.2 0a6.6 6.6 0 1 0 -13.2 0zM1461.7 1550.5a6.6 6.6 0 1 0 13.2 0a6.6 6.6 0 1 0 -13.2 0zM1466.5 1546.5a6.6 6.6 0 1 0 13.2 0a6.6 6.6 0 1 0 -13.2 0zM1471.4 1542.7a6.6 6.6 0 1 0 13.2 0a6.6 6.6 0 1 0 -13.2 0zM1476.2 1538.9a6.6 6.6 0 1 0 13.2 0a6.6 6.6 0 1 0 -13.2 0zM1481.1 1534.8a6.6 6.6 0 1 0 13.2 0a6.6 6.6 0 1 0 -13.2 0zM1485.9 1532.3a6.6 6.6 0 1 0 13.2 0a6.6 6.6 0 1 0 -13.2 0zM1490.8 1530.6a6.6 6.6 0 1 0 13.2 0a6.6 6.6 0 1 0 -13.2 0zM1495.6 1530.5a6.6 6.6 0 1 0 13.2 0a6.6 6.6 0 1 0 -13.2 0zM1500.5 1531.7a6.6 6.6 0 1 0 13.2 0a6.6 6.6 0 1 0 -13.2 0zM1505.3 1533.9a6.6 6.6 0 1 0 13.2 0a6.6 6.6 0 1 0 -13.2 0zM1510.2 1537.8a6.6 6.6 0 1 0 13.2 0a6.6 6.6 0 1 0 -13.2 0zM1515 1541.7a6.6 6.6 0 1 0 13.2 0a6.6 6.6 0 1 0 -13.2 0zM1519.9 1544.7a6.6 6.6 0 1 0 13.2 0a6.6 6.6 0 1 0 -13.2 0zM1524.7 1547.4a6.6 6.6 0 1 0 13.2 0a6.6 6.6 0 1 0 -13.2 0zM1529.6 1550a6.6 6.6 0 1 0 13.2 0a6.6 6.6 0 1 0 -13.2 0zM1534.4 1552.3a6.6 6.6 0 1 0 13.2 0a6.6 6.6 0 1 0 -13.2 0zM1539.2 1554.7a6.6 6.6 0 1 0 13.2 0a6.6 6.6 0 1 0 -13.2 0zM1544.1 1557.6a6.6 6.6 0 1 0 13.2 0a6.6 6.6 0 1 0 -13.2 0zM1548.9 1561a6.6 6.6 0 1 0 13.2 0a6.6 6.6 0 1 0 -13.2 0zM1553.8 1565.1a6.6 6.6 0 1 0 13.2 0a6.6 6.6 0 1 0 -13.2 0zM1558.6 1570.3a6.6 6.6 0 1 0 13.2 0a6.6 6.6 0 1 0 -13.2 0zM1563.5 1576.1a6.6 6.6 0 1 0 13.2 0a6.6 6.6 0 1 0 -13.2 0zM1568.3 1582.3a6.6 6.6 0 1 0 13.2 0a6.6 6.6 0 1 0 -13.2 0zM1573.2 1588.7a6.6 6.6 0 1 0 13.2 0a6.6 6.6 0 1 0 -13.2 0zM1578 1594.4a6.6 6.6 0 1 0 13.2 0a6.6 6.6 0 1 0 -13.2 0zM1582.9 1599.6a6.6 6.6 0 1 0 13.2 0a6.6 6.6 0 1 0 -13.2 0zM1587.7 1604.4a6.6 6.6 0 1 0 13.2 0a6.6 6.6 0 1 0 -13.2 0zM1592.6 1608.6a6.6 6.6 0 1 0 13.2 0a6.6 6.6 0 1 0 -13.2 0zM1597.4 1612.3a6.6 6.6 0 1 0 13.2 0a6.6 6.6 0 1 0 -13.2 0zM1602.3 1615.4a6.6 6.6 0 1 0 13.2 0a6.6 6.6 0 1 0 -13.2 0zM1607.1 1617.9a6.6 6.6 0 1 0 13.2 0a6.6 6.6 0 1 0 -13.2 0zM1612 1619.9a6.6 6.6 0 1 0 13.2 0a6.6 6.6 0 1 0 -13.2 0zM1616.8 1621.5a6.6 6.6 0 1 0 13.2 0a6.6 6.6 0 1 0 -13.2 0zM1621.7 1622.7a6.6 6.6 0 1 0 13.2 0a6.6 6.6 0 1 0 -13.2 0zM1626.5 1623.6a6.6 6.6 0 1 0 13.2 0a6.6 6.6 0 1 0 -13.2 0zM1631.4 1624.2a6.6 6.6 0 1 0 13.2 0a6.6 6.6 0 1 0 -13.2 0zM1636.2 1624.1a6.6 6.6 0 1 0 13.2 0a6.6 6.6 0 1 0 -13.2 0zM1641.1 1623.8a6.6 6.6 0 1 0 13.2 0a6.6 6.6 0 1 0 -13.2 0zM1645.9 1623.4a6.6 6.6 0 1 0 13.2 0a6.6 6.6 0 1 0 -13.2 0zM1650.8 1622.9a6.6 6.6 0 1 0 13.2 0a6.6 6.6 0 1 0 -13.2 0zM1655.6 1622.4a6.6 6.6 0 1 0 13.2 0a6.6 6.6 0 1 0 -13.2 0zM1660.5 1621.9a6.6 6.6 0 1 0 13.2 0a6.6 6.6 0 1 0 -13.2 0zM1665.3 1621.4a6.6 6.6 0 1 0 13.2 0a6.6 6.6 0 1 0 -13.2 0zM1670.1 1620.9a6.6 6.6 0 1 0 13.2 0a6.6 6.6 0 1 0 -13.2 0zM1675 1620.6a6.6 6.6 0 1 0 13.2 0a6.6 6.6 0 1 0 -13.2 0zM1679.8 1620.5a6.6 6.6 0 1 0 13.2 0a6.6 6.6 0 1 0 -13.2 0zM1684.7 1620.3a6.6 6.6 0 1 0 13.2 0a6.6 6.6 0 1 0 -13.2 0zM1689.5 1620.2a6.6 6.6 0 1 0 13.2 0a6.6 6.6 0 1 0 -13.2 0zM1694.4 1620.1a6.6 6.6 0 1 0 13.2 0a6.6 6.6 0 1 0 -13.2 0zM1699.2 1620a6.6 6.6 0 1 0 13.2 0a6.6 6.6 0 1 0 -13.2 0zM1704.1 1619.7a6.6 6.6 0 1 0 13.2 0a6.6 6.6 0 1 0 -13.2 0zM1708.9 1619.5a6.6 6.6 0 1 0 13.2 0a6.6 6.6 0 1 0 -13.2 0zM1713.8 1619.5a6.6 6.6 0 1 0 13.2 0a6.6 6.6 0 1 0 -13.2 0zM1718.6 1619.5a6.6 6.6 0 1 0 13.2 0a6.6 6.6 0 1 0 -13.2 0zM1723.5 1619.5a6.6 6.6 0 1 0 13.2 0a6.6 6.6 0 1 0 -13.2 0zM1728.3 1619.6a6.6 6.6 0 1 0 13.2 0a6.6 6.6 0 1 0 -13.2 0zM1733.2 1619.8a6.6 6.6 0 1 0 13.2 0a6.6 6.6 0 1 0 -13.2 0zM1738 1620a6.6 6.6 0 1 0 13.2 0a6.6 6.6 0 1 0 -13.2 0zM1742.9 1620.5a6.6 6.6 0 1 0 13.2 0a6.6 6.6 0 1 0 -13.2 0zM1747.7 1621.1a6.6 6.6 0 1 0 13.2 0a6.6 6.6 0 1 0 -13.2 0zM1765.8 1624.2a6.6 6.6 0 1 0 13.2 0a6.6 6.6 0 1 0 -13.2 0zM1784.3 1627.4a6.6 6.6 0 1 0 13.2 0a6.6 6.6 0 1 0 -13.2 0zM1803 1630a6.6 6.6 0 1 0 13.2 0a6.6 6.6 0 1 0 -13.2 0zM1822.1 1632.1a6.6 6.6 0 1 0 13.2 0a6.6 6.6 0 1 0 -13.2 0zM1841.2 1635.8a6.6 6.6 0 1 0 13.2 0a6.6 6.6 0 1 0 -13.2 0zM1861.4 1640.5a6.6 6.6 0 1 0 13.2 0a6.6 6.6 0 1 0 -13.2 0zM1881.4 1645.3a6.6 6.6 0 1 0 13.2 0a6.6 6.6 0 1 0 -13.2 0zM1901.8 1647.1a6.6 6.6 0 1 0 13.2 0a6.6 6.6 0 1 0 -13.2 0zM1922.4 1646.6a6.6 6.6 0 1 0 13.2 0a6.6 6.6 0 1 0 -13.2 0zM1943.3 1643.2a6.6 6.6 0 1 0 13.2 0a6.6 6.6 0 1 0 -13.2 0zM1964.8 1637.9a6.6 6.6 0 1 0 13.2 0a6.6 6.6 0 1 0 -13.2 0zM1986.9 1630a6.6 6.6 0 1 0 13.2 0a6.6 6.6 0 1 0 -13.2 0zM2009.1 1626.1a6.6 6.6 0 1 0 13.2 0a6.6 6.6 0 1 0 -13.2 0z"/>
<path fill="#808000" d="M1182.2 2078.4l8.5 14.2h-17zM1187.1 2078.4l8.5 14.2h-17zM1191.9 2078.3l8.5 14.2h-17zM1196.8 2078.3l8.5 14.2h-17zM1201.6 2078.2l8.5 14.2h-17zM1206.5 2078.1l8.5 14.2h-17zM1211.3 2078l8.5 14.2h-17zM1216.2 2077.8l8.5 14.2h-17zM1221 2077.7l8.5 14.2h-17zM1225.9 2077.5l8.5 14.2h-17zM1230.7 2077.4l8.5 14.2h-17zM1235.6 2077.2l8.5 14.2h-17zM1240.4 2076.9l8.5 14.2h-17zM1245.3 2076.6l8.5 14.2h-17zM1250.1 2076.3l8.5 14.2h-17zM1255 2075.9l8.5 14.2h-17zM1259.8 2075.6l8.5 14.2h-17zM1264.7 2075.2l8.5 14.2h-17zM1269.5 2074.8l8.5 14.2h-17zM1274.4 2074.4l8.5 14.2h-17zM1279.2 2073.9l8.5 14.2h-17zM1284.1 2073.3l8.5 14.2h-17zM1288.9 2072.6l8.5 14.2h-17zM1293.8 2071.8l8.5 14.2h-17zM1298.6 2070.8l8.5 14.2h-17zM1303.5 2069.5l8.5 14.2h-17zM1308.3 2067.8l8.5 14.2h-17zM1313.1 2065.6l8.5 14.2h-17zM1318 2063l8.5 14.2h-17zM1322.8 2059.5l8.5 14.2h-17zM1327.7 2054.7l8.5 14.2h-17zM1332.5 2047.8l8.5 14.2h-17zM1337.4 2038.3l8.5 14.2h-17zM1342.2 2027.6l8.5 14.2h-17zM1347.1 2015.5l8.5 14.2h-17zM1351.9 2006.6l8.5 14.2h-17zM1356.8 2001.1l8.5 14.2h-17zM1361.6 1997.5l8.5 14.2h-17zM1366.5 1996.3l8.5 14.2h-17zM1371.3 1995.8l8.5 14.2h-17zM1376.2 1995.5l8.5 14.2h-17zM1381 1995.2l8.5 14.2h-17zM1385.9 1994.3l8.5 14.2h-17zM1390.7 1990.6l8.5 14.2h-17zM1395.6 1985.8l8.5 14.2h-17zM1400.4 1981.4l8.5 14.2h-17zM1405.3 1976.2l8.5 14.2h-17zM1410.1 1968.7l8.5 14.2h-17zM1415 1959.4l8.5 14.2h-17zM1419.8 1948.7l8.5 14.2h-17zM1424.7 1938.2l8.5 14.2h-17zM1429.5 1928.1l8.5 14.2h-17zM1434.3 1918.4l8.5 14.2h-17zM1439.2 1908.7l8.5 14.2h-17zM1444 1898.7l8.5 14.2h-17zM1448.9 1889.8l8.5 14.2h-17zM1453.7 1883.4l8.5 14.2h-17zM1458.6 1877.9l8.5 14.2h-17zM1463.4 1873l8.5 14.2h-17zM1468.3 1868.3l8.5 14.2h-17zM1473.1 1863.5l8.5 14.2h-17zM1478 1858.7l8.5 14.2h-17zM1482.8 1853.6l8.5 14.2h-17zM1487.7 1848.1l8.5 14.2h-17zM1492.5 1842.9l8.5 14.2h-17zM1497.4 1838l8.5 14.2h-17zM1502.2 1834.3l8.5 14.2h-17zM1507.1 1832.2l8.5 14.2h-17zM1511.9 1832.1l8.5 14.2h-17zM1516.8 1833.8l8.5 14.2h-17zM1521.6 1836.7l8.5 14.2h-17zM1526.5 1840.5l8.5 14.2h-17zM1531.3 1844.6l8.5 14.2h-17zM1536.2 1849.2l8.5 14.2h-17zM1541 1854.2l8.5 14.2h-17zM1545.8 1859.8l8.5 14.2h-17zM1550.7 1864.9l8.5 14.2h-17zM1555.5 1869.3l8.5 14.2h-17zM1560.4 1873.2l8.5 14.2h-17zM1565.2 1876.3l8.5 14.2h-17zM1570.1 1879l8.5 14.2h-17zM1574.9 1881.9l8.5 14.2h-17zM1579.8 1884.9l8.5 14.2h-17zM1584.6 1887.8l8.5 14.2h-17zM1589.5 1890.4l8.5 14.2h-17zM1594.3 1892.9l8.5 14.2h-17zM1599.2 1895.2l8.5 14.2h-17zM1604 1897.3l8.5 14.2h-17zM1608.9 1899.2l8.5 14.2h-17zM1613.7 1900.9l8.5 14.2h-17zM1618.6 1902.4l8.5 14.2h-17zM1623.4 1903.6l8.5 14.2h-17zM1628.3 1904.4l8.5 14.2h-17zM1633.1 1905l8.5 14.2h-17zM1638 1905.3l8.5 14.2h-17zM1642.8 1905.2l8.5 14.2h-17zM1647.7 1904.9l8.5 14.2h-17zM1652.5 1904.5l8.5 14.2h-17zM1657.4 1904l8.5 14.2h-17zM1662.2 1903.5l8.5 14.2h-17zM1667 1903.1l8.5 14.2h-17zM1671.9 1902.8l8.5 14.2h-17zM1676.7 1902.6l8.5 14.2h-17zM1681.6 1902.6l8.5 14.2h-17zM1686.4 1902.6l8.5 14.2h-17zM1691.3 1902.6l8.5 14.2h-17zM1696.1 1902.7l8.5 14.2h-17zM1701 1903.1l8.5 14.2h-17zM1705.8 1903.5l8.5 14.2h-17zM1710.7 1903.9l8.5 14.2h-17zM1715.5 1904.3l8.5 14.2h-17zM1720.4 1904.7l8.5 14.2h-17zM1725.2 1905.2l8.5 14.2h-17zM1730.1 1905.7l8.5 14.2h-17zM1734.9 1906.3l8.5 14.2h-17zM1739.8 1906.9l8.5 14.2h-17zM1744.6 1907.7l8.5 14.2h-17zM1749.5 1908.3l8.5 14.2h-17zM1754.3 1909.1l8.5 14.2h-17zM1772.4 1916.1l8.5 14.2h-17zM1790.9 1921.4l8.5 14.2h-17zM1809.6 1925.3l8.5 14.2h-17zM1828.7 1929.3l8.5 14.2h-17zM1847.8 1931.9l8.5 14.2h-17zM1868 1932.7l8.5 14.2h-17zM1888 1931.9l8.5 14.2h-17zM1908.4 1929.3l8.5 14.2h-17zM1929 1925.3l8.5 14.2h-17zM1949.9 1920.1l8.5 14.2h-17zM1971.4 1914.8l8.5 14.2h-17zM1993.5 1909.6l8.5 14.2h-17zM2015.7 1909l8.5 14.2h-17z"/>
<path fill="#0f0" d="M1173.8 2079.4h17l-8.5 14.2zM1178.6 2079.4h17l-8.5 14.2zM1183.4 2079.3h17l-8.5 14.2zM1188.3 2079.3h17l-8.5 14.2zM1193.1 2079.2h17l-8.5 14.2zM1198 2079.1h17l-8.5 14.2zM1202.8 2079h17l-8.5 14.2zM1207.7 2078.9h17l-8.5 14.2zM1212.5 2078.5h17l-8.5 14.2zM1217.4 2078h17l-8.5 14.2zM1222.2 2077.4h17l-8.5 14.2zM1227.1 2076.5h17l-8.5 14.2zM1231.9 2075h17l-8.5 14.2zM1236.8 2073.3h17l-8.5 14.2zM1241.6 2071.5h17l-8.5 14.2zM1246.5 2069.1h17l-8.5 14.2zM1251.3 2065.5h17l-8.5 14.2zM1256.2 2060.1h17l-8.5 14.2zM1261 2051.4h17l-8.5 14.2zM1265.9 2039.4h17l-8.5 14.2zM1270.7 2026.8h17l-8.5 14.2zM1275.6 2014.4h17l-8.5 14.2zM1280.4 2004.9h17l-8.5 14.2zM1285.3 1999.6h17l-8.5 14.2zM1290.1 1997.1h17l-8.5 14.2zM1295 1996.6h17l-8.5 14.2zM1299.8 1996.4h17l-8.5 14.2zM1304.6 1997.2h17l-8.5 14.2zM1309.5 1998.8h17l-8.5 14.2zM1314.3 1999.1h17l-8.5 14.2zM1319.2 1998.5h17l-8.5 14.2zM1324 1997.5h17l-8.5 14.2zM1328.9 1996.1h17l-8.5 14.2zM1333.7 1993.6h17l-8.5 14.2zM1338.6 1990.8h17l-8.5 14.2zM1343.4 1988h17l-8.5 14.2zM1348.3 1985h17l-8.5 14.2zM1353.1 1982.1h17l-8.5 14.2zM1358 1979.2h17l-8.5 14.2zM1362.8 1976.2h17l-8.5 14.2zM1367.7 1973.1h17l-8.5 14.2zM1372.5 1969.6h17l-8.5 14.2zM1377.4 1964.9h17l-8.5 14.2zM1382.2 1959.1h17l-8.5 14.2zM1387.1 1952.8h17l-8.5 14.2zM1391.9 1945.9h17l-8.5 14.2zM1396.8 1938.2h17l-8.5 14.2zM1401.6 1930.3h17l-8.5 14.2zM1406.5 1923.3h17l-8.5 14.2zM1411.3 1916.8h17l-8.5 14.2zM1416.2 1910.8h17l-8.5 14.2zM1421 1905.9h17l-8.5 14.2zM1425.8 1902.4h17l-8.5 14.2zM1430.7 1900h17l-8.5 14.2zM1435.5 1898.4h17l-8.5 14.2zM1440.4 1897.8h17l-8.5 14.2zM1445.2 1898.1h17l-8.5 14.2zM1450.1 1898.8h17l-8.5 14.2zM1454.9 1899.7h17l-8.5 14.2zM1459.8 1901.3h17l-8.5 14.2zM1464.6 1903.2h17l-8.5 14.2zM1469.5 1905.5h17l-8.5 14.2zM1474.3 1907.9h17l-8.5 14.2zM1479.2 1909.8h17l-8.5 14.2zM1484 1911.4h17l-8.5 14.2zM1488.9 1912.7h17l-8.5 14.2zM1493.7 1913.5h17l-8.5 14.2zM1498.6 1914.1h17l-8.5 14.2zM1503.4 1914.3h17l-8.5 14.2zM1508.3 1913.8h17l-8.5 14.2zM1513.1 1912.6h17l-8.5 14.2zM1518 1910.9h17l-8.5 14.2zM1522.8 1908.4h17l-8.5 14.2zM1527.7 1905.7h17l-8.5 14.2zM1532.5 1903.2h17l-8.5 14.2zM1537.3 1900.8h17l-8.5 14.2zM1542.2 1898.6h17l-8.5 14.2zM1547 1896.6h17l-8.5 14.2zM1551.9 1895.1h17l-8.5 14.2zM1556.7 1894.1h17l-8.5 14.2zM1561.6 1895h17l-8.5 14.2zM1566.4 1896.7h17l-8.5 14.2zM1571.3 1898.7h17l-8.5 14.2zM1576.1 1901h17l-8.5 14.2zM1581 1903.4h17l-8.5 14.2zM1585.8 1905.9h17l-8.5 14.2zM1590.7 1908.3h17l-8.5 14.2zM1595.5 1910.4h17l-8.5 14.2zM1600.4 1912.3h17l-8.5 14.2zM1605.2 1914.1h17l-8.5 14.2zM1610.1 1915.6h17l-8.5 14.2zM1614.9 1917h17l-8.5 14.2zM1619.8 1918.2h17l-8.5 14.2zM1624.6 1919.2h17l-8.5 14.2zM1629.5 1920.1h17l-8.5 14.2zM1634.3 1921h17l-8.5 14.2zM1639.2 1921.9h17l-8.5 14.2zM1644 1922.4h17l-8.5 14.2zM1648.9 1922.7h17l-8.5 14.2zM1653.7 1922.9h17l-8.5 14.2zM1658.5 1922.9h17l-8.5 14.2zM1663.4 1922.7h17l-8.5 14.2zM1668.2 1922.5h17l-8.5 14.2zM1673.1 1922.1h17l-8.5 14.2zM1677.9 1921.2h17l-8.5 14.2zM1682.8 1920.4h17l-8.5 14.2zM1687.6 1919.6h17l-8.5 14.2zM1692.5 1918.8h17l-8.5 14.2zM1697.3 1918h17l-8.5 14.2zM1702.2 1917h17l-8.5 14.2zM1707 1916h17l-8.5 14.2zM1711.9 1915h17l-8.5 14.2zM1716.7 1914.1h17l-8.5 14.2zM1721.6 1913.1h17l-8.5 14.2zM1726.4 1912.1h17l-8.5 14.2zM1731.3 1911.2h17l-8.5 14.2zM1736.1 1910.2h17l-8.5 14.2zM1741 1909.3h17l-8.5 14.2zM1745.8 1908.3h17l-8.5 14.2zM1763.9 1904.7h17l-8.5 14.2zM1782.4 1899.4h17l-8.5 14.2zM1801.1 1896h17l-8.5 14.2zM1820.2 1892.6h17l-8.5 14.2zM1839.3 1892h17l-8.5 14.2zM1859.5 1896h17l-8.5 14.2zM1879.5 1900.5h17l-8.5 14.2zM1899.9 1905.2h17l-8.5 14.2zM1920.5 1910.5h17l-8.5 14.2zM1941.4 1913.1h17l-8.5 14.2zM1962.9 1913.6h17l-8.5 14.2zM1985 1913.6h17l-8.5 14.2zM2007.2 1913.1h17l-8.5 14.2z"/>
<path fill="#00f" d="M1182.2 2077.2l9.3 9.3l-9.3 9.3l-9.3 -9.3zM1187.1 2077.2l9.3 9.3l-9.3 9.3l-9.3 -9.3zM1191.9 2077.2l9.3 9.3l-9.3 9.3l-9.3 -9.3zM1196.8 2077.1l9.3 9.3l-9.3 9.3l-9.3 -9.3zM1201.6 2077.1l9.3 9.3l-9.3 9.3l-9.3 -9.3zM1206.5 2077l9.3 9.3l-9.3 9.3l-9.3 -9.3zM1211.3 2076.9l9.3 9.3l-9.3 9.3l-9.3 -9.3zM1216.2 2076.8l9.3 9.3l-9.3 9.3l-9.3 -9.3zM1221 2076.7l9.3 9.3l-9.3 9.3l-9.3 -9.3zM1225.9 2076.6l9.3 9.3l-9.3 9.3l-9.3 -9.3zM1230.7 2076.4l9.3 9.3l-9.3 9.3l-9.3 -9.3zM1235.6 2076.2l9.3 9.3l-9.3 9.3l-9.3 -9.3zM1240.4 2076.1l9.3 9.3l-9.3 9.3l-9.3 -9.3zM1245.3 2075.8l9.3 9.3l-9.3 9.3l-9.3 -9.3zM1250.1 2075.6l9.3 9.3l-9.3 9.3l-9.3 -9.3zM1255 2075.4l9.3 9.3l-9.3 9.3l-9.3 -9.3zM1259.8 2075.1l9.3 9.3l-9.3 9.3l-9.3 -9.3zM1264.7 2074.8l9.3 9.3l-9.3 9.3l-9.3 -9.3zM1269.5 2074.1l9.3 9.3l-9.3 9.3l-9.3 -9.3zM1274.4 2072.7l9.3 9.3l-9.3 9.3l-9.3 -9.3zM1279.2 2071l9.3 9.3l-9.3 9.3l-9.3 -9.3zM1284.1 2067.7l9.3 9.3l-9.3 9.3l-9.3 -9.3zM1288.9 2063.2l9.3 9.3l-9.3 9.3l-9.3 -9.3zM1293.8 2057.5l9.3 9.3l-9.3 9.3l-9.3 -9.3zM1298.6 2049l9.3 9.3l-9.3 9.3l-9.3 -9.3zM1303.5 2038.1l9.3 9.3l-9.3 9.3l-9.3 -9.3zM1308.3 2025.5l9.3 9.3l-9.3 9.3l-9.3 -9.3zM1313.1 2013l9.3 9.3l-9.3 9.3l-9.3 -9.3zM1318 2005.6l9.3 9.3l-9.3 9.3l-9.3 -9.3zM1322.8 2003l9.3 9.3l-9.3 9.3l-9.3 -9.3zM1327.7 2005.2l9.3 9.3l-9.3 9.3l-9.3 -9.3zM1332.5 2009.8l9.3 9.3l-9.3 9.3l-9.3 -9.3zM1337.4 2014.3l9.3 9.3l-9.3 9.3l-9.3 -9.3zM1342.2 2017l9.3 9.3l-9.3 9.3l-9.3 -9.3zM1347.1 2017.7l9.3 9.3l-9.3 9.3l-9.3 -9.3zM1351.9 2017.4l9.3 9.3l-9.3 9.3l-9.3 -9.3zM1356.8 2015.5l9.3 9.3l-9.3 9.3l-9.3 -9.3zM1361.6 2013.2l9.3 9.3l-9.3 9.3l-9.3 -9.3zM1366.5 2010.1l9.3 9.3l-9.3 9.3l-9.3 -9.3zM1371.3 2007l9.3 9.3l-9.3 9.3l-9.3 -9.3zM1376.2 2004.2l9.3 9.3l-9.3 9.3l-9.3 -9.3zM1381 2001.3l9.3 9.3l-9.3 9.3l-9.3 -9.3zM1385.9 1998l9.3 9.3l-9.3 9.3l-9.3 -9.3zM1390.7 1994.6l9.3 9.3l-9.3 9.3l-9.3 -9.3zM1395.6 1991.2l9.3 9.3l-9.3 9.3l-9.3 -9.3zM1400.4 1987.8l9.3 9.3l-9.3 9.3l-9.3 -9.3zM1405.3 1984.3l9.3 9.3l-9.3 9.3l-9.3 -9.3zM1410.1 1980.6l9.3 9.3l-9.3 9.3l-9.3 -9.3zM1415 1976.7l9.3 9.3l-9.3 9.3l-9.3 -9.3zM1419.8 1972.6l9.3 9.3l-9.3 9.3l-9.3 -9.3zM1424.7 1968.3l9.3 9.3l-9.3 9.3l-9.3 -9.3zM1429.5 1963.8l9.3 9.3l-9.3 9.3l-9.3 -9.3zM1434.3 1958.9l9.3 9.3l-9.3 9.3l-9.3 -9.3zM1439.2 1954l9.3 9.3l-9.3 9.3l-9.3 -9.3zM1444 1949.6l9.3 9.3l-9.3 9.3l-9.3 -9.3zM1448.9 1945.6l9.3 9.3l-9.3 9.3l-9.3 -9.3zM1453.7 1942.3l9.3 9.3l-9.3 9.3l-9.3 -9.3zM1458.6 1939.6l9.3 9.3l-9.3 9.3l-9.3 -9.3zM1463.4 1937.4l9.3 9.3l-9.3 9.3l-9.3 -9.3zM1468.3 1935.7l9.3 9.3l-9.3 9.3l-9.3 -9.3zM1473.1 1934.4l9.3 9.3l-9.3 9.3l-9.3 -9.3zM1478 1933.6l9.3 9.3l-9.3 9.3l-9.3 -9.3zM1482.8 1933.2l9.3 9.3l-9.3 9.3l-9.3 -9.3zM1487.7 1932.9l9.3 9.3l-9.3 9.3l-9.3 -9.3zM1492.5 1933l9.3 9.3l-9.3 9.3l-9.3 -9.3zM1497.4 1933.7l9.3 9.3l-9.3 9.3l-9.3 -9.3zM1502.2 1935l9.3 9.3l-9.3 9.3l-9.3 -9.3zM1507.1 1936.5l9.3 9.3l-9.3 9.3l-9.3 -9.3zM1511.9 1938.9l9.3 9.3l-9.3 9.3l-9.3 -9.3zM1516.8 1941.6l9.3 9.3l-9.3 9.3l-9.3 -9.3zM1521.6 1944.3l9.3 9.3l-9.3 9.3l-9.3 -9.3zM1526.5 1947.3l9.3 9.3l-9.3 9.3l-9.3 -9.3zM1531.3 1950.1l9.3 9.3l-9.3 9.3l-9.3 -9.3zM1536.2 1952.5l9.3 9.3l-9.3 9.3l-9.3 -9.3zM1541 1954.7l9.3 9.3l-9.3 9.3l-9.3 -9.3zM1545.8 1956.5l9.3 9.3l-9.3 9.3l-9.3 -9.3zM1550.7 1957.9l9.3 9.3l-9.3 9.3l-9.3 -9.3zM1555.5 1959.4l9.3 9.3l-9.3 9.3l-9.3 -9.3zM1560.4 1960.5l9.3 9.3l-9.3 9.3l-9.3 -9.3zM1565.2 1961l9.3 9.3l-9.3 9.3l-9.3 -9.3zM1570.1 1961l9.3 9.3l-9.3 9.3l-9.3 -9.3zM1574.9 1960.9l9.3 9.3l-9.3 9.3l-9.3 -9.3zM1579.8 1960.9l9.3 9.3l-9.3 9.3l-9.3 -9.3zM1584.6 1960.7l9.3 9.3l-9.3 9.3l-9.3 -9.3zM1589.5 1960.5l9.3 9.3l-9.3 9.3l-9.3 -9.3zM1594.3 1960l9.3 9.3l-9.3 9.3l-9.3 -9.3zM1599.2 1959.3l9.3 9.3l-9.3 9.3l-9.3 -9.3zM1604 1958.5l9.3 9.3l-9.3 9.3l-9.3 -9.3zM1608.9 1957.6l9.3 9.3l-9.3 9.3l-9.3 -9.3zM1613.7 1956.8l9.3 9.3l-9.3 9.3l-9.3 -9.3zM1618.6 1956.1l9.3 9.3l-9.3 9.3l-9.3 -9.3zM1623.4 1955.3l9.3 9.3l-9.3 9.3l-9.3 -9.3zM1628.3 1954.4l9.3 9.3l-9.3 9.3l-9.3 -9.3zM1633.1 1953.7l9.3 9.3l-9.3 9.3l-9.3 -9.3zM1638 1952.9l9.3 9.3l-9.3 9.3l-9.3 -9.3zM1642.8 1952.2l9.3 9.3l-9.3 9.3l-9.3 -9.3zM1647.7 1951.5l9.3 9.3l-9.3 9.3l-9.3 -9.3zM1652.5 1950.9l9.3 9.3l-9.3 9.3l-9.3 -9.3zM1657.4 1950.3l9.3 9.3l-9.3 9.3l-9.3 -9.3zM1662.2 1949.8l9.3 9.3l-9.3 9.3l-9.3 -9.3zM1667 1949.5l9.3 9.3l-9.3 9.3l-9.3 -9.3zM1671.9 1949.3l9.3 9.3l-9.3 9.3l-9.3 -9.3zM1676.7 1949.1l9.3 9.3l-9.3 9.3l-9.3 -9.3zM1681.6 1949.1l9.3 9.3l-9.3 9.3l-9.3 -9.3zM1686.4 1949.3l9.3 9.3l-9.3 9.3l-9.3 -9.3zM1691.3 1949.6l9.3 9.3l-9.3 9.3l-9.3 -9.3zM1696.1 1949.8l9.3 9.3l-9.3 9.3l-9.3 -9.3zM1701 1950l9.3 9.3l-9.3 9.3l-9.3 -9.3zM1705.8 1950.3l9.3 9.3l-9.3 9.3l-9.3 -9.3zM1710.7 1950.5l9.3 9.3l-9.3 9.3l-9.3 -9.3zM1715.5 1950.8l9.3 9.3l-9.3 9.3l-9.3 -9.3zM1720.4 1951.2l9.3 9.3l-9.3 9.3l-9.3 -9.3zM1725.2 1951.6l9.3 9.3l-9.3 9.3l-9.3 -9.3zM1730.1 1952l9.3 9.3l-9.3 9.3l-9.3 -9.3zM1734.9 1952.5l9.3 9.3l-9.3 9.3l-9.3 -9.3zM1739.8 1953.1l9.3 9.3l-9.3 9.3l-9.3 -9.3zM1744.6 1953.7l9.3 9.3l-9.3 9.3l-9.3 -9.3zM1749.5 1954.3l9.3 9.3l-9.3 9.3l-9.3 -9.3zM1754.3 1955.1l9.3 9.3l-9.3 9.3l-9.3 -9.3zM1772.4 1958.9l9.3 9.3l-9.3 9.3l-9.3 -9.3zM1790.9 1959.6l9.3 9.3l-9.3 9.3l-9.3 -9.3zM1809.6 1961.5l9.3 9.3l-9.3 9.3l-9.3 -9.3zM1828.7 1962.8l9.3 9.3l-9.3 9.3l-9.3 -9.3zM1847.8 1964.1l9.3 9.3l-9.3 9.3l-9.3 -9.3zM1868 1964.6l9.3 9.3l-9.3 9.3l-9.3 -9.3zM1888 1964.6l9.3 9.3l-9.3 9.3l-9.3 -9.3zM1908.4 1964.6l9.3 9.3l-9.3 9.3l-9.3 -9.3zM1929 1964.1l9.3 9.3l-9.3 9.3l-9.3 -9.3zM1949.9 1962.8l9.3 9.3l-9.3 9.3l-9.3 -9.3zM1971.4 1960.7l9.3 9.3l-9.3 9.3l-9.3 -9.3zM1993.5 1958.9l9.3 9.3l-9.3 9.3l-9.3 -9.3zM2015.7 1957.5l9.3 9.3l-9.3 9.3l-9.3 -9.3z"/>
</g>
<path fill="none" stroke="#000" stroke-width="2.8" stroke-linejoin="miter" d="M199.4 44.3H1047.8V2136.7H199.4ZM199.4 742H1047.8M199.4 1440.4H1047.8M199.4 742v10.5M260 742v4.7M320.6 742v10.5M381.2 742v4.7M441.8 742v10.5M502.4 742v4.7M563 742v10.5M623.6 742v4.7M684.2 742v10.5M744.8 742v4.7M805.4 742v10.5M866 742v4.7M926.6 742v10.5M987.2 742v4.7M1047.8 742v10.5M199.4 1440.4v10.5M260 1440.4v4.7M320.6 1440.4v10.5M381.2 1440.4v4.7M441.8 1440.4v10.5M502.4 1440.4v4.7M563 1440.4v10.5M623.6 1440.4v4.7M684.2 1440.4v10.5M744.8 1440.4v4.7M805.4 1440.4v10.5M866 1440.4v4.7M926.6 1440.4v10.5M987.2 1440.4v4.7M1047.8 1440.4v10.5M199.4 2136.7v10.5M260 2136.7v4.7M320.6 2136.7v10.5M381.2 2136.7v4.7M441.8 2136.7v10.5M502.4 2136.7v4.7M563 2136.7v10.5M623.6 2136.7v4.7M684.2 2136.7v10.5M744.8 2136.7v4.7M805.4 2136.7v10.5M866 2136.7v4.7M926.6 2136.7v10.5M987.2 2136.7v4.7M1047.8 2136.7v10.5M1181.4 44.3H2028.4V2136.7H1181.4ZM1181.4 742H2028.4M1181.4 1440.4H2028.4M1181.4 742v10.5M1241.9 742v4.7M1302.4 742v10.5M1362.9 742v4.7M1423.4 742v10.5M1483.9 742v4.7M1544.4 742v10.5M1604.9 742v4.7M1665.4 742v10.5M1725.9 742v4.7M1786.4 742v10.5M1846.9 742v4.7M1907.4 742v10.5M1967.9 742v4.7M2028.4 742v10.5M1181.4 1440.4v10.5M1241.9 1440.4v4.7M1302.4 1440.4v10.5M1362.9 1440.4v4.7M1423.4 1440.4v10.5M1483.9 1440.4v4.7M1544.4 1440.4v10.5M1604.9 1440.4v4.7M1665.4 1440.4v10.5M1725.9 1440.4v4.7M1786.4 1440.4v10.5M1846.9 1440.4v4.7M1907.4 1440.4v10.5M1967.9 1440.4v4.7M2028.4 1440.4v10.5M1181.4 2136.7v10.5M1241.9 2136.7v4.7M1302.4 2136.7v10.5M1362.9 2136.7v4.7M1423.4 2136.7v10.5M1483.9 2136.7v4.7M1544.4 2136.7v10.5M1604.9 2136.7v4.7M1665.4 2136.7v10.5M1725.9 2136.7v4.7M1786.4 2136.7v10.5M1846.9 2136.7v4.7M1907.4 2136.7v10.5M1967.9 2136.7v4.7M2028.4 2136.7v10.5"/>
<g font-family="'Liberation Serif','Times New Roman',serif" font-size="43.4" text-anchor="middle" fill="#000">
<text x="198.1" y="2187.4">8.97</text>
<text x="319.3" y="2187.4">8.98</text>
<text x="440.5" y="2187.4">8.99</text>
<text x="561.7" y="2187.4">9.00</text>
<text x="682.9" y="2187.4">9.01</text>
<text x="804.1" y="2187.4">9.02</text>
<text x="925.3" y="2187.4">9.03</text>
<text x="1046.5" y="2187.4">9.04</text>
<text x="1180.1" y="2187.4">8.97</text>
<text x="1301.1" y="2187.4">8.98</text>
<text x="1422.1" y="2187.4">8.99</text>
<text x="1543.1" y="2187.4">9.00</text>
<text x="1664.1" y="2187.4">9.01</text>
<text x="1785.1" y="2187.4">9.02</text>
<text x="1906.1" y="2187.4">9.03</text>
<text x="2027.1" y="2187.4">9.04</text>
</g>
<text font-family="'Liberation Serif','Times New Roman',serif" font-size="59.5" transform="translate(911.5,2280.8) scale(1.0225,1)" fill="#000">Energy(10<tspan font-size="33" dy="-32.3">3</tspan><tspan dy="32.3">eV)</tspan></text>
<text font-family="'Liberation Serif','Times New Roman',serif" font-size="72.5" text-anchor="middle" transform="translate(86,1107.5) rotate(-90) scale(0.978,1)" fill="#000">Normalized absorbance (a.u.)</text>
<g font-family="'Liberation Sans',Arial,sans-serif" font-size="43" fill="#000">
<text transform="translate(208.3,85) scale(1.09,1)">(a)</text>
<text transform="translate(205.8,787) scale(1.09,1)">(b)</text>
<text transform="translate(205.1,1489) scale(1.09,1)">(c)</text>
<text transform="translate(1190,86) scale(1.09,1)">(d)</text>
<text transform="translate(1193.3,795) scale(1.09,1)">(e)</text>
<text transform="translate(1186.3,1485) scale(1.09,1)">(f)</text>
</g>
<g font-family="'Liberation Serif','Times New Roman',serif" font-size="59.5" font-weight="bold">
<text x="705" y="428.8" fill="#000">CuO:100%</text>
<text x="1699" y="443.7" fill="#000">CuO:100%</text>
<text x="756.4" y="1051.2" fill="#0f0">Cu:60.6%</text>
<text x="699" y="1287" fill="#00f">Cu<tspan font-size="34" dy="22">2</tspan><tspan dy="-22">O:39.4%</tspan></text>
<text x="589" y="1749.8" fill="#000">CuO:53.6%</text>
<text x="578.4" y="1915.8" fill="#0f0">Cu:30.3%</text>
<text x="527" y="2091.1" fill="#00f">Cu<tspan font-size="34" dy="22">2</tspan><tspan dy="-22">O:16.1%</tspan></text>
<text x="1716.7" y="1085.2" fill="#0f0">Cu:52.73%</text>
<text x="1638.5" y="1271.6" fill="#00f">Cu<tspan font-size="34" dy="22">2</tspan><tspan dy="-22">O:47.27%</tspan></text>
<text x="1497.2" y="1797.6" fill="#000">CuO:37.8%</text>
<text x="1755.4" y="1876.1" fill="#0f0">Cu:36.9%</text>
<text x="1439.9" y="2053.7" fill="#00f">Cu<tspan font-size="34" dy="22">2</tspan><tspan dy="-22">O:25.3%</tspan></text>
</g>
</svg>
</body></html>
